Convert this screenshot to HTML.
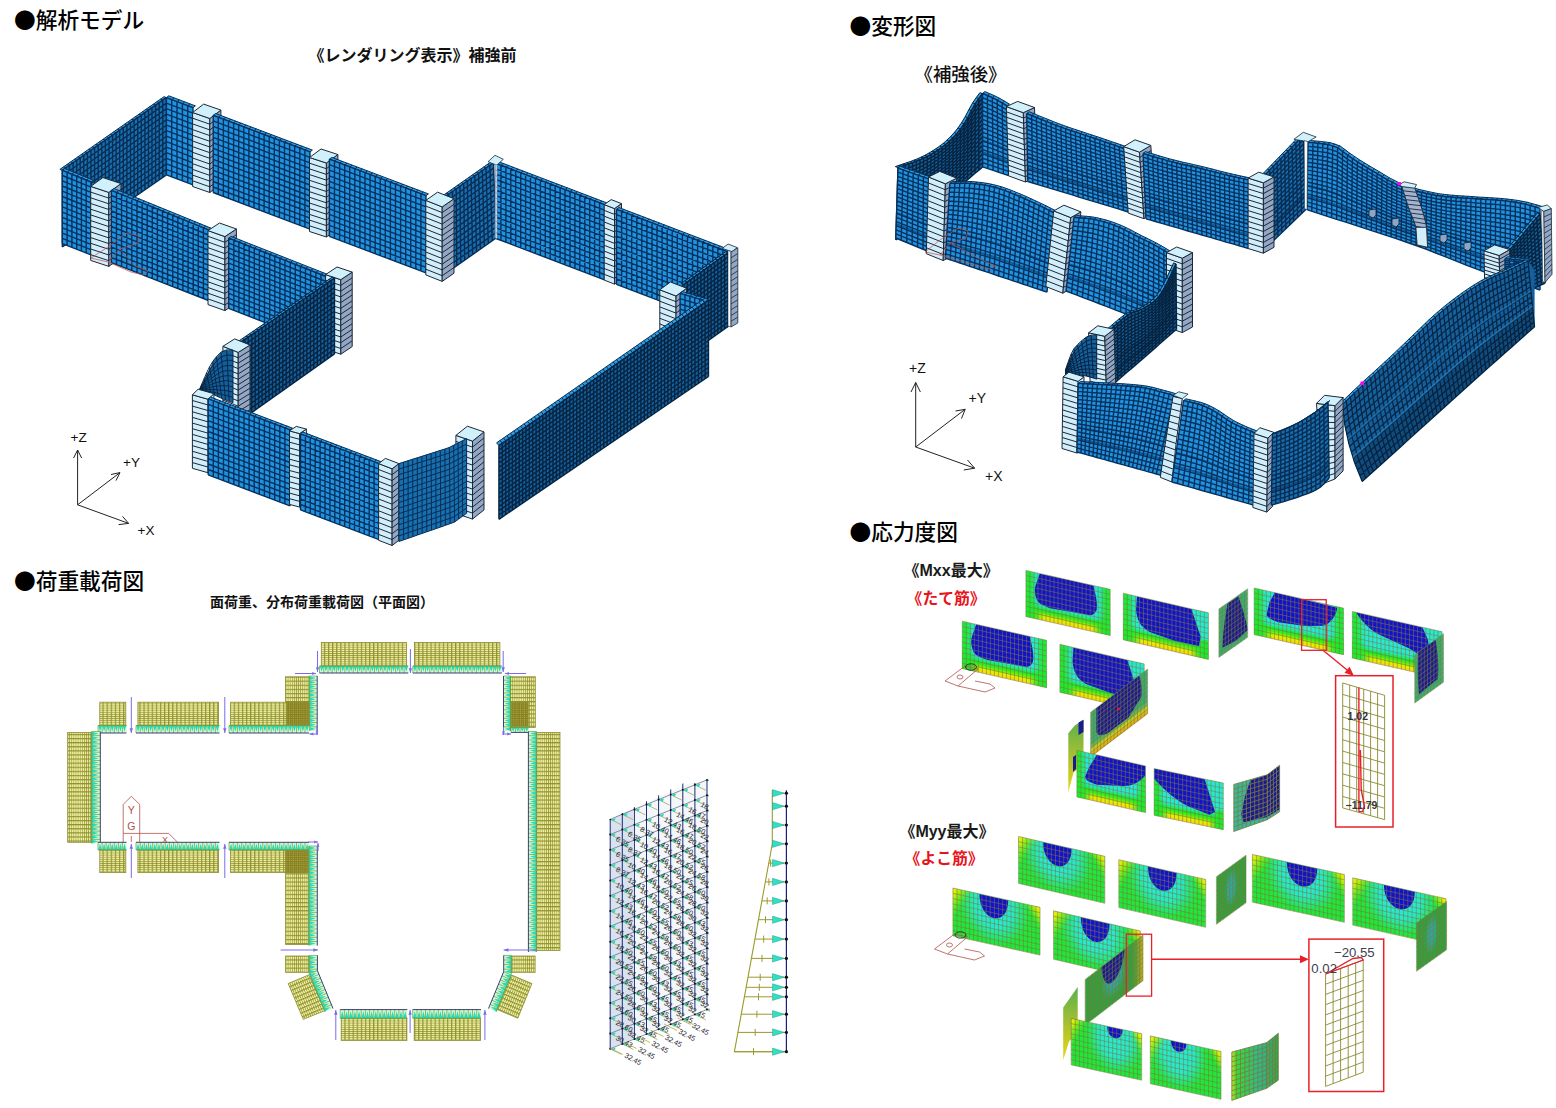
<!DOCTYPE html>
<html lang="ja"><head><meta charset="utf-8"><title>解析モデル</title>
<style>
html,body{margin:0;padding:0;background:#fff}
body{width:1556px;height:1108px;overflow:hidden;position:relative}
svg{position:absolute;left:0;top:0}
svg text{font-family:"Liberation Sans","Noto Sans CJK JP",sans-serif}
svg text.j{font-family:"Noto Sans CJK JP",sans-serif}
</style></head><body>
<svg width="1556" height="1108" viewBox="0 0 1556 1108">
<polygon points="59.9,169.4 164,96.7 166.4,97.6 62.3,170.3" fill="#2A9CE6"/>
<path d="M59.9 169.4L62.3 170.3M63.5 166.9L65.9 167.8M67.1 164.4L69.5 165.3M70.7 161.9L73.1 162.8M74.3 159.4L76.7 160.3M77.8 156.9L80.2 157.8M81.4 154.4L83.8 155.3M85 151.9L87.4 152.8M88.6 149.3L91 150.2M92.2 146.8L94.6 147.7M95.8 144.3L98.2 145.2M99.4 141.8L101.8 142.7M103 139.3L105.4 140.2M106.6 136.8L109 137.7M110.2 134.3L112.6 135.2M113.7 131.8L116.1 132.7M117.3 129.3L119.7 130.2M120.9 126.8L123.3 127.7M124.5 124.3L126.9 125.2M128.1 121.8L130.5 122.7M131.7 119.3L134.1 120.2M135.3 116.8L137.7 117.7M138.9 114.2L141.3 115.1M142.5 111.7L144.9 112.6M146.1 109.2L148.5 110.1M149.6 106.7L152 107.6M153.2 104.2L155.6 105.1M156.8 101.7L159.2 102.6M160.4 99.2L162.8 100.1M164 96.7L166.4 97.6M59.9 169.4L164 96.7M62.3 170.3L166.4 97.6" fill="none" stroke="#082C52" stroke-width="1"/>
<polygon points="62.3,170.3 166.4,97.6 166.4,174.8 62.3,247" fill="#176FB0"/>
<path d="M62.3 170.3L62.3 247M65.9 167.8L65.9 244.5M69.5 165.3L69.5 242M73.1 162.8L73.1 239.5M76.7 160.3L76.7 237M80.2 157.8L80.2 234.6M83.8 155.3L83.8 232.1M87.4 152.8L87.4 229.6M91 150.2L91 227.1M94.6 147.7L94.6 224.6M98.2 145.2L98.2 222.1M101.8 142.7L101.8 219.6M105.4 140.2L105.4 217.1M109 137.7L109 214.6M112.6 135.2L112.6 212.1M116.1 132.7L116.1 209.7M119.7 130.2L119.7 207.2M123.3 127.7L123.3 204.7M126.9 125.2L126.9 202.2M130.5 122.7L130.5 199.7M134.1 120.2L134.1 197.2M137.7 117.7L137.7 194.7M141.3 115.1L141.3 192.2M144.9 112.6L144.9 189.7M148.5 110.1L148.5 187.2M152 107.6L152 184.8M155.6 105.1L155.6 182.3M159.2 102.6L159.2 179.8M162.8 100.1L162.8 177.3M166.4 97.6L166.4 174.8M62.3 170.3L166.4 97.6M62.3 175.8L166.4 103.1M62.3 181.3L166.4 108.6M62.3 186.7L166.4 114.1M62.3 192.2L166.4 119.7M62.3 197.7L166.4 125.2M62.3 203.2L166.4 130.7M62.3 208.7L166.4 136.2M62.3 214.1L166.4 141.7M62.3 219.6L166.4 147.2M62.3 225.1L166.4 152.7M62.3 230.6L166.4 158.3M62.3 236L166.4 163.8M62.3 241.5L166.4 169.3M62.3 247L166.4 174.8" fill="none" stroke="#082C52" stroke-width="1.4"/>
<polygon points="168.8,95.8 195.4,105.9 193,107.7 166.4,97.6" fill="#2A9CE6"/>
<path d="M168.8 95.8L166.4 97.6M174.1 97.8L171.7 99.6M179.4 99.8L177 101.6M184.8 101.8L182.4 103.6M190.1 103.8L187.7 105.6M195.4 105.9L193 107.7M168.8 95.8L195.4 105.9M166.4 97.6L193 107.7" fill="none" stroke="#08305C" stroke-width="1"/>
<polygon points="166.4,97.6 193,107.7 193,184.9 166.4,174.8" fill="#1F93E0"/>
<path d="M166.4 97.6L166.4 174.8M171.7 99.6L171.7 176.8M177 101.6L177 178.8M182.4 103.6L182.4 180.8M187.7 105.6L187.7 182.8M193 107.7L193 184.9M166.4 97.6L193 107.7M166.4 103.1L193 113.2M166.4 108.6L193 118.7M166.4 114.1L193 124.2M166.4 119.7L193 129.7M166.4 125.2L193 135.2M166.4 130.7L193 140.7M166.4 136.2L193 146.3M166.4 141.7L193 151.8M166.4 147.2L193 157.3M166.4 152.7L193 162.8M166.4 158.3L193 168.3M166.4 163.8L193 173.8M166.4 169.3L193 179.3M166.4 174.8L193 184.9" fill="none" stroke="#08305C" stroke-width="1.4"/>
<polygon points="192.6,112.5 209.8,118.5 209.8,192.5 192.6,186.5" fill="#D3EEFB" stroke="#1B2836" stroke-width="1"/>
<polygon points="209.8,118.5 220.9,110.1 220.9,184.1 209.8,192.5" fill="#93A6C4" stroke="#1B2836" stroke-width="1"/>
<polygon points="192.6,112.5 209.8,118.5 220.9,110.1 203.7,104.1" fill="#D0F0FC" stroke="#1B2836" stroke-width="1"/>
<path d="M192.6 118.2L209.8 124.2L220.9 115.8M192.6 123.9L209.8 129.9L220.9 121.5M192.6 129.6L209.8 135.6L220.9 127.2M192.6 135.3L209.8 141.3L220.9 132.9M192.6 141L209.8 147L220.9 138.6M192.6 146.7L209.8 152.7L220.9 144.3M192.6 152.3L209.8 158.3L220.9 149.9M192.6 158L209.8 164L220.9 155.6M192.6 163.7L209.8 169.7L220.9 161.3M192.6 169.4L209.8 175.4L220.9 167M192.6 175.1L209.8 181.1L220.9 172.7M192.6 180.8L209.8 186.8L220.9 178.4" fill="none" stroke="#1B2836" stroke-width="1"/>
<polygon points="215.6,113.5 312.4,150.1 310,151.9 213.2,115.3" fill="#2A9CE6"/>
<path d="M215.6 113.5L213.2 115.3M220.7 115.4L218.3 117.2M225.8 117.3L223.4 119.1M230.9 119.3L228.5 121.1M236 121.2L233.6 123M241.1 123.1L238.7 124.9M246.2 125L243.8 126.8M251.3 127L248.9 128.8M256.4 128.9L254 130.7M261.5 130.8L259.1 132.6M266.5 132.7L264.1 134.5M271.6 134.7L269.2 136.5M276.7 136.6L274.3 138.4M281.8 138.5L279.4 140.3M286.9 140.5L284.5 142.3M292 142.4L289.6 144.2M297.1 144.3L294.7 146.1M302.2 146.2L299.8 148M307.3 148.2L304.9 150M312.4 150.1L310 151.9M215.6 113.5L312.4 150.1M213.2 115.3L310 151.9" fill="none" stroke="#08305C" stroke-width="1"/>
<polygon points="213.2,115.3 310,151.9 310,229.1 213.2,192.5" fill="#1F93E0"/>
<path d="M213.2 115.3L213.2 192.5M218.3 117.2L218.3 194.4M223.4 119.1L223.4 196.3M228.5 121.1L228.5 198.3M233.6 123L233.6 200.2M238.7 124.9L238.7 202.1M243.8 126.8L243.8 204M248.9 128.8L248.9 206M254 130.7L254 207.9M259.1 132.6L259.1 209.8M264.1 134.5L264.1 211.7M269.2 136.5L269.2 213.7M274.3 138.4L274.3 215.6M279.4 140.3L279.4 217.5M284.5 142.3L284.5 219.5M289.6 144.2L289.6 221.4M294.7 146.1L294.7 223.3M299.8 148L299.8 225.2M304.9 150L304.9 227.2M310 151.9L310 229.1M213.2 115.3L310 151.9M213.2 120.8L310 157.4M213.2 126.3L310 162.9M213.2 131.8L310 168.4M213.2 137.3L310 173.9M213.2 142.9L310 179.5M213.2 148.4L310 185M213.2 153.9L310 190.5M213.2 159.4L310 196M213.2 164.9L310 201.5M213.2 170.4L310 207M213.2 175.9L310 212.5M213.2 181.5L310 218.1M213.2 187L310 223.6M213.2 192.5L310 229.1" fill="none" stroke="#08305C" stroke-width="1.4"/>
<polygon points="309.5,157.5 326.4,163 326.4,237 309.5,231.5" fill="#D3EEFB" stroke="#1B2836" stroke-width="1"/>
<polygon points="326.4,163 337.9,154.5 337.9,228.5 326.4,237" fill="#93A6C4" stroke="#1B2836" stroke-width="1"/>
<polygon points="309.5,157.5 326.4,163 337.9,154.5 321,149" fill="#D0F0FC" stroke="#1B2836" stroke-width="1"/>
<path d="M309.5 163.2L326.4 168.7L337.9 160.2M309.5 168.9L326.4 174.4L337.9 165.9M309.5 174.6L326.4 180.1L337.9 171.6M309.5 180.3L326.4 185.8L337.9 177.3M309.5 186L326.4 191.5L337.9 183M309.5 191.7L326.4 197.2L337.9 188.7M309.5 197.3L326.4 202.8L337.9 194.3M309.5 203L326.4 208.5L337.9 200M309.5 208.7L326.4 214.2L337.9 205.7M309.5 214.4L326.4 219.9L337.9 211.4M309.5 220.1L326.4 225.6L337.9 217.1M309.5 225.8L326.4 231.3L337.9 222.8" fill="none" stroke="#1B2836" stroke-width="1"/>
<polygon points="331.8,157.4 428.4,193.9 426,195.7 329.4,159.2" fill="#2A9CE6"/>
<path d="M331.8 157.4L329.4 159.2M336.9 159.3L334.5 161.1M342 161.3L339.6 163.1M347.1 163.2L344.7 165M352.1 165.1L349.7 166.9M357.2 167L354.8 168.8M362.3 168.9L359.9 170.7M367.4 170.9L365 172.7M372.5 172.8L370.1 174.6M377.6 174.7L375.2 176.5M382.6 176.6L380.2 178.4M387.7 178.6L385.3 180.4M392.8 180.5L390.4 182.3M397.9 182.4L395.5 184.2M403 184.3L400.6 186.1M408.1 186.2L405.7 188M413.1 188.2L410.7 190M418.2 190.1L415.8 191.9M423.3 192L420.9 193.8M428.4 193.9L426 195.7M331.8 157.4L428.4 193.9M329.4 159.2L426 195.7" fill="none" stroke="#08305C" stroke-width="1"/>
<polygon points="329.4,159.2 426,195.7 426,272.9 329.4,236.4" fill="#1F93E0"/>
<path d="M329.4 159.2L329.4 236.4M334.5 161.1L334.5 238.3M339.6 163.1L339.6 240.3M344.7 165L344.7 242.2M349.7 166.9L349.7 244.1M354.8 168.8L354.8 246M359.9 170.7L359.9 247.9M365 172.7L365 249.9M370.1 174.6L370.1 251.8M375.2 176.5L375.2 253.7M380.2 178.4L380.2 255.6M385.3 180.4L385.3 257.6M390.4 182.3L390.4 259.5M395.5 184.2L395.5 261.4M400.6 186.1L400.6 263.3M405.7 188L405.7 265.2M410.7 190L410.7 267.2M415.8 191.9L415.8 269.1M420.9 193.8L420.9 271M426 195.7L426 272.9M329.4 159.2L426 195.7M329.4 164.7L426 201.2M329.4 170.2L426 206.8M329.4 175.8L426 212.3M329.4 181.3L426 217.8M329.4 186.8L426 223.3M329.4 192.3L426 228.8M329.4 197.8L426 234.3M329.4 203.3L426 239.8M329.4 208.8L426 245.4M329.4 214.4L426 250.9M329.4 219.9L426 256.4M329.4 225.4L426 261.9M329.4 230.9L426 267.4M329.4 236.4L426 272.9" fill="none" stroke="#08305C" stroke-width="1.4"/>
<polygon points="442.6,195.8 491.1,161.8 493.5,162.7 445,196.7" fill="#2A9CE6"/>
<path d="M442.6 195.8L445 196.7M446.3 193.2L448.7 194.1M450.1 190.6L452.5 191.5M453.8 188L456.2 188.9M457.5 185.3L459.9 186.2M461.3 182.7L463.7 183.6M465 180.1L467.4 181M468.7 177.5L471.1 178.4M472.4 174.9L474.8 175.8M476.2 172.3L478.6 173.2M479.9 169.6L482.3 170.5M483.6 167L486 167.9M487.4 164.4L489.8 165.3M491.1 161.8L493.5 162.7M442.6 195.8L491.1 161.8M445 196.7L493.5 162.7" fill="none" stroke="#082C52" stroke-width="1"/>
<polygon points="445,196.7 493.5,162.7 496.2,238 445,274" fill="#176FB0"/>
<path d="M445 196.7L445 274M448.7 194.1L448.9 271.2M452.5 191.5L452.9 268.5M456.2 188.9L456.8 265.7M459.9 186.2L460.8 262.9M463.7 183.6L464.7 260.2M467.4 181L468.6 257.4M471.1 178.4L472.6 254.6M474.8 175.8L476.5 251.8M478.6 173.2L480.4 249.1M482.3 170.5L484.4 246.3M486 167.9L488.3 243.5M489.8 165.3L492.3 240.8M493.5 162.7L496.2 238M445 196.7L493.5 162.7M445 202.2L493.7 168.1M445 207.7L493.9 173.5M445 213.3L494.1 178.8M445 218.8L494.3 184.2M445 224.3L494.5 189.6M445 229.8L494.7 195M445 235.4L494.9 200.4M445 240.9L495 205.7M445 246.4L495.2 211.1M445 251.9L495.4 216.5M445 257.4L495.6 221.9M445 263L495.8 227.2M445 268.5L496 232.6M445 274L496.2 238" fill="none" stroke="#082C52" stroke-width="1.4"/>
<polygon points="498.4,161.6 606.9,202.9 604.5,204.7 496,163.4" fill="#2A9CE6"/>
<path d="M498.4 161.6L496 163.4M503.3 163.5L500.9 165.3M508.3 165.4L505.9 167.2M513.2 167.2L510.8 169M518.1 169.1L515.7 170.9M523.1 171L520.7 172.8M528 172.9L525.6 174.7M532.9 174.8L530.5 176.6M537.9 176.6L535.5 178.4M542.8 178.5L540.4 180.3M547.7 180.4L545.3 182.2M552.6 182.3L550.2 184.1M557.6 184.1L555.2 185.9M562.5 186L560.1 187.8M567.4 187.9L565 189.7M572.4 189.8L570 191.6M577.3 191.7L574.9 193.5M582.2 193.5L579.8 195.3M587.2 195.4L584.8 197.2M592.1 197.3L589.7 199.1M597 199.2L594.6 201M602 201.1L599.6 202.9M606.9 202.9L604.5 204.7M498.4 161.6L606.9 202.9M496 163.4L604.5 204.7" fill="none" stroke="#08305C" stroke-width="1"/>
<polygon points="496,163.4 604.5,204.7 604.5,279.8 496,238.5" fill="#1F93E0"/>
<path d="M496 163.4L496 238.5M500.9 165.3L500.9 240.4M505.9 167.2L505.9 242.3M510.8 169L510.8 244.1M515.7 170.9L515.7 246M520.7 172.8L520.7 247.9M525.6 174.7L525.6 249.8M530.5 176.6L530.5 251.7M535.5 178.4L535.5 253.5M540.4 180.3L540.4 255.4M545.3 182.2L545.3 257.3M550.2 184.1L550.2 259.2M555.2 185.9L555.2 261M560.1 187.8L560.1 262.9M565 189.7L565 264.8M570 191.6L570 266.7M574.9 193.5L574.9 268.6M579.8 195.3L579.8 270.4M584.8 197.2L584.8 272.3M589.7 199.1L589.7 274.2M594.6 201L594.6 276.1M599.6 202.9L599.6 278M604.5 204.7L604.5 279.8M496 163.4L604.5 204.7M496 168.8L604.5 210.1M496 174.1L604.5 215.5M496 179.5L604.5 220.8M496 184.9L604.5 226.2M496 190.2L604.5 231.6M496 195.6L604.5 236.9M496 200.9L604.5 242.3M496 206.3L604.5 247.7M496 211.7L604.5 253M496 217L604.5 258.4M496 222.4L604.5 263.7M496 227.8L604.5 269.1M496 233.1L604.5 274.5M496 238.5L604.5 279.8" fill="none" stroke="#08305C" stroke-width="1.4"/>
<polygon points="604.2,204.6 614.5,208.6 614.5,284.1 604.2,280.1" fill="#D3EEFB" stroke="#1B2836" stroke-width="1"/>
<polygon points="614.5,208.6 621.5,203.6 621.5,279.1 614.5,284.1" fill="#93A6C4" stroke="#1B2836" stroke-width="1"/>
<polygon points="604.2,204.6 614.5,208.6 621.5,203.6 611.2,199.6" fill="#D0F0FC" stroke="#1B2836" stroke-width="1"/>
<path d="M604.2 210.4L614.5 214.4L621.5 209.4M604.2 216.2L614.5 220.2L621.5 215.2M604.2 222L614.5 226L621.5 221M604.2 227.8L614.5 231.8L621.5 226.8M604.2 233.6L614.5 237.6L621.5 232.6M604.2 239.4L614.5 243.4L621.5 238.4M604.2 245.3L614.5 249.3L621.5 244.3M604.2 251.1L614.5 255.1L621.5 250.1M604.2 256.9L614.5 260.9L621.5 255.9M604.2 262.7L614.5 266.7L621.5 261.7M604.2 268.5L614.5 272.5L621.5 267.5M604.2 274.3L614.5 278.3L621.5 273.3" fill="none" stroke="#1B2836" stroke-width="1"/>
<polygon points="618.9,207.5 730.4,250 728,251.8 616.5,209.3" fill="#2A9CE6"/>
<path d="M618.9 207.5L616.5 209.3M624 209.4L621.6 211.2M629 211.4L626.6 213.2M634.1 213.3L631.7 215.1M639.2 215.2L636.8 217M644.2 217.2L641.8 219M649.3 219.1L646.9 220.9M654.4 221L652 222.8M659.4 223L657 224.8M664.5 224.9L662.1 226.7M669.6 226.8L667.2 228.6M674.6 228.8L672.2 230.6M679.7 230.7L677.3 232.5M684.8 232.6L682.4 234.4M689.9 234.5L687.5 236.3M694.9 236.5L692.5 238.3M700 238.4L697.6 240.2M705.1 240.3L702.7 242.1M710.1 242.3L707.7 244.1M715.2 244.2L712.8 246M720.3 246.1L717.9 247.9M725.3 248.1L722.9 249.9M730.4 250L728 251.8M618.9 207.5L730.4 250M616.5 209.3L728 251.8" fill="none" stroke="#08305C" stroke-width="1"/>
<polygon points="616.5,209.3 728,251.8 728,326.9 616.5,284.4" fill="#1F93E0"/>
<path d="M616.5 209.3L616.5 284.4M621.6 211.2L621.6 286.3M626.6 213.2L626.6 288.3M631.7 215.1L631.7 290.2M636.8 217L636.8 292.1M641.8 219L641.8 294.1M646.9 220.9L646.9 296M652 222.8L652 297.9M657 224.8L657 299.9M662.1 226.7L662.1 301.8M667.2 228.6L667.2 303.7M672.2 230.6L672.2 305.7M677.3 232.5L677.3 307.6M682.4 234.4L682.4 309.5M687.5 236.3L687.5 311.4M692.5 238.3L692.5 313.4M697.6 240.2L697.6 315.3M702.7 242.1L702.7 317.2M707.7 244.1L707.7 319.2M712.8 246L712.8 321.1M717.9 247.9L717.9 323M722.9 249.9L722.9 325M728 251.8L728 326.9M616.5 209.3L728 251.8M616.5 214.7L728 257.2M616.5 220L728 262.5M616.5 225.4L728 267.9M616.5 230.8L728 273.2M616.5 236.1L728 278.6M616.5 241.5L728 284M616.5 246.9L728 289.3M616.5 252.2L728 294.7M616.5 257.6L728 300.1M616.5 263L728 305.4M616.5 268.3L728 310.8M616.5 273.7L728 316.2M616.5 279L728 321.5M616.5 284.4L728 326.9" fill="none" stroke="#08305C" stroke-width="1.4"/>
<polygon points="488,161.7 495,155.3 503.3,159.3 496.7,165.2" fill="#D0F0FC" stroke="#1B2836" stroke-width="0.8"/>
<polygon points="495.2,164.3 497,165 497,238.5 495.2,237.8" fill="#F4FBFF"/>
<path d="M495.2 164.3L495.2 237.8M497 165L497 238.5M495.2 164.3L497 165M495.2 170L497 170.7M495.2 175.6L497 176.3M495.2 181.3L497 182M495.2 186.9L497 187.6M495.2 192.6L497 193.3M495.2 198.2L497 198.9M495.2 203.9L497 204.6M495.2 209.5L497 210.2M495.2 215.2L497 215.9M495.2 220.8L497 221.5M495.2 226.5L497 227.2M495.2 232.1L497 232.8M495.2 237.8L497 238.5" fill="none" stroke="#7A8CA6" stroke-width="0.8"/>
<polygon points="425.8,200.4 442.2,206.9 442.2,281.4 425.8,274.9" fill="#D3EEFB" stroke="#1B2836" stroke-width="1"/>
<polygon points="442.2,206.9 454,198.7 454,273.2 442.2,281.4" fill="#93A6C4" stroke="#1B2836" stroke-width="1"/>
<polygon points="425.8,200.4 442.2,206.9 454,198.7 437.6,192.2" fill="#D0F0FC" stroke="#1B2836" stroke-width="1"/>
<path d="M425.8 206.1L442.2 212.6L454 204.4M425.8 211.9L442.2 218.4L454 210.2M425.8 217.6L442.2 224.1L454 215.9M425.8 223.3L442.2 229.8L454 221.6M425.8 229.1L442.2 235.6L454 227.4M425.8 234.8L442.2 241.3L454 233.1M425.8 240.5L442.2 247L454 238.8M425.8 246.2L442.2 252.7L454 244.5M425.8 252L442.2 258.5L454 250.3M425.8 257.7L442.2 264.2L454 256M425.8 263.4L442.2 269.9L454 261.7M425.8 269.2L442.2 275.7L454 267.5" fill="none" stroke="#1B2836" stroke-width="1"/>
<polygon points="681.4,283.4 725.4,251.8 728,252.8 684,284.4" fill="#2A9CE6"/>
<path d="M681.4 283.4L684 284.4M684.8 281L687.4 282M688.2 278.5L690.8 279.5M691.6 276.1L694.2 277.1M694.9 273.7L697.5 274.7M698.3 271.2L700.9 272.2M701.7 268.8L704.3 269.8M705.1 266.4L707.7 267.4M708.5 264L711.1 265M711.9 261.5L714.5 262.5M715.2 259.1L717.8 260.1M718.6 256.7L721.2 257.7M722 254.2L724.6 255.2M725.4 251.8L728 252.8M681.4 283.4L725.4 251.8M684 284.4L728 252.8" fill="none" stroke="#06233F" stroke-width="1"/>
<polygon points="684,284.4 728,252.8 728,326.4 684,358" fill="#145F9C"/>
<path d="M684 284.4L684 358M687.4 282L687.4 355.6M690.8 279.5L690.8 353.1M694.2 277.1L694.2 350.7M697.5 274.7L697.5 348.3M700.9 272.2L700.9 345.8M704.3 269.8L704.3 343.4M707.7 267.4L707.7 341M711.1 265L711.1 338.6M714.5 262.5L714.5 336.1M717.8 260.1L717.8 333.7M721.2 257.7L721.2 331.3M724.6 255.2L724.6 328.8M728 252.8L728 326.4M684 284.4L728 252.8M684 288.7L728 257.1M684 293.1L728 261.5M684 297.4L728 265.8M684 301.7L728 270.1M684 306L728 274.4M684 310.4L728 278.8M684 314.7L728 283.1M684 319L728 287.4M684 323.4L728 291.8M684 327.7L728 296.1M684 332L728 300.4M684 336.4L728 304.8M684 340.7L728 309.1M684 345L728 313.4M684 349.3L728 317.7M684 353.7L728 322.1M684 358L728 326.4" fill="none" stroke="#06233F" stroke-width="1.4"/>
<polygon points="722.3,248.4 728,244 737.3,247.6 732,251.7" fill="#D0F0FC" stroke="#1B2836" stroke-width="0.8"/>
<polygon points="728,250.3 731,252 731,327 728,326" fill="#F4FBFF" stroke="#1B2836" stroke-width="0.5"/>
<polygon points="731,252 737.8,247.8 737.8,323 731,327" fill="#93A6C4"/>
<path d="M731 252L731 327M737.8 247.8L737.8 323M731 252L737.8 247.8M731 257.8L737.8 253.6M731 263.5L737.8 259.4M731 269.3L737.8 265.2M731 275.1L737.8 270.9M731 280.8L737.8 276.7M731 286.6L737.8 282.5M731 292.4L737.8 288.3M731 298.2L737.8 294.1M731 303.9L737.8 299.9M731 309.7L737.8 305.6M731 315.5L737.8 311.4M731 321.2L737.8 317.2M731 327L737.8 323" fill="none" stroke="#1B2836" stroke-width="0.8"/>
<polygon points="659.8,289.8 676,296 676,370 659.8,363.8" fill="#D3EEFB" stroke="#1B2836" stroke-width="1"/>
<polygon points="676,296 686.6,288.2 686.6,362.2 676,370" fill="#93A6C4" stroke="#1B2836" stroke-width="1"/>
<polygon points="659.8,289.8 676,296 686.6,288.2 670.4,282" fill="#D0F0FC" stroke="#1B2836" stroke-width="1"/>
<path d="M659.8 295.5L676 301.7L686.6 293.9M659.8 301.2L676 307.4L686.6 299.6M659.8 306.9L676 313.1L686.6 305.3M659.8 312.6L676 318.8L686.6 311M659.8 318.3L676 324.5L686.6 316.7M659.8 324L676 330.2L686.6 322.4M659.8 329.6L676 335.8L686.6 328M659.8 335.3L676 341.5L686.6 333.7M659.8 341L676 347.2L686.6 339.4M659.8 346.7L676 352.9L686.6 345.1M659.8 352.4L676 358.6L686.6 350.8M659.8 358.1L676 364.3L686.6 356.5" fill="none" stroke="#1B2836" stroke-width="1"/>
<polygon points="682.5,291.6 706.9,298.9 704.5,300.7 680.1,293.4" fill="#2A9CE6"/>
<path d="M682.5 291.6L680.1 293.4M687.4 293.1L685 294.9M692.3 294.5L689.9 296.3M697.1 296L694.7 297.8M702 297.4L699.6 299.2M706.9 298.9L704.5 300.7M682.5 291.6L706.9 298.9M680.1 293.4L704.5 300.7" fill="none" stroke="#08305C" stroke-width="1"/>
<polygon points="680.1,293.4 704.5,300.7 704.5,332.4 680.1,325.1" fill="#1F93E0"/>
<path d="M680.1 293.4L680.1 325.1M685 294.9L685 326.6M689.9 296.3L689.9 328M694.7 297.8L694.7 329.5M699.6 299.2L699.6 330.9M704.5 300.7L704.5 332.4M680.1 293.4L704.5 300.7M680.1 298.7L704.5 306M680.1 304L704.5 311.3M680.1 309.2L704.5 316.5M680.1 314.5L704.5 321.8M680.1 319.8L704.5 327.1M680.1 325.1L704.5 332.4" fill="none" stroke="#08305C" stroke-width="1.4"/>
<polygon points="496.6,442.8 702.4,300 704.6,302.8 498.9,445.6" fill="#2A9CE6"/>
<path d="M496.6 442.8L498.9 445.6M500 440.4L502.3 443.2M503.5 438L505.8 440.8M506.9 435.7L509.2 438.5M510.3 433.3L512.6 436.1M513.8 430.9L516 433.7M517.2 428.5L519.5 431.3M520.6 426.1L522.9 428.9M524 423.8L526.3 426.6M527.5 421.4L529.8 424.2M530.9 419L533.2 421.8M534.3 416.6L536.6 419.4M537.8 414.2L540 417M541.2 411.9L543.5 414.7M544.6 409.5L546.9 412.3M548 407.1L550.3 409.9M551.5 404.7L553.8 407.5M554.9 402.3L557.2 405.1M558.3 400L560.6 402.8M561.8 397.6L564 400.4M565.2 395.2L567.5 398M568.6 392.8L570.9 395.6M572.1 390.4L574.3 393.2M575.5 388.1L577.8 390.9M578.9 385.7L581.2 388.5M582.4 383.3L584.6 386.1M585.8 380.9L588 383.7M589.2 378.5L591.5 381.3M592.6 376.2L594.9 379M596.1 373.8L598.3 376.6M599.5 371.4L601.8 374.2M602.9 369L605.2 371.8M606.4 366.6L608.6 369.4M609.8 364.3L612 367.1M613.2 361.9L615.5 364.7M616.6 359.5L618.9 362.3M620.1 357.1L622.3 359.9M623.5 354.7L625.7 357.5M626.9 352.4L629.2 355.2M630.4 350L632.6 352.8M633.8 347.6L636 350.4M637.2 345.2L639.5 348M640.7 342.8L642.9 345.6M644.1 340.5L646.3 343.3M647.5 338.1L649.7 340.9M651 335.7L653.2 338.5M654.4 333.3L656.6 336.1M657.8 330.9L660 333.7M661.2 328.6L663.5 331.4M664.7 326.2L666.9 329M668.1 323.8L670.3 326.6M671.5 321.4L673.7 324.2M675 319L677.2 321.8M678.4 316.7L680.6 319.5M681.8 314.3L684 317.1M685.2 311.9L687.5 314.7M688.7 309.5L690.9 312.3M692.1 307.1L694.3 309.9M695.5 304.8L697.7 307.6M699 302.4L701.2 305.2M702.4 300L704.6 302.8M496.6 442.8L702.4 300M498.9 445.6L704.6 302.8" fill="none" stroke="#06233F" stroke-width="0.9"/>
<polygon points="498.9,445.6 708.5,300.1 708.5,376.5 498.9,519.3" fill="#145F9C"/>
<path d="M498.9 445.6L498.9 519.3M502.3 443.3L502.3 517M505.7 440.9L505.7 514.7M509 438.6L509 512.4M512.4 436.2L512.4 510.1M515.8 433.9L515.8 507.8M519.2 431.5L519.2 505.5M522.6 429.2L522.6 503.2M525.9 426.8L525.9 500.9M529.3 424.5L529.3 498.6M532.7 422.1L532.7 496.3M536.1 419.8L536.1 494M539.5 417.4L539.5 491.7M542.8 415.1L542.8 489.4M546.2 412.7L546.2 487.1M549.6 410.4L549.6 484.8M553 408.1L553 482.4M556.4 405.7L556.4 480.1M559.8 403.4L559.8 477.8M563.1 401L563.1 475.5M566.5 398.7L566.5 473.2M569.9 396.3L569.9 470.9M573.3 394L573.3 468.6M576.7 391.6L576.7 466.3M580 389.3L580 464M583.4 386.9L583.4 461.7M586.8 384.6L586.8 459.4M590.2 382.2L590.2 457.1M593.6 379.9L593.6 454.8M596.9 377.5L596.9 452.5M600.3 375.2L600.3 450.2M603.7 372.9L603.7 447.9M607.1 370.5L607.1 445.6M610.5 368.2L610.5 443.3M613.8 365.8L613.8 441M617.2 363.5L617.2 438.7M620.6 361.1L620.6 436.4M624 358.8L624 434.1M627.4 356.4L627.4 431.8M630.7 354.1L630.7 429.5M634.1 351.7L634.1 427.2M637.5 349.4L637.5 424.9M640.9 347L640.9 422.6M644.3 344.7L644.3 420.3M647.6 342.3L647.6 418M651 340L651 415.7M654.4 337.6L654.4 413.4M657.8 335.3L657.8 411M661.2 333L661.2 408.7M664.6 330.6L664.6 406.4M667.9 328.3L667.9 404.1M671.3 325.9L671.3 401.8M674.7 323.6L674.7 399.5M678.1 321.2L678.1 397.2M681.5 318.9L681.5 394.9M684.8 316.5L684.8 392.6M688.2 314.2L688.2 390.3M691.6 311.8L691.6 388M695 309.5L695 385.7M698.4 307.1L698.4 383.4M701.7 304.8L701.7 381.1M705.1 302.4L705.1 378.8M708.5 300.1L708.5 376.5M498.9 445.6L708.5 300.1M498.9 449.9L708.5 304.6M498.9 454.3L708.5 309.1M498.9 458.6L708.5 313.6M498.9 462.9L708.5 318.1M498.9 467.3L708.5 322.6M498.9 471.6L708.5 327.1M498.9 475.9L708.5 331.6M498.9 480.3L708.5 336.1M498.9 484.6L708.5 340.5M498.9 489L708.5 345M498.9 493.3L708.5 349.5M498.9 497.6L708.5 354M498.9 502L708.5 358.5M498.9 506.3L708.5 363M498.9 510.6L708.5 367.5M498.9 515L708.5 372M498.9 519.3L708.5 376.5" fill="none" stroke="#06233F" stroke-width="1.4"/>
<polygon points="704.6,302 702.4,299.6 705.5,298.5 708.5,299.3" fill="#2A9CE6" stroke="#06233F" stroke-width="0.7"/>
<polygon points="64.7,168.5 93.4,180.2 91,182 62.3,170.3" fill="#2A9CE6"/>
<path d="M64.7 168.5L62.3 170.3M69.5 170.5L67.1 172.3M74.3 172.4L71.9 174.2M79.1 174.4L76.7 176.2M83.8 176.3L81.4 178.1M88.6 178.3L86.2 180.1M93.4 180.2L91 182M64.7 168.5L93.4 180.2M62.3 170.3L91 182" fill="none" stroke="#08305C" stroke-width="1"/>
<polygon points="62.3,170.3 91,182 91,254.8 62.3,243.6" fill="#1F93E0"/>
<path d="M62.3 170.3L62.3 243.6M67.1 172.3L67.1 245.5M71.9 174.2L71.9 247.3M76.7 176.2L76.7 249.2M81.4 178.1L81.4 251M86.2 180.1L86.2 252.9M91 182L91 254.8M62.3 170.3L91 182M62.3 175.5L91 187.2M62.3 180.8L91 192.4M62.3 186L91 197.6M62.3 191.2L91 202.8M62.3 196.5L91 208M62.3 201.7L91 213.2M62.3 206.9L91 218.4M62.3 212.2L91 223.6M62.3 217.4L91 228.8M62.3 222.7L91 234M62.3 227.9L91 239.2M62.3 233.1L91 244.4M62.3 238.4L91 249.6M62.3 243.6L91 254.8" fill="none" stroke="#08305C" stroke-width="1.4"/>
<polygon points="90.7,186.4 108.8,192.4 108.8,266.4 90.7,260.4" fill="#D3EEFB" stroke="#1B2836" stroke-width="1"/>
<polygon points="108.8,192.4 121,183.6 121,257.6 108.8,266.4" fill="#93A6C4" stroke="#1B2836" stroke-width="1"/>
<polygon points="90.7,186.4 108.8,192.4 121,183.6 102.9,177.6" fill="#D0F0FC" stroke="#1B2836" stroke-width="1"/>
<path d="M90.7 192.1L108.8 198.1L121 189.3M90.7 197.8L108.8 203.8L121 195M90.7 203.5L108.8 209.5L121 200.7M90.7 209.2L108.8 215.2L121 206.4M90.7 214.9L108.8 220.9L121 212.1M90.7 220.6L108.8 226.6L121 217.8M90.7 226.2L108.8 232.2L121 223.4M90.7 231.9L108.8 237.9L121 229.1M90.7 237.6L108.8 243.6L121 234.8M90.7 243.3L108.8 249.3L121 240.5M90.7 249L108.8 255L121 246.2M90.7 254.7L108.8 260.7L121 251.9" fill="none" stroke="#1B2836" stroke-width="1"/>
<polygon points="113.8,188.5 210.9,228.1 208.5,229.9 111.4,190.3" fill="#2A9CE6"/>
<path d="M113.8 188.5L111.4 190.3M118.9 190.6L116.5 192.4M124 192.7L121.6 194.5M129.1 194.8L126.7 196.6M134.2 196.9L131.8 198.7M139.4 199L137 200.8M144.5 201L142.1 202.8M149.6 203.1L147.2 204.9M154.7 205.2L152.3 207M159.8 207.3L157.4 209.1M164.9 209.4L162.5 211.2M170 211.5L167.6 213.3M175.1 213.6L172.7 215.4M180.2 215.6L177.8 217.4M185.3 217.7L182.9 219.5M190.5 219.8L188.1 221.6M195.6 221.9L193.2 223.7M200.7 224L198.3 225.8M205.8 226.1L203.4 227.9M210.9 228.1L208.5 229.9M113.8 188.5L210.9 228.1M111.4 190.3L208.5 229.9" fill="none" stroke="#08305C" stroke-width="1"/>
<polygon points="111.4,190.3 208.5,229.9 208.5,300.5 111.4,262.7" fill="#1F93E0"/>
<path d="M111.4 190.3L111.4 262.7M116.5 192.4L116.5 264.7M121.6 194.5L121.6 266.7M126.7 196.6L126.7 268.7M131.8 198.7L131.8 270.7M137 200.8L137 272.6M142.1 202.8L142.1 274.6M147.2 204.9L147.2 276.6M152.3 207L152.3 278.6M157.4 209.1L157.4 280.6M162.5 211.2L162.5 282.6M167.6 213.3L167.6 284.6M172.7 215.4L172.7 286.6M177.8 217.4L177.8 288.5M182.9 219.5L182.9 290.5M188.1 221.6L188.1 292.5M193.2 223.7L193.2 294.5M198.3 225.8L198.3 296.5M203.4 227.9L203.4 298.5M208.5 229.9L208.5 300.5M111.4 190.3L208.5 229.9M111.4 195.5L208.5 235M111.4 200.7L208.5 240M111.4 205.8L208.5 245.1M111.4 211L208.5 250.1M111.4 216.2L208.5 255.1M111.4 221.3L208.5 260.2M111.4 226.5L208.5 265.2M111.4 231.7L208.5 270.2M111.4 236.9L208.5 275.3M111.4 242L208.5 280.3M111.4 247.2L208.5 285.4M111.4 252.4L208.5 290.4M111.4 257.5L208.5 295.4M111.4 262.7L208.5 300.5" fill="none" stroke="#08305C" stroke-width="1.4"/>
<polygon points="208,230.6 224.9,236.6 224.9,310.6 208,304.6" fill="#D3EEFB" stroke="#1B2836" stroke-width="1"/>
<polygon points="224.9,236.6 236.4,229 236.4,303 224.9,310.6" fill="#93A6C4" stroke="#1B2836" stroke-width="1"/>
<polygon points="208,230.6 224.9,236.6 236.4,229 219.5,223" fill="#D0F0FC" stroke="#1B2836" stroke-width="1"/>
<path d="M208 236.3L224.9 242.3L236.4 234.7M208 242L224.9 248L236.4 240.4M208 247.7L224.9 253.7L236.4 246.1M208 253.4L224.9 259.4L236.4 251.8M208 259.1L224.9 265.1L236.4 257.5M208 264.8L224.9 270.8L236.4 263.2M208 270.4L224.9 276.4L236.4 268.8M208 276.1L224.9 282.1L236.4 274.5M208 281.8L224.9 287.8L236.4 280.2M208 287.5L224.9 293.5L236.4 285.9M208 293.2L224.9 299.2L236.4 291.6M208 298.9L224.9 304.9L236.4 297.3" fill="none" stroke="#1B2836" stroke-width="1"/>
<polygon points="231.1,236.4 328.4,274.7 326,276.5 228.7,238.2" fill="#2A9CE6"/>
<path d="M231.1 236.4L228.7 238.2M236.2 238.4L233.8 240.2M241.3 240.4L238.9 242.2M246.5 242.4L244.1 244.2M251.6 244.5L249.2 246.3M256.7 246.5L254.3 248.3M261.8 248.5L259.4 250.3M266.9 250.5L264.5 252.3M272.1 252.5L269.7 254.3M277.2 254.5L274.8 256.3M282.3 256.6L279.9 258.4M287.4 258.6L285 260.4M292.6 260.6L290.2 262.4M297.7 262.6L295.3 264.4M302.8 264.6L300.4 266.4M307.9 266.6L305.5 268.4M313 268.7L310.6 270.5M318.2 270.7L315.8 272.5M323.3 272.7L320.9 274.5M328.4 274.7L326 276.5M231.1 236.4L328.4 274.7M228.7 238.2L326 276.5" fill="none" stroke="#08305C" stroke-width="1"/>
<polygon points="228.7,238.2 326,276.5 326,346.2 228.7,308.3" fill="#1F93E0"/>
<path d="M228.7 238.2L228.7 308.3M233.8 240.2L233.8 310.3M238.9 242.2L238.9 312.3M244.1 244.2L244.1 314.3M249.2 246.3L249.2 316.3M254.3 248.3L254.3 318.3M259.4 250.3L259.4 320.3M264.5 252.3L264.5 322.3M269.7 254.3L269.7 324.3M274.8 256.3L274.8 326.3M279.9 258.4L279.9 328.3M285 260.4L285 330.2M290.2 262.4L290.2 332.2M295.3 264.4L295.3 334.2M300.4 266.4L300.4 336.2M305.5 268.4L305.5 338.2M310.6 270.5L310.6 340.2M315.8 272.5L315.8 342.2M320.9 274.5L320.9 344.2M326 276.5L326 346.2M228.7 238.2L326 276.5M228.7 243.2L326 281.5M228.7 248.2L326 286.5M228.7 253.2L326 291.4M228.7 258.2L326 296.4M228.7 263.2L326 301.4M228.7 268.3L326 306.4M228.7 273.3L326 311.3M228.7 278.3L326 316.3M228.7 283.3L326 321.3M228.7 288.3L326 326.3M228.7 293.3L326 331.2M228.7 298.3L326 336.2M228.7 303.3L326 341.2M228.7 308.3L326 346.2" fill="none" stroke="#08305C" stroke-width="1.4"/>
<polygon points="325.6,274.6 340.8,279.7 340.8,354.2 325.6,349.1" fill="#D3EEFB" stroke="#1B2836" stroke-width="1"/>
<polygon points="340.8,279.7 352.2,272.1 352.2,346.6 340.8,354.2" fill="#93A6C4" stroke="#1B2836" stroke-width="1"/>
<polygon points="325.6,274.6 340.8,279.7 352.2,272.1 337,267" fill="#D0F0FC" stroke="#1B2836" stroke-width="1"/>
<path d="M325.6 280.3L340.8 285.4L352.2 277.8M325.6 286.1L340.8 291.2L352.2 283.6M325.6 291.8L340.8 296.9L352.2 289.3M325.6 297.5L340.8 302.6L352.2 295M325.6 303.3L340.8 308.4L352.2 300.8M325.6 309L340.8 314.1L352.2 306.5M325.6 314.7L340.8 319.8L352.2 312.2M325.6 320.4L340.8 325.5L352.2 317.9M325.6 326.2L340.8 331.3L352.2 323.7M325.6 331.9L340.8 337L352.2 329.4M325.6 337.6L340.8 342.7L352.2 335.1M325.6 343.4L340.8 348.5L352.2 340.9" fill="none" stroke="#1B2836" stroke-width="1"/>
<polygon points="235.6,343.2 332.1,277.2 334.5,278.2 238,344.2" fill="#2A9CE6"/>
<path d="M235.6 343.2L238 344.2M239 340.8L241.4 341.8M242.5 338.5L244.9 339.5M245.9 336.1L248.3 337.1M249.4 333.8L251.8 334.8M252.8 331.4L255.2 332.4M256.3 329.1L258.7 330.1M259.7 326.7L262.1 327.7M263.2 324.3L265.6 325.3M266.6 322L269 323M270.1 319.6L272.5 320.6M273.5 317.3L275.9 318.3M277 314.9L279.4 315.9M280.4 312.6L282.8 313.6M283.9 310.2L286.2 311.2M287.3 307.8L289.7 308.8M290.7 305.5L293.1 306.5M294.2 303.1L296.6 304.1M297.6 300.8L300 301.8M301.1 298.4L303.5 299.4M304.5 296.1L306.9 297.1M308 293.7L310.4 294.7M311.4 291.3L313.8 292.3M314.9 289L317.3 290M318.3 286.6L320.7 287.6M321.8 284.3L324.2 285.3M325.2 281.9L327.6 282.9M328.7 279.6L331.1 280.6M332.1 277.2L334.5 278.2M235.6 343.2L332.1 277.2M238 344.2L334.5 278.2" fill="none" stroke="#06233F" stroke-width="1"/>
<polygon points="238,344.2 334.5,278.2 334.5,353.9 238,422.3" fill="#145F9C"/>
<path d="M238 344.2L238 422.3M241.4 341.8L241.4 419.9M244.9 339.5L244.9 417.4M248.3 337.1L248.3 415M251.8 334.8L251.8 412.5M255.2 332.4L255.2 410.1M258.7 330.1L258.7 407.6M262.1 327.7L262.1 405.2M265.6 325.3L265.6 402.8M269 323L269 400.3M272.5 320.6L272.5 397.9M275.9 318.3L275.9 395.4M279.4 315.9L279.4 393M282.8 313.6L282.8 390.5M286.2 311.2L286.2 388.1M289.7 308.8L289.7 385.7M293.1 306.5L293.1 383.2M296.6 304.1L296.6 380.8M300 301.8L300 378.3M303.5 299.4L303.5 375.9M306.9 297.1L306.9 373.4M310.4 294.7L310.4 371M313.8 292.3L313.8 368.6M317.3 290L317.3 366.1M320.7 287.6L320.7 363.7M324.2 285.3L324.2 361.2M327.6 282.9L327.6 358.8M331.1 280.6L331.1 356.3M334.5 278.2L334.5 353.9M238 344.2L334.5 278.2M238 349.1L334.5 282.9M238 354L334.5 287.7M238 358.8L334.5 292.4M238 363.7L334.5 297.1M238 368.6L334.5 301.9M238 373.5L334.5 306.6M238 378.4L334.5 311.3M238 383.2L334.5 316M238 388.1L334.5 320.8M238 393L334.5 325.5M238 397.9L334.5 330.2M238 402.8L334.5 335M238 407.7L334.5 339.7M238 412.5L334.5 344.4M238 417.4L334.5 349.2M238 422.3L334.5 353.9" fill="none" stroke="#06233F" stroke-width="1.4"/>
<polygon points="222.9,346.3 238.2,352.4 238.2,422.4 222.9,416.3" fill="#D3EEFB" stroke="#1B2836" stroke-width="1"/>
<polygon points="238.2,352.4 250,345 250,415 238.2,422.4" fill="#93A6C4" stroke="#1B2836" stroke-width="1"/>
<polygon points="222.9,346.3 238.2,352.4 250,345 234.7,338.9" fill="#D0F0FC" stroke="#1B2836" stroke-width="1"/>
<path d="M222.9 351.7L238.2 357.8L250 350.4M222.9 357.1L238.2 363.2L250 355.8M222.9 362.5L238.2 368.6L250 361.2M222.9 367.8L238.2 373.9L250 366.5M222.9 373.2L238.2 379.3L250 371.9M222.9 378.6L238.2 384.7L250 377.3M222.9 384L238.2 390.1L250 382.7M222.9 389.4L238.2 395.5L250 388.1M222.9 394.8L238.2 400.9L250 393.5M222.9 400.1L238.2 406.2L250 398.8M222.9 405.5L238.2 411.6L250 404.2M222.9 410.9L238.2 417L250 409.6" fill="none" stroke="#1B2836" stroke-width="1"/>
<polygon points="199.2,390.3 213.9,359.8 222.9,350.8 233,350.1 233,402.7 213.9,394.8" fill="#145F9C"/>
<path d="M199.2 390.3L199.2 391M201.6 384.4L203.1 391.6M204.1 378.6L207 392.5M206.6 372.8L210.8 393.7M209.4 367.1L214.6 395.1M212.6 361.7L218.2 396.8M216.4 356.6L221.8 398.5M220.9 352.1L225.5 400M226.7 349.9L229.2 401.4M233 350.1L233 402.7M199.2 390.3L201.6 384.4L204.1 378.6L206.6 372.8L209.4 367.1L212.6 361.7L216.4 356.6L220.9 352.1L226.7 349.9L233 350.1M199.2 390.4L201.8 385.2L204.4 380L207 374.9L209.9 369.9L213.1 365.2L216.9 360.8L221.3 356.9L226.9 355.1L233 355.4M199.2 390.4L201.9 385.9L204.7 381.4L207.5 377L210.4 372.7L213.7 368.7L217.5 365L221.8 361.7L227.2 360.2L233 360.6M199.2 390.5L202.1 386.6L204.9 382.8L207.9 379.1L211 375.5L214.3 372.2L218 369.2L222.3 366.5L227.4 365.4L233 365.9M199.2 390.6L202.2 387.3L205.2 384.2L208.3 381.2L211.5 378.3L214.8 375.7L218.6 373.4L222.7 371.3L227.7 370.5L233 371.1M199.2 390.6L202.4 388L205.5 385.6L208.7 383.3L212 381.1L215.4 379.2L219.1 377.5L223.2 376.1L228 375.6L233 376.4M199.2 390.7L202.5 388.7L205.8 387L209.2 385.4L212.5 383.9L216 382.7L219.6 381.7L223.6 380.8L228.2 380.8L233 381.7M199.2 390.8L202.7 389.5L206.1 388.4L209.6 387.4L213 386.7L216.5 386.2L220.2 385.9L224.1 385.6L228.5 385.9L233 386.9M199.2 390.9L202.8 390.2L206.4 389.8L210 389.5L213.5 389.5L217.1 389.7L220.7 390.1L224.6 390.4L228.7 391.1L233 392.2M199.2 390.9L203 390.9L206.7 391.2L210.4 391.6L214.1 392.3L217.6 393.2L221.3 394.3L225 395.2L229 396.2L233 397.4M199.2 391L203.1 391.6L207 392.5L210.8 393.7L214.6 395.1L218.2 396.8L221.8 398.5L225.5 400L229.2 401.4L233 402.7" fill="none" stroke="#06233F" stroke-width="0.9"/>
<polygon points="192.4,394.8 208.2,399.3 208.2,472.8 192.4,468.3" fill="#D3EEFB" stroke="#1B2836" stroke-width="1"/>
<polygon points="208.2,399.3 213.9,393.7 213.9,467.2 208.2,472.8" fill="#D3EEFB" stroke="#1B2836" stroke-width="1"/>
<polygon points="192.4,394.8 208.2,399.3 213.9,393.7 198.1,389.2" fill="#D0F0FC" stroke="#1B2836" stroke-width="1"/>
<path d="M192.4 400.5L208.2 405L213.9 399.4M192.4 406.1L208.2 410.6L213.9 405M192.4 411.8L208.2 416.3L213.9 410.7M192.4 417.4L208.2 421.9L213.9 416.3M192.4 423.1L208.2 427.6L213.9 422M192.4 428.7L208.2 433.2L213.9 427.6M192.4 434.4L208.2 438.9L213.9 433.3M192.4 440L208.2 444.5L213.9 438.9M192.4 445.7L208.2 450.2L213.9 444.6M192.4 451.3L208.2 455.8L213.9 450.2M192.4 457L208.2 461.5L213.9 455.9M192.4 462.6L208.2 467.1L213.9 461.5" fill="none" stroke="#1B2836" stroke-width="1"/>
<polygon points="210.6,397.1 292.4,428.1 290,429.9 208.2,398.9" fill="#2A9CE6"/>
<path d="M210.6 397.1L208.2 398.9M215.7 399L213.3 400.8M220.8 401L218.4 402.8M225.9 402.9L223.5 404.7M231 404.9L228.6 406.7M236.2 406.8L233.8 408.6M241.3 408.7L238.9 410.5M246.4 410.7L244 412.5M251.5 412.6L249.1 414.4M256.6 414.5L254.2 416.3M261.7 416.5L259.3 418.3M266.8 418.4L264.4 420.2M271.9 420.4L269.6 422.2M277.1 422.3L274.7 424.1M282.2 424.2L279.8 426M287.3 426.2L284.9 428M292.4 428.1L290 429.9M210.6 397.1L292.4 428.1M208.2 398.9L290 429.9" fill="none" stroke="#08305C" stroke-width="1"/>
<polygon points="208.2,398.9 290,429.9 290,505.9 208.2,474.9" fill="#1F93E0"/>
<path d="M208.2 398.9L208.2 474.9M213.3 400.8L213.3 476.8M218.4 402.8L218.4 478.8M223.5 404.7L223.5 480.7M228.6 406.7L228.6 482.7M233.8 408.6L233.8 484.6M238.9 410.5L238.9 486.5M244 412.5L244 488.5M249.1 414.4L249.1 490.4M254.2 416.3L254.2 492.3M259.3 418.3L259.3 494.3M264.4 420.2L264.4 496.2M269.6 422.2L269.6 498.2M274.7 424.1L274.7 500.1M279.8 426L279.8 502M284.9 428L284.9 504M290 429.9L290 505.9M208.2 398.9L290 429.9M208.2 404.3L290 435.3M208.2 409.8L290 440.8M208.2 415.2L290 446.2M208.2 420.6L290 451.6M208.2 426L290 457M208.2 431.5L290 462.5M208.2 436.9L290 467.9M208.2 442.3L290 473.3M208.2 447.8L290 478.8M208.2 453.2L290 484.2M208.2 458.6L290 489.6M208.2 464L290 495M208.2 469.5L290 500.5M208.2 474.9L290 505.9" fill="none" stroke="#08305C" stroke-width="1.4"/>
<polygon points="289.5,430.9 299.6,433.6 299.6,507.1 289.5,504.4" fill="#D3EEFB" stroke="#1B2836" stroke-width="1"/>
<polygon points="299.6,433.6 306.4,429.1 306.4,502.6 299.6,507.1" fill="#D3EEFB" stroke="#1B2836" stroke-width="1"/>
<polygon points="289.5,430.9 299.6,433.6 306.4,429.1 296.3,426.4" fill="#D0F0FC" stroke="#1B2836" stroke-width="1"/>
<path d="M289.5 436.6L299.6 439.3L306.4 434.8M289.5 442.2L299.6 444.9L306.4 440.4M289.5 447.9L299.6 450.6L306.4 446.1M289.5 453.5L299.6 456.2L306.4 451.7M289.5 459.2L299.6 461.9L306.4 457.4M289.5 464.8L299.6 467.5L306.4 463M289.5 470.5L299.6 473.2L306.4 468.7M289.5 476.1L299.6 478.8L306.4 474.3M289.5 481.8L299.6 484.5L306.4 480M289.5 487.4L299.6 490.1L306.4 485.6M289.5 493.1L299.6 495.8L306.4 491.3M289.5 498.7L299.6 501.4L306.4 496.9" fill="none" stroke="#1B2836" stroke-width="1"/>
<polygon points="302.9,432.1 381.4,461.8 379,463.6 300.5,433.9" fill="#2A9CE6"/>
<path d="M302.9 432.1L300.5 433.9M307.8 433.9L305.4 435.7M312.7 435.8L310.3 437.6M317.6 437.7L315.2 439.5M322.5 439.5L320.1 441.3M327.4 441.4L325 443.2M332.3 443.2L329.9 445M337.2 445.1L334.8 446.9M342.1 447L339.8 448.8M347.1 448.8L344.7 450.6M352 450.7L349.6 452.5M356.9 452.5L354.5 454.3M361.8 454.4L359.4 456.2M366.7 456.3L364.3 458.1M371.6 458.1L369.2 459.9M376.5 460L374.1 461.8M381.4 461.8L379 463.6M302.9 432.1L381.4 461.8M300.5 433.9L379 463.6" fill="none" stroke="#08305C" stroke-width="1"/>
<polygon points="300.5,433.9 379,463.6 379,539.6 300.5,509.9" fill="#1F93E0"/>
<path d="M300.5 433.9L300.5 509.9M305.4 435.7L305.4 511.7M310.3 437.6L310.3 513.6M315.2 439.5L315.2 515.5M320.1 441.3L320.1 517.3M325 443.2L325 519.2M329.9 445L329.9 521M334.8 446.9L334.8 522.9M339.8 448.8L339.8 524.8M344.7 450.6L344.7 526.6M349.6 452.5L349.6 528.5M354.5 454.3L354.5 530.3M359.4 456.2L359.4 532.2M364.3 458.1L364.3 534.1M369.2 459.9L369.2 535.9M374.1 461.8L374.1 537.8M379 463.6L379 539.6M300.5 433.9L379 463.6M300.5 439.3L379 469.1M300.5 444.7L379 474.5M300.5 450.2L379 479.9M300.5 455.6L379 485.3M300.5 461L379 490.8M300.5 466.5L379 496.2M300.5 471.9L379 501.6M300.5 477.3L379 507.1M300.5 482.7L379 512.5M300.5 488.2L379 517.9M300.5 493.6L379 523.3M300.5 499L379 528.8M300.5 504.5L379 534.2M300.5 509.9L379 539.6" fill="none" stroke="#08305C" stroke-width="1.4"/>
<polygon points="378.6,463.6 392.1,468.8 392.1,545.5 378.6,540.3" fill="#D3EEFB" stroke="#1B2836" stroke-width="1"/>
<polygon points="392.1,468.8 398.9,463.6 398.9,540.3 392.1,545.5" fill="#93A6C4" stroke="#1B2836" stroke-width="1"/>
<polygon points="378.6,463.6 392.1,468.8 398.9,463.6 385.4,458.4" fill="#D0F0FC" stroke="#1B2836" stroke-width="1"/>
<path d="M378.6 469.5L392.1 474.7L398.9 469.5M378.6 475.4L392.1 480.6L398.9 475.4M378.6 481.3L392.1 486.5L398.9 481.3M378.6 487.2L392.1 492.4L398.9 487.2M378.6 493.1L392.1 498.3L398.9 493.1M378.6 499L392.1 504.2L398.9 499M378.6 504.9L392.1 510.1L398.9 504.9M378.6 510.8L392.1 516L398.9 510.8M378.6 516.7L392.1 521.9L398.9 516.7M378.6 522.6L392.1 527.8L398.9 522.6M378.6 528.5L392.1 533.7L398.9 528.5M378.6 534.4L392.1 539.6L398.9 534.4" fill="none" stroke="#1B2836" stroke-width="1"/>
<polygon points="455.9,435.4 472.5,441.1 472.5,519.1 455.9,513.4" fill="#D3EEFB" stroke="#1B2836" stroke-width="1"/>
<polygon points="472.5,441.1 484,431.9 484,509.9 472.5,519.1" fill="#93A6C4" stroke="#1B2836" stroke-width="1"/>
<polygon points="455.9,435.4 472.5,441.1 484,431.9 467.4,426.2" fill="#D0F0FC" stroke="#1B2836" stroke-width="1"/>
<path d="M455.9 441.4L472.5 447.1L484 437.9M455.9 447.4L472.5 453.1L484 443.9M455.9 453.4L472.5 459.1L484 449.9M455.9 459.4L472.5 465.1L484 455.9M455.9 465.4L472.5 471.1L484 461.9M455.9 471.4L472.5 477.1L484 467.9M455.9 477.4L472.5 483.1L484 473.9M455.9 483.4L472.5 489.1L484 479.9M455.9 489.4L472.5 495.1L484 485.9M455.9 495.4L472.5 501.1L484 491.9M455.9 501.4L472.5 507.1L484 497.9M455.9 507.4L472.5 513.1L484 503.9" fill="none" stroke="#1B2836" stroke-width="1"/>
<polygon points="398.9,463.6 448.6,447.8 466.6,438.6 466.6,513.3 454.2,522.3 398.9,541.5" fill="#176FB0"/>
<path d="M398.9 463.6L398.9 541.5M403.5 462.1L403.6 539.9M408.1 460.7L408.2 538.3M412.7 459.2L412.9 536.7M417.3 457.8L417.5 535M421.9 456.3L422.2 533.4M426.5 454.8L426.8 531.8M431.1 453.4L431.5 530.2M435.7 451.9L436.1 528.6M440.3 450.4L440.8 527M444.9 449L445.4 525.3M449.4 447.4L450.1 523.7M453.7 445.2L454.6 522M458 443L458.6 519.1M462.3 440.8L462.6 516.2M466.6 438.6L466.6 513.3M398.9 463.6L403.5 462.1L408.1 460.7L412.7 459.2L417.3 457.8L421.9 456.3L426.5 454.8L431.1 453.4L435.7 451.9L440.3 450.4L444.9 449L449.4 447.4L453.7 445.2L458 443L462.3 440.8L466.6 438.6M398.9 469.2L403.5 467.7L408.1 466.2L412.7 464.7L417.3 463.3L421.9 461.8L426.5 460.3L431.1 458.9L435.7 457.4L440.3 455.9L444.9 454.4L449.5 452.8L453.8 450.7L458.1 448.4L462.3 446.2L466.6 443.9M398.9 474.7L403.5 473.2L408.1 471.8L412.7 470.3L417.3 468.8L421.9 467.3L426.5 465.8L431.1 464.3L435.7 462.9L440.3 461.4L445 459.9L449.5 458.3L453.8 456.2L458.1 453.9L462.3 451.6L466.6 449.3M398.9 480.3L403.5 478.8L408.1 477.3L412.7 475.8L417.3 474.3L421.9 472.8L426.6 471.3L431.2 469.8L435.8 468.3L440.4 466.8L445 465.3L449.6 463.7L453.9 461.6L458.1 459.3L462.4 457L466.6 454.6M398.9 485.9L403.5 484.4L408.1 482.8L412.7 481.3L417.4 479.8L422 478.3L426.6 476.8L431.2 475.3L435.8 473.8L440.4 472.3L445 470.8L449.6 469.2L454 467.1L458.2 464.7L462.4 462.3L466.6 459.9M398.9 491.4L403.5 489.9L408.1 488.4L412.8 486.9L417.4 485.4L422 483.8L426.6 482.3L431.2 480.8L435.8 479.3L440.5 477.8L445.1 476.3L449.6 474.7L454 472.6L458.2 470.2L462.4 467.7L466.6 465.3M398.9 497L403.5 495.5L408.1 493.9L412.8 492.4L417.4 490.9L422 489.3L426.6 487.8L431.2 486.3L435.9 484.8L440.5 483.2L445.1 481.7L449.7 480.1L454.1 478.1L458.3 475.6L462.4 473.1L466.6 470.6M398.9 502.6L403.5 501L408.1 499.5L412.8 497.9L417.4 496.4L422 494.9L426.6 493.3L431.3 491.8L435.9 490.2L440.5 488.7L445.1 487.2L449.7 485.6L454.2 483.6L458.3 481L462.5 478.5L466.6 475.9M398.9 508.1L403.5 506.6L408.2 505L412.8 503.5L417.4 501.9L422 500.4L426.7 498.8L431.3 497.3L435.9 495.7L440.6 494.2L445.2 492.6L449.8 491L454.2 489.1L458.4 486.5L462.5 483.9L466.6 481.3M398.9 513.7L403.5 512.1L408.2 510.6L412.8 509L417.4 507.4L422.1 505.9L426.7 504.3L431.3 502.8L436 501.2L440.6 499.6L445.2 498.1L449.8 496.5L454.3 494.6L458.4 491.9L462.5 489.3L466.6 486.6M398.9 519.2L403.5 517.7L408.2 516.1L412.8 514.5L417.4 513L422.1 511.4L426.7 509.8L431.4 508.2L436 506.7L440.6 505.1L445.3 503.5L449.9 501.9L454.4 500L458.5 497.3L462.5 494.7L466.6 492M398.9 524.8L403.5 523.2L408.2 521.6L412.8 520.1L417.5 518.5L422.1 516.9L426.7 515.3L431.4 513.7L436 512.1L440.7 510.6L445.3 509L449.9 507.4L454.4 505.5L458.5 502.8L462.5 500L466.6 497.3M398.9 530.4L403.5 528.8L408.2 527.2L412.8 525.6L417.5 524L422.1 522.4L426.8 520.8L431.4 519.2L436.1 517.6L440.7 516L445.3 514.4L450 512.8L454.5 511L458.5 508.2L462.6 505.4L466.6 502.6M398.9 535.9L403.5 534.3L408.2 532.7L412.8 531.1L417.5 529.5L422.1 527.9L426.8 526.3L431.4 524.7L436.1 523.1L440.7 521.5L445.4 519.9L450 518.3L454.6 516.5L458.6 513.6L462.6 510.8L466.6 508M398.9 541.5L403.6 539.9L408.2 538.3L412.9 536.7L417.5 535L422.2 533.4L426.8 531.8L431.5 530.2L436.1 528.6L440.8 527L445.4 525.3L450.1 523.7L454.6 522L458.6 519.1L462.6 516.2L466.6 513.3" fill="none" stroke="#082C52" stroke-width="1"/>
<path d="M77.6 504.8L77.6 450M73.6 458L77.6 450L81.6 458M77.6 504.8L120 472.6M111 474.5L120 472.6L116 480.6M77.6 504.8L128.6 523.4M118.6 524.6L128.6 523.4L122.6 516.4" fill="none" stroke="#222" stroke-width="1"/>
<text x="70.5" y="442" font-size="13.5" font-weight="normal" fill="#111" text-anchor="start">+Z</text>
<text x="123" y="466.5" font-size="13.5" font-weight="normal" fill="#111" text-anchor="start">+Y</text>
<text x="137.5" y="534.5" font-size="13.5" font-weight="normal" fill="#111" text-anchor="start">+X</text>
<path d="M91 258L108 247L127 233L139 236L138 243L120 249L108 262ZM108 262L131 272L144 275L148 271L135 266L120 249" fill="none" stroke="#C0504D" stroke-width="0.7"/>
<polygon points="895.4,166.6 899.1,165.3 902.7,164.1 906.4,162.8 910.1,161.6 913.8,160.2 917.4,158.8 921.1,157.1 924.8,155.3 928.5,153.3 932.1,151.1 935.8,148.8 939.5,146.2 943.2,143.4 946.8,140.2 950.5,136.7 954.2,132.6 957.9,128 961.5,122.8 965.2,116.7 968.9,109.6 972.6,102.9 976.2,97.6 979.9,92.7 982.5,93.7 978.8,98.6 975.2,103.9 971.5,110.6 967.8,117.7 964.1,123.8 960.5,129 956.8,133.6 953.1,137.7 949.4,141.2 945.8,144.4 942.1,147.2 938.4,149.8 934.7,152.1 931.1,154.3 927.4,156.3 923.7,158.1 920,159.8 916.4,161.2 912.7,162.6 909,163.8 905.3,165.1 901.7,166.3 898,167.6" fill="#2A9CE6"/>
<path d="M895.4 166.6L898 167.6M899.1 165.3L901.7 166.3M902.7 164.1L905.3 165.1M906.4 162.8L909 163.8M910.1 161.6L912.7 162.6M913.8 160.2L916.4 161.2M917.4 158.8L920 159.8M921.1 157.1L923.7 158.1M924.8 155.3L927.4 156.3M928.5 153.3L931.1 154.3M932.1 151.1L934.7 152.1M935.8 148.8L938.4 149.8M939.5 146.2L942.1 147.2M943.2 143.4L945.8 144.4M946.8 140.2L949.4 141.2M950.5 136.7L953.1 137.7M954.2 132.6L956.8 133.6M957.9 128L960.5 129M961.5 122.8L964.1 123.8M965.2 116.7L967.8 117.7M968.9 109.6L971.5 110.6M972.6 102.9L975.2 103.9M976.2 97.6L978.8 98.6M979.9 92.7L982.5 93.7M895.4 166.6L899.1 165.3L902.7 164.1L906.4 162.8L910.1 161.6L913.8 160.2L917.4 158.8L921.1 157.1L924.8 155.3L928.5 153.3L932.1 151.1L935.8 148.8L939.5 146.2L943.2 143.4L946.8 140.2L950.5 136.7L954.2 132.6L957.9 128L961.5 122.8L965.2 116.7L968.9 109.6L972.6 102.9L976.2 97.6L979.9 92.7M898 167.6L901.7 166.3L905.3 165.1L909 163.8L912.7 162.6L916.4 161.2L920 159.8L923.7 158.1L927.4 156.3L931.1 154.3L934.7 152.1L938.4 149.8L942.1 147.2L945.8 144.4L949.4 141.2L953.1 137.7L956.8 133.6L960.5 129L964.1 123.8L967.8 117.7L971.5 110.6L975.2 103.9L978.8 98.6L982.5 93.7" fill="none" stroke="#06233F" stroke-width="1"/>
<polygon points="898,167.6 901.7,166.3 905.3,165.1 909,163.8 912.7,162.6 916.4,161.2 920,159.8 923.7,158.1 927.4,156.3 931.1,154.3 934.7,152.1 938.4,149.8 942.1,147.2 945.8,144.4 949.4,141.2 953.1,137.7 956.8,133.6 960.5,129 964.1,123.8 967.8,117.7 971.5,110.6 975.2,103.9 978.8,98.6 982.5,93.7 982.7,166.9 978.9,170.1 975.1,173.3 971.4,176.4 967.6,179.6 963.8,182.8 960,186 956.3,189.1 952.5,192.3 948.7,195.5 944.9,198.7 941.1,201.9 937.4,205 933.6,208.2 929.8,211.4 926,214.6 922.2,217.8 918.5,220.9 914.7,224.1 910.9,227.3 907.1,230.5 903.4,233.6 899.6,236.8 895.8,240" fill="#145F9C"/>
<path d="M898 167.6L895.8 240M901.7 166.3L899.6 236.8M905.3 165.1L903.4 233.6M909 163.8L907.1 230.5M912.7 162.6L910.9 227.3M916.4 161.2L914.7 224.1M920 159.8L918.5 220.9M923.7 158.1L922.2 217.8M927.4 156.3L926 214.6M931.1 154.3L929.8 211.4M934.7 152.1L933.6 208.2M938.4 149.8L937.4 205M942.1 147.2L941.1 201.9M945.8 144.4L944.9 198.7M949.4 141.2L948.7 195.5M953.1 137.7L952.5 192.3M956.8 133.6L956.3 189.1M960.5 129L960 186M964.1 123.8L963.8 182.8M967.8 117.7L967.6 179.6M971.5 110.6L971.4 176.4M975.2 103.9L975.1 173.3M978.8 98.6L978.9 170.1M982.5 93.7L982.7 166.9M898 167.6L901.7 166.3L905.3 165.1L909 163.8L912.7 162.6L916.4 161.2L920 159.8L923.7 158.1L927.4 156.3L931.1 154.3L934.7 152.1L938.4 149.8L942.1 147.2L945.8 144.4L949.4 141.2L953.1 137.7L956.8 133.6L960.5 129L964.1 123.8L967.8 117.7L971.5 110.6L975.2 103.9L978.8 98.6L982.5 93.7M897.9 171.9L901.6 170.5L905.2 169.1L908.9 167.8L912.6 166.4L916.3 164.9L920 163.4L923.6 161.6L927.3 159.7L931 157.7L934.7 155.4L938.4 153L942 150.4L945.7 147.6L949.4 144.4L953.1 140.9L956.8 136.8L960.4 132.3L964.1 127.3L967.8 121.4L971.5 114.5L975.2 108L978.8 102.8L982.5 98M897.7 176.1L901.4 174.6L905.1 173.2L908.8 171.7L912.5 170.2L916.2 168.6L919.9 167L923.5 165.1L927.2 163.2L930.9 161L934.6 158.7L938.3 156.3L942 153.6L945.7 150.8L949.3 147.6L953 144.1L956.7 140.1L960.4 135.7L964.1 130.8L967.8 125L971.5 118.4L975.2 112.1L978.8 107L982.5 102.3M897.6 180.4L901.3 178.8L905 177.2L908.7 175.6L912.4 174L916.1 172.3L919.8 170.6L923.5 168.6L927.2 166.6L930.8 164.4L934.5 162L938.2 159.5L941.9 156.8L945.6 154L949.3 150.8L953 147.3L956.7 143.4L960.4 139L964.1 134.2L967.8 128.6L971.5 122.2L975.2 116.2L978.8 111.2L982.5 106.6M897.5 184.6L901.2 182.9L904.9 181.2L908.6 179.5L912.3 177.8L916 176L919.7 174.2L923.4 172.2L927.1 170L930.8 167.7L934.5 165.3L938.2 162.8L941.9 160.1L945.6 157.2L949.3 154L953 150.5L956.7 146.6L960.4 142.4L964.1 137.7L967.8 132.3L971.5 126.1L975.2 120.3L978.8 115.4L982.5 110.9M897.4 188.9L901.1 187.1L904.8 185.3L908.5 183.4L912.2 181.6L915.9 179.7L919.6 177.7L923.3 175.7L927 173.4L930.7 171.1L934.4 168.6L938.1 166L941.8 163.3L945.5 160.3L949.2 157.2L952.9 153.7L956.6 149.9L960.3 145.7L964 141.2L967.7 135.9L971.4 130L975.1 124.3L978.9 119.6L982.6 115.2M897.2 193.2L900.9 191.2L904.6 189.3L908.4 187.4L912.1 185.4L915.8 183.4L919.5 181.3L923.2 179.2L926.9 176.9L930.6 174.4L934.3 171.9L938 169.3L941.8 166.5L945.5 163.5L949.2 160.4L952.9 157L956.6 153.2L960.3 149.1L964 144.6L967.7 139.6L971.4 133.9L975.1 128.4L978.9 123.8L982.6 119.5M897.1 197.4L900.8 195.4L904.5 193.3L908.2 191.3L912 189.2L915.7 187.1L919.4 184.9L923.1 182.7L926.8 180.3L930.5 177.8L934.3 175.2L938 172.5L941.7 169.7L945.4 166.7L949.1 163.6L952.8 160.2L956.6 156.5L960.3 152.4L964 148.1L967.7 143.2L971.4 137.7L975.1 132.5L978.9 128L982.6 123.8M897 201.7L900.7 199.5L904.4 197.4L908.1 195.2L911.9 193L915.6 190.8L919.3 188.5L923 186.2L926.7 183.7L930.5 181.2L934.2 178.5L937.9 175.8L941.6 172.9L945.4 169.9L949.1 166.8L952.8 163.4L956.5 159.7L960.3 155.8L964 151.6L967.7 146.8L971.4 141.6L975.1 136.6L978.9 132.2L982.6 128.1M896.8 205.9L900.6 203.6L904.3 201.4L908 199.1L911.8 196.8L915.5 194.5L919.2 192.1L922.9 189.7L926.7 187.2L930.4 184.5L934.1 181.8L937.9 179L941.6 176.1L945.3 173.1L949 170L952.8 166.6L956.5 163L960.2 159.1L964 155L967.7 150.5L971.4 145.5L975.1 140.6L978.9 136.4L982.6 132.5M896.7 210.2L900.4 207.8L904.2 205.4L907.9 203L911.6 200.6L915.4 198.2L919.1 195.7L922.9 193.2L926.6 190.6L930.3 187.9L934.1 185.1L937.8 182.3L941.5 179.3L945.3 176.3L949 173.2L952.7 169.8L956.5 166.3L960.2 162.5L963.9 158.5L967.7 154.1L971.4 149.3L975.1 144.7L978.9 140.6L982.6 136.8M896.6 214.4L900.3 211.9L904.1 209.5L907.8 207L911.5 204.4L915.3 201.9L919 199.3L922.8 196.7L926.5 194L930.2 191.2L934 188.4L937.7 185.5L941.5 182.6L945.2 179.5L949 176.3L952.7 173L956.4 169.5L960.2 165.8L963.9 162L967.7 157.8L971.4 153.2L975.1 148.8L978.9 144.8L982.6 141.1M896.4 218.7L900.2 216.1L903.9 213.5L907.7 210.9L911.4 208.2L915.2 205.6L918.9 202.9L922.7 200.2L926.4 197.4L930.2 194.6L933.9 191.7L937.7 188.8L941.4 185.8L945.2 182.7L948.9 179.5L952.7 176.2L956.4 172.8L960.2 169.2L963.9 165.4L967.7 161.4L971.4 157.1L975.1 152.9L978.9 149L982.6 145.4M896.3 223L900.1 220.2L903.8 217.5L907.6 214.8L911.3 212.1L915.1 209.3L918.8 206.5L922.6 203.7L926.3 200.9L930.1 198L933.9 195L937.6 192L941.4 189L945.1 185.9L948.9 182.7L952.6 179.5L956.4 176.1L960.1 172.6L963.9 168.9L967.6 165L971.4 161L975.1 156.9L978.9 153.2L982.7 149.7M896.2 227.2L899.9 224.4L903.7 221.5L907.5 218.7L911.2 215.9L915 213L918.7 210.1L922.5 207.2L926.3 204.3L930 201.3L933.8 198.3L937.5 195.3L941.3 192.2L945.1 189.1L948.8 185.9L952.6 182.7L956.3 179.3L960.1 175.9L963.9 172.4L967.6 168.7L971.4 164.8L975.1 161L978.9 157.5L982.7 154M896.1 231.5L899.8 228.5L903.6 225.6L907.4 222.6L911.1 219.7L914.9 216.7L918.7 213.7L922.4 210.7L926.2 207.7L930 204.7L933.7 201.6L937.5 198.5L941.3 195.4L945 192.3L948.8 189.1L952.5 185.9L956.3 182.6L960.1 179.3L963.8 175.9L967.6 172.3L971.4 168.7L975.1 165.1L978.9 161.7L982.7 158.3M895.9 235.7L899.7 232.7L903.5 229.6L907.2 226.5L911 223.5L914.8 220.4L918.6 217.3L922.3 214.2L926.1 211.1L929.9 208L933.7 204.9L937.4 201.8L941.2 198.6L945 195.5L948.7 192.3L952.5 189.1L956.3 185.9L960.1 182.6L963.8 179.3L967.6 176L971.4 172.6L975.1 169.2L978.9 165.9L982.7 162.6M895.8 240L899.6 236.8L903.4 233.6L907.1 230.5L910.9 227.3L914.7 224.1L918.5 220.9L922.2 217.8L926 214.6L929.8 211.4L933.6 208.2L937.4 205L941.1 201.9L944.9 198.7L948.7 195.5L952.5 192.3L956.3 189.1L960 186L963.8 182.8L967.6 179.6L971.4 176.4L975.1 173.3L978.9 170.1L982.7 166.9" fill="none" stroke="#06233F" stroke-width="1.4"/>
<polygon points="984.9,91.6 989.8,93.7 994.7,95.8 999.6,98.3 1004.5,101.1 1009.4,104.1 1007,105.9 1002.1,102.9 997.2,100.1 992.3,97.6 987.4,95.5 982.5,93.4" fill="#2A9CE6"/>
<path d="M984.9 91.6L982.5 93.4M989.8 93.7L987.4 95.5M994.7 95.8L992.3 97.6M999.6 98.3L997.2 100.1M1004.5 101.1L1002.1 102.9M1009.4 104.1L1007 105.9M984.9 91.6L989.8 93.7L994.7 95.8L999.6 98.3L1004.5 101.1L1009.4 104.1M982.5 93.4L987.4 95.5L992.3 97.6L997.2 100.1L1002.1 102.9L1007 105.9" fill="none" stroke="#08305C" stroke-width="1"/>
<polygon points="982.5,93.4 987.4,95.5 992.3,97.6 997.2,100.1 1002.1,102.9 1007,105.9 1008.6,175.5 1003.4,173.8 998.2,172.1 993.1,170.3 987.9,168.6 982.7,166.9" fill="#1F93E0"/>
<path d="M982.5 93.4L982.7 166.9M987.4 95.5L987.9 168.6M992.3 97.6L993.1 170.3M997.2 100.1L998.2 172.1M1002.1 102.9L1003.4 173.8M1007 105.9L1008.6 175.5M982.5 93.4L987.4 95.5L992.3 97.6L997.2 100.1L1002.1 102.9L1007 105.9M982.5 97.7L987.4 99.8L992.3 101.9L997.3 104.3L1002.2 107.1L1007.1 110M982.5 102L987.5 104.1L992.4 106.2L997.3 108.5L1002.3 111.3L1007.2 114.1M982.5 106.4L987.5 108.4L992.4 110.4L997.4 112.8L1002.3 115.4L1007.3 118.2M982.5 110.7L987.5 112.7L992.5 114.7L997.4 117L1002.4 119.6L1007.4 122.3M982.6 115L987.5 117L992.5 119L997.5 121.3L1002.5 123.8L1007.5 126.4M982.6 119.3L987.6 121.3L992.6 123.3L997.6 125.5L1002.6 127.9L1007.6 130.5M982.6 123.7L987.6 125.6L992.6 127.6L997.6 129.7L1002.6 132.1L1007.7 134.6M982.6 128L987.6 129.9L992.7 131.8L997.7 134L1002.7 136.3L1007.8 138.7M982.6 132.3L987.7 134.2L992.7 136.1L997.8 138.2L1002.8 140.4L1007.8 142.7M982.6 136.6L987.7 138.5L992.7 140.4L997.8 142.4L1002.9 144.6L1007.9 146.8M982.6 141L987.7 142.8L992.8 144.7L997.9 146.7L1003 148.8L1008 150.9M982.6 145.3L987.7 147.1L992.8 148.9L997.9 150.9L1003 152.9L1008.1 155M982.7 149.6L987.8 151.4L992.9 153.2L998 155.1L1003.1 157.1L1008.2 159.1M982.7 153.9L987.8 155.7L992.9 157.5L998.1 159.4L1003.2 161.3L1008.3 163.2M982.7 158.3L987.8 160L993 161.8L998.1 163.6L1003.3 165.4L1008.4 167.3M982.7 162.6L987.9 164.3L993 166.1L998.2 167.8L1003.3 169.6L1008.5 171.4M982.7 166.9L987.9 168.6L993.1 170.3L998.2 172.1L1003.4 173.8L1008.6 175.5" fill="none" stroke="#08305C" stroke-width="1.4"/>
<polyline points="982.6,140.4 984.7,141.2 986.9,142 989,142.7 991.1,143.5 993.2,144.3 995.3,145.1 997.4,146 999.6,146.8 1001.7,147.7 1003.8,148.6 1005.9,149.5 1008,150.4" fill="none" stroke="#08305C" stroke-width="2" opacity="0.55"/>
<polyline points="982.7,152.2 984.8,152.9 986.9,153.7 989.1,154.4 991.2,155.2 993.3,155.9 995.5,156.7 997.6,157.5 999.7,158.3 1001.9,159.1 1004,159.9 1006.1,160.8 1008.3,161.6" fill="none" stroke="#08305C" stroke-width="2" opacity="0.55"/>
<polygon points="1006.4,106.6 1023.3,112.7 1025.5,182 1008.6,175.9" fill="#D3EEFB" stroke="#1B2836" stroke-width="1"/>
<polygon points="1023.3,112.7 1034.5,107.5 1036.7,176.8 1025.5,182" fill="#93A6C4" stroke="#1B2836" stroke-width="1"/>
<polygon points="1006.4,106.6 1023.3,112.7 1034.5,107.5 1017.6,101.4" fill="#D0F0FC" stroke="#1B2836" stroke-width="1"/>
<path d="M1006.6 111.9L1023.5 118L1034.7 112.8M1006.7 117.3L1023.6 123.4L1034.8 118.2M1006.9 122.6L1023.8 128.7L1035 123.5M1007.1 127.9L1024 134L1035.2 128.8M1007.2 133.3L1024.1 139.4L1035.3 134.2M1007.4 138.6L1024.3 144.7L1035.5 139.5M1007.6 143.9L1024.5 150L1035.7 144.8M1007.8 149.2L1024.7 155.3L1035.9 150.1M1007.9 154.6L1024.8 160.7L1036 155.5M1008.1 159.9L1025 166L1036.2 160.8M1008.3 165.2L1025.2 171.3L1036.4 166.1M1008.4 170.6L1025.3 176.7L1036.5 171.5" fill="none" stroke="#1B2836" stroke-width="1"/>
<polygon points="1029.1,111.7 1034,113.7 1038.8,115.7 1043.7,117.7 1048.6,119.6 1053.4,121.6 1058.3,123.5 1063.2,125.3 1068,127 1072.9,128.7 1077.8,130.3 1082.6,131.9 1087.5,133.5 1092.3,135.1 1097.2,136.7 1102.1,138.3 1106.9,140 1111.8,141.7 1116.7,143.3 1121.5,145 1126.4,146.7 1124,148.5 1119.1,146.8 1114.3,145.1 1109.4,143.5 1104.5,141.8 1099.7,140.1 1094.8,138.5 1089.9,136.9 1085.1,135.3 1080.2,133.7 1075.3,132.1 1070.5,130.5 1065.6,128.8 1060.8,127.1 1055.9,125.3 1051,123.4 1046.2,121.4 1041.3,119.5 1036.4,117.5 1031.6,115.5 1026.7,113.5" fill="#2A9CE6"/>
<path d="M1029.1 111.7L1026.7 113.5M1034 113.7L1031.6 115.5M1038.8 115.7L1036.4 117.5M1043.7 117.7L1041.3 119.5M1048.6 119.6L1046.2 121.4M1053.4 121.6L1051 123.4M1058.3 123.5L1055.9 125.3M1063.2 125.3L1060.8 127.1M1068 127L1065.6 128.8M1072.9 128.7L1070.5 130.5M1077.8 130.3L1075.3 132.1M1082.6 131.9L1080.2 133.7M1087.5 133.5L1085.1 135.3M1092.3 135.1L1089.9 136.9M1097.2 136.7L1094.8 138.5M1102.1 138.3L1099.7 140.1M1106.9 140L1104.5 141.8M1111.8 141.7L1109.4 143.5M1116.7 143.3L1114.3 145.1M1121.5 145L1119.1 146.8M1126.4 146.7L1124 148.5M1029.1 111.7L1034 113.7L1038.8 115.7L1043.7 117.7L1048.6 119.6L1053.4 121.6L1058.3 123.5L1063.2 125.3L1068 127L1072.9 128.7L1077.8 130.3L1082.6 131.9L1087.5 133.5L1092.3 135.1L1097.2 136.7L1102.1 138.3L1106.9 140L1111.8 141.7L1116.7 143.3L1121.5 145L1126.4 146.7M1026.7 113.5L1031.6 115.5L1036.4 117.5L1041.3 119.5L1046.2 121.4L1051 123.4L1055.9 125.3L1060.8 127.1L1065.6 128.8L1070.5 130.5L1075.3 132.1L1080.2 133.7L1085.1 135.3L1089.9 136.9L1094.8 138.5L1099.7 140.1L1104.5 141.8L1109.4 143.5L1114.3 145.1L1119.1 146.8L1124 148.5" fill="none" stroke="#08305C" stroke-width="1"/>
<polygon points="1026.7,113.5 1031.6,115.5 1036.4,117.5 1041.3,119.5 1046.2,121.4 1051,123.4 1055.9,125.3 1060.8,127.1 1065.6,128.8 1070.5,130.5 1075.3,132.1 1080.2,133.7 1085.1,135.3 1089.9,136.9 1094.8,138.5 1099.7,140.1 1104.5,141.8 1109.4,143.5 1114.3,145.1 1119.1,146.8 1124,148.5 1128.5,212 1123.5,210.5 1118.4,208.9 1113.4,207.4 1108.4,205.9 1103.3,204.4 1098.3,202.8 1093.3,201.3 1088.2,199.8 1083.2,198.3 1078.2,196.8 1073.1,195.2 1068.1,193.7 1063,192.2 1058,190.7 1053,189.1 1047.9,187.6 1042.9,186.1 1037.9,184.6 1032.8,183 1027.8,181.5" fill="#1F93E0"/>
<path d="M1026.7 113.5L1027.8 181.5M1031.6 115.5L1032.8 183M1036.4 117.5L1037.9 184.6M1041.3 119.5L1042.9 186.1M1046.2 121.4L1047.9 187.6M1051 123.4L1053 189.1M1055.9 125.3L1058 190.7M1060.8 127.1L1063 192.2M1065.6 128.8L1068.1 193.7M1070.5 130.5L1073.1 195.2M1075.3 132.1L1078.2 196.8M1080.2 133.7L1083.2 198.3M1085.1 135.3L1088.2 199.8M1089.9 136.9L1093.3 201.3M1094.8 138.5L1098.3 202.8M1099.7 140.1L1103.3 204.4M1104.5 141.8L1108.4 205.9M1109.4 143.5L1113.4 207.4M1114.3 145.1L1118.4 208.9M1119.1 146.8L1123.5 210.5M1124 148.5L1128.5 212M1026.7 113.5L1031.6 115.5L1036.4 117.5L1041.3 119.5L1046.2 121.4L1051 123.4L1055.9 125.3L1060.8 127.1L1065.6 128.8L1070.5 130.5L1075.3 132.1L1080.2 133.7L1085.1 135.3L1089.9 136.9L1094.8 138.5L1099.7 140.1L1104.5 141.8L1109.4 143.5L1114.3 145.1L1119.1 146.8L1124 148.5M1026.8 117.5L1031.6 119.5L1036.5 121.4L1041.4 123.4L1046.3 125.3L1051.1 127.2L1056 129.1L1060.9 130.9L1065.8 132.6L1070.6 134.3L1075.5 135.9L1080.4 137.5L1085.3 139.1L1090.1 140.6L1095 142.3L1099.9 143.9L1104.8 145.6L1109.6 147.2L1114.5 148.9L1119.4 150.6L1124.3 152.2M1026.8 121.5L1031.7 123.4L1036.6 125.4L1041.5 127.3L1046.4 129.2L1051.3 131.1L1056.1 132.9L1061 134.7L1065.9 136.5L1070.8 138.1L1075.7 139.7L1080.6 141.3L1085.4 142.9L1090.3 144.4L1095.2 146L1100.1 147.7L1105 149.3L1109.9 151L1114.8 152.7L1119.6 154.3L1124.5 156M1026.9 125.5L1031.8 127.4L1036.7 129.3L1041.6 131.2L1046.5 133.1L1051.4 135L1056.3 136.8L1061.2 138.6L1066.1 140.3L1070.9 141.9L1075.8 143.5L1080.7 145.1L1085.6 146.7L1090.5 148.2L1095.4 149.8L1100.3 151.5L1105.2 153.1L1110.1 154.8L1115 156.4L1119.9 158.1L1124.8 159.7M1027 129.5L1031.9 131.4L1036.8 133.3L1041.7 135.1L1046.6 137L1051.5 138.8L1056.4 140.6L1061.3 142.4L1066.2 144.1L1071.1 145.7L1076 147.3L1080.9 148.9L1085.8 150.4L1090.7 152L1095.6 153.6L1100.5 155.2L1105.4 156.9L1110.3 158.5L1115.2 160.2L1120.2 161.8L1125.1 163.4M1027 133.5L1031.9 135.3L1036.9 137.2L1041.8 139.1L1046.7 140.9L1051.6 142.7L1056.5 144.5L1061.4 146.2L1066.3 147.9L1071.3 149.5L1076.2 151.1L1081.1 152.7L1086 154.2L1090.9 155.8L1095.8 157.4L1100.7 159L1105.7 160.6L1110.6 162.3L1115.5 163.9L1120.4 165.5L1125.3 167.2M1027.1 137.5L1032 139.3L1036.9 141.1L1041.9 143L1046.8 144.8L1051.7 146.6L1056.6 148.3L1061.6 150.1L1066.5 151.7L1071.4 153.3L1076.3 154.9L1081.3 156.5L1086.2 158L1091.1 159.6L1096 161.2L1101 162.8L1105.9 164.4L1110.8 166L1115.7 167.7L1120.7 169.3L1125.6 170.9M1027.2 141.5L1032.1 143.3L1037 145.1L1042 146.9L1046.9 148.7L1051.8 150.4L1056.8 152.2L1061.7 153.9L1066.6 155.5L1071.6 157.1L1076.5 158.7L1081.4 160.3L1086.4 161.8L1091.3 163.4L1096.2 165L1101.2 166.6L1106.1 168.2L1111 169.8L1116 171.4L1120.9 173L1125.9 174.6M1027.2 145.5L1032.2 147.3L1037.1 149L1042.1 150.8L1047 152.6L1051.9 154.3L1056.9 156L1061.8 157.7L1066.8 159.4L1071.7 161L1076.7 162.5L1081.6 164.1L1086.6 165.6L1091.5 167.2L1096.4 168.8L1101.4 170.4L1106.3 172L1111.3 173.6L1116.2 175.2L1121.2 176.8L1126.1 178.4M1027.3 149.5L1032.2 151.2L1037.2 153L1042.1 154.7L1047.1 156.5L1052.1 158.2L1057 159.9L1062 161.5L1066.9 163.2L1071.9 164.8L1076.8 166.3L1081.8 167.9L1086.7 169.4L1091.7 171L1096.7 172.6L1101.6 174.1L1106.6 175.7L1111.5 177.3L1116.5 178.9L1121.4 180.5L1126.4 182.1M1027.3 153.5L1032.3 155.2L1037.3 156.9L1042.2 158.6L1047.2 160.4L1052.2 162L1057.1 163.7L1062.1 165.4L1067.1 167L1072 168.6L1077 170.1L1082 171.7L1086.9 173.2L1091.9 174.8L1096.9 176.3L1101.8 177.9L1106.8 179.5L1111.8 181.1L1116.7 182.7L1121.7 184.3L1126.6 185.9M1027.4 157.5L1032.4 159.2L1037.4 160.9L1042.3 162.6L1047.3 164.2L1052.3 165.9L1057.3 167.6L1062.2 169.2L1067.2 170.8L1072.2 172.4L1077.2 173.9L1082.1 175.5L1087.1 177L1092.1 178.6L1097.1 180.1L1102 181.7L1107 183.3L1112 184.9L1117 186.4L1121.9 188L1126.9 189.6M1027.5 161.5L1032.5 163.2L1037.4 164.8L1042.4 166.5L1047.4 168.1L1052.4 169.8L1057.4 171.4L1062.4 173L1067.4 174.6L1072.3 176.2L1077.3 177.7L1082.3 179.3L1087.3 180.8L1092.3 182.4L1097.3 183.9L1102.3 185.5L1107.2 187L1112.2 188.6L1117.2 190.2L1122.2 191.8L1127.2 193.3M1027.5 165.5L1032.5 167.1L1037.5 168.8L1042.5 170.4L1047.5 172L1052.5 173.7L1057.5 175.3L1062.5 176.9L1067.5 178.4L1072.5 180L1077.5 181.5L1082.5 183.1L1087.5 184.6L1092.5 186.2L1097.5 187.7L1102.5 189.3L1107.5 190.8L1112.5 192.4L1117.5 193.9L1122.4 195.5L1127.4 197.1M1027.6 169.5L1032.6 171.1L1037.6 172.7L1042.6 174.3L1047.6 175.9L1052.6 177.5L1057.6 179.1L1062.6 180.7L1067.6 182.3L1072.7 183.8L1077.7 185.3L1082.7 186.9L1087.7 188.4L1092.7 189.9L1097.7 191.5L1102.7 193L1107.7 194.6L1112.7 196.1L1117.7 197.7L1122.7 199.2L1127.7 200.8M1027.7 173.5L1032.7 175.1L1037.7 176.7L1042.7 178.2L1047.7 179.8L1052.7 181.4L1057.8 183L1062.8 184.5L1067.8 186.1L1072.8 187.6L1077.8 189.1L1082.8 190.7L1087.9 192.2L1092.9 193.7L1097.9 195.3L1102.9 196.8L1107.9 198.4L1112.9 199.9L1117.9 201.4L1123 203L1128 204.5M1027.7 177.5L1032.8 179.1L1037.8 180.6L1042.8 182.2L1047.8 183.7L1052.9 185.3L1057.9 186.8L1062.9 188.3L1067.9 189.9L1073 191.4L1078 192.9L1083 194.5L1088 196L1093.1 197.5L1098.1 199.1L1103.1 200.6L1108.1 202.1L1113.2 203.7L1118.2 205.2L1123.2 206.7L1128.2 208.3M1027.8 181.5L1032.8 183L1037.9 184.6L1042.9 186.1L1047.9 187.6L1053 189.1L1058 190.7L1063 192.2L1068.1 193.7L1073.1 195.2L1078.2 196.8L1083.2 198.3L1088.2 199.8L1093.3 201.3L1098.3 202.8L1103.3 204.4L1108.4 205.9L1113.4 207.4L1118.4 208.9L1123.5 210.5L1128.5 212" fill="none" stroke="#08305C" stroke-width="1.4"/>
<polyline points="1027.4,157 1035.7,159.8 1044,162.7 1052.3,165.5 1060.6,168.2 1068.9,170.9 1077.1,173.5 1085.4,176.1 1093.7,178.6 1102,181.2 1110.3,183.9 1118.6,186.5 1126.9,189.1" fill="none" stroke="#08305C" stroke-width="2" opacity="0.55"/>
<polyline points="1027.6,167.9 1035.9,170.6 1044.2,173.3 1052.6,176 1060.9,178.6 1069.3,181.2 1077.6,183.8 1085.9,186.4 1094.3,188.9 1102.6,191.5 1110.9,194.1 1119.3,196.7 1127.6,199.3" fill="none" stroke="#08305C" stroke-width="2" opacity="0.55"/>
<polygon points="1123.7,146.6 1139.5,152.2 1144,218.7 1128.2,213.1" fill="#D3EEFB" stroke="#1B2836" stroke-width="1"/>
<polygon points="1139.5,152.2 1150.8,145.4 1155.3,211.9 1144,218.7" fill="#93A6C4" stroke="#1B2836" stroke-width="1"/>
<polygon points="1123.7,146.6 1139.5,152.2 1150.8,145.4 1135,139.8" fill="#D0F0FC" stroke="#1B2836" stroke-width="1"/>
<path d="M1124 151.7L1139.8 157.3L1151.1 150.5M1124.4 156.8L1140.2 162.4L1151.5 155.6M1124.7 161.9L1140.5 167.5L1151.8 160.7M1125.1 167.1L1140.9 172.7L1152.2 165.9M1125.4 172.2L1141.2 177.8L1152.5 171M1125.8 177.3L1141.6 182.9L1152.9 176.1M1126.1 182.4L1141.9 188L1153.2 181.2M1126.5 187.5L1142.3 193.1L1153.6 186.3M1126.8 192.6L1142.6 198.2L1153.9 191.4M1127.2 197.8L1143 203.4L1154.3 196.6M1127.5 202.9L1143.3 208.5L1154.6 201.7M1127.9 208L1143.7 213.6L1155 206.8" fill="none" stroke="#1B2836" stroke-width="1"/>
<polygon points="1145.4,151.6 1150.2,153.1 1155,154.5 1159.8,156 1164.6,157.4 1169.4,158.8 1174.2,160 1179,161.2 1183.8,162.4 1188.6,163.4 1193.4,164.5 1198.2,165.6 1202.9,166.7 1207.7,167.9 1212.5,169.1 1217.3,170.4 1222.1,171.6 1226.9,172.8 1231.7,173.9 1236.5,175 1241.3,176.1 1246.1,177.1 1250.9,178.2 1248.5,180 1243.7,178.9 1238.9,177.9 1234.1,176.8 1229.3,175.7 1224.5,174.6 1219.7,173.4 1214.9,172.2 1210.1,170.9 1205.3,169.7 1200.5,168.5 1195.8,167.4 1191,166.3 1186.2,165.2 1181.4,164.2 1176.6,163 1171.8,161.8 1167,160.6 1162.2,159.2 1157.4,157.8 1152.6,156.3 1147.8,154.9 1143,153.4" fill="#2A9CE6"/>
<path d="M1145.4 151.6L1143 153.4M1150.2 153.1L1147.8 154.9M1155 154.5L1152.6 156.3M1159.8 156L1157.4 157.8M1164.6 157.4L1162.2 159.2M1169.4 158.8L1167 160.6M1174.2 160L1171.8 161.8M1179 161.2L1176.6 163M1183.8 162.4L1181.4 164.2M1188.6 163.4L1186.2 165.2M1193.4 164.5L1191 166.3M1198.2 165.6L1195.8 167.4M1202.9 166.7L1200.5 168.5M1207.7 167.9L1205.3 169.7M1212.5 169.1L1210.1 170.9M1217.3 170.4L1214.9 172.2M1222.1 171.6L1219.7 173.4M1226.9 172.8L1224.5 174.6M1231.7 173.9L1229.3 175.7M1236.5 175L1234.1 176.8M1241.3 176.1L1238.9 177.9M1246.1 177.1L1243.7 178.9M1250.9 178.2L1248.5 180M1145.4 151.6L1150.2 153.1L1155 154.5L1159.8 156L1164.6 157.4L1169.4 158.8L1174.2 160L1179 161.2L1183.8 162.4L1188.6 163.4L1193.4 164.5L1198.2 165.6L1202.9 166.7L1207.7 167.9L1212.5 169.1L1217.3 170.4L1222.1 171.6L1226.9 172.8L1231.7 173.9L1236.5 175L1241.3 176.1L1246.1 177.1L1250.9 178.2M1143 153.4L1147.8 154.9L1152.6 156.3L1157.4 157.8L1162.2 159.2L1167 160.6L1171.8 161.8L1176.6 163L1181.4 164.2L1186.2 165.2L1191 166.3L1195.8 167.4L1200.5 168.5L1205.3 169.7L1210.1 170.9L1214.9 172.2L1219.7 173.4L1224.5 174.6L1229.3 175.7L1234.1 176.8L1238.9 177.9L1243.7 178.9L1248.5 180" fill="none" stroke="#08305C" stroke-width="1"/>
<polygon points="1143,153.4 1147.8,154.9 1152.6,156.3 1157.4,157.8 1162.2,159.2 1167,160.6 1171.8,161.8 1176.6,163 1181.4,164.2 1186.2,165.2 1191,166.3 1195.8,167.4 1200.5,168.5 1205.3,169.7 1210.1,170.9 1214.9,172.2 1219.7,173.4 1224.5,174.6 1229.3,175.7 1234.1,176.8 1238.9,177.9 1243.7,178.9 1248.5,180 1248.5,248.5 1243.8,247.2 1239.2,245.8 1234.5,244.4 1229.9,243.1 1225.2,241.8 1220.5,240.4 1215.9,239.1 1211.2,237.7 1206.6,236.3 1201.9,235 1197.2,233.7 1192.6,232.3 1187.9,231 1183.3,229.6 1178.6,228.2 1174,226.9 1169.3,225.6 1164.6,224.2 1160,222.9 1155.3,221.5 1150.7,220.2 1146,218.8" fill="#1F93E0"/>
<path d="M1143 153.4L1146 218.8M1147.8 154.9L1150.7 220.2M1152.6 156.3L1155.3 221.5M1157.4 157.8L1160 222.9M1162.2 159.2L1164.6 224.2M1167 160.6L1169.3 225.6M1171.8 161.8L1174 226.9M1176.6 163L1178.6 228.2M1181.4 164.2L1183.3 229.6M1186.2 165.2L1187.9 231M1191 166.3L1192.6 232.3M1195.8 167.4L1197.2 233.7M1200.5 168.5L1201.9 235M1205.3 169.7L1206.6 236.3M1210.1 170.9L1211.2 237.7M1214.9 172.2L1215.9 239.1M1219.7 173.4L1220.5 240.4M1224.5 174.6L1225.2 241.8M1229.3 175.7L1229.9 243.1M1234.1 176.8L1234.5 244.4M1238.9 177.9L1239.2 245.8M1243.7 178.9L1243.8 247.2M1248.5 180L1248.5 248.5M1143 153.4L1147.8 154.9L1152.6 156.3L1157.4 157.8L1162.2 159.2L1167 160.6L1171.8 161.8L1176.6 163L1181.4 164.2L1186.2 165.2L1191 166.3L1195.8 167.4L1200.5 168.5L1205.3 169.7L1210.1 170.9L1214.9 172.2L1219.7 173.4L1224.5 174.6L1229.3 175.7L1234.1 176.8L1238.9 177.9L1243.7 178.9L1248.5 180M1143.2 157.2L1148 158.7L1152.8 160.2L1157.5 161.6L1162.3 163L1167.1 164.4L1171.9 165.7L1176.7 166.9L1181.5 168L1186.3 169.1L1191.1 170.2L1195.8 171.3L1200.6 172.4L1205.4 173.6L1210.2 174.9L1215 176.1L1219.8 177.3L1224.6 178.5L1229.4 179.7L1234.1 180.8L1238.9 181.9L1243.7 182.9L1248.5 184M1143.4 161.1L1148.1 162.5L1152.9 164L1157.7 165.4L1162.5 166.9L1167.2 168.2L1172 169.5L1176.8 170.7L1181.6 171.9L1186.4 173L1191.1 174.1L1195.9 175.2L1200.7 176.4L1205.5 177.6L1210.3 178.8L1215 180L1219.8 181.3L1224.6 182.5L1229.4 183.6L1234.2 184.8L1238.9 185.9L1243.7 187L1248.5 188.1M1143.5 164.9L1148.3 166.4L1153.1 167.8L1157.8 169.3L1162.6 170.7L1167.4 172L1172.2 173.3L1176.9 174.5L1181.7 175.7L1186.5 176.8L1191.2 178L1196 179.1L1200.8 180.3L1205.6 181.5L1210.3 182.7L1215.1 184L1219.9 185.2L1224.6 186.4L1229.4 187.6L1234.2 188.7L1239 189.9L1243.7 191L1248.5 192.1M1143.7 168.8L1148.5 170.2L1153.2 171.7L1158 173.1L1162.8 174.5L1167.5 175.9L1172.3 177.2L1177 178.4L1181.8 179.6L1186.6 180.7L1191.3 181.8L1196.1 183L1200.9 184.2L1205.6 185.4L1210.4 186.7L1215.2 187.9L1219.9 189.2L1224.7 190.4L1229.4 191.6L1234.2 192.7L1239 193.9L1243.7 195L1248.5 196.1M1143.9 172.6L1148.6 174.1L1153.4 175.5L1158.1 176.9L1162.9 178.3L1167.7 179.7L1172.4 181L1177.2 182.2L1181.9 183.4L1186.7 184.6L1191.4 185.7L1196.2 186.9L1200.9 188.1L1205.7 189.3L1210.5 190.6L1215.2 191.8L1220 193.1L1224.7 194.3L1229.5 195.5L1234.2 196.7L1239 197.9L1243.7 199L1248.5 200.1M1144.1 176.5L1148.8 177.9L1153.6 179.3L1158.3 180.8L1163 182.1L1167.8 183.5L1172.5 184.8L1177.3 186L1182 187.3L1186.8 188.4L1191.5 189.6L1196.3 190.8L1201 192L1205.8 193.2L1210.5 194.5L1215.3 195.8L1220 197L1224.8 198.3L1229.5 199.5L1234.3 200.7L1239 201.8L1243.8 203L1248.5 204.2M1144.2 180.3L1149 181.7L1153.7 183.2L1158.5 184.6L1163.2 186L1167.9 187.3L1172.7 188.6L1177.4 189.9L1182.1 191.1L1186.9 192.3L1191.6 193.5L1196.4 194.7L1201.1 195.9L1205.8 197.2L1210.6 198.4L1215.3 199.7L1220.1 201L1224.8 202.2L1229.5 203.5L1234.3 204.7L1239 205.8L1243.8 207L1248.5 208.2M1144.4 184.2L1149.1 185.6L1153.9 187L1158.6 188.4L1163.3 189.8L1168.1 191.1L1172.8 192.5L1177.5 193.7L1182.3 195L1187 196.2L1191.7 197.4L1196.5 198.6L1201.2 199.8L1205.9 201.1L1210.6 202.4L1215.4 203.6L1220.1 204.9L1224.8 206.2L1229.6 207.4L1234.3 208.6L1239 209.8L1243.8 211L1248.5 212.2M1144.6 188L1149.3 189.4L1154 190.8L1158.8 192.2L1163.5 193.6L1168.2 195L1172.9 196.3L1177.7 197.6L1182.4 198.8L1187.1 200L1191.8 201.2L1196.5 202.5L1201.3 203.7L1206 205L1210.7 206.3L1215.4 207.6L1220.2 208.9L1224.9 210.1L1229.6 211.4L1234.3 212.6L1239.1 213.8L1243.8 215L1248.5 216.3M1144.8 191.9L1149.5 193.3L1154.2 194.7L1158.9 196.1L1163.6 197.4L1168.3 198.8L1173.1 200.1L1177.8 201.4L1182.5 202.7L1187.2 203.9L1191.9 205.1L1196.6 206.4L1201.3 207.6L1206.1 208.9L1210.8 210.2L1215.5 211.5L1220.2 212.8L1224.9 214.1L1229.6 215.4L1234.4 216.6L1239.1 217.8L1243.8 219.1L1248.5 220.3M1144.9 195.7L1149.6 197.1L1154.4 198.5L1159.1 199.9L1163.8 201.3L1168.5 202.6L1173.2 203.9L1177.9 205.2L1182.6 206.5L1187.3 207.8L1192 209L1196.7 210.3L1201.4 211.5L1206.1 212.8L1210.8 214.1L1215.5 215.4L1220.3 216.8L1225 218L1229.7 219.3L1234.4 220.6L1239.1 221.8L1243.8 223.1L1248.5 224.3M1145.1 199.6L1149.8 200.9L1154.5 202.3L1159.2 203.7L1163.9 205.1L1168.6 206.4L1173.3 207.8L1178 209.1L1182.7 210.4L1187.4 211.6L1192.1 212.9L1196.8 214.2L1201.5 215.5L1206.2 216.8L1210.9 218.1L1215.6 219.4L1220.3 220.7L1225 222L1229.7 223.3L1234.4 224.6L1239.1 225.8L1243.8 227.1L1248.5 228.4M1145.3 203.4L1150 204.8L1154.7 206.2L1159.4 207.5L1164.1 208.9L1168.8 210.3L1173.4 211.6L1178.1 212.9L1182.8 214.2L1187.5 215.5L1192.2 216.8L1196.9 218.1L1201.6 219.4L1206.3 220.7L1211 222L1215.7 223.3L1220.4 224.6L1225 225.9L1229.7 227.2L1234.4 228.5L1239.1 229.8L1243.8 231.1L1248.5 232.4M1145.5 207.3L1150.2 208.6L1154.8 210L1159.5 211.4L1164.2 212.7L1168.9 214.1L1173.6 215.4L1178.3 216.7L1182.9 218.1L1187.6 219.4L1192.3 220.7L1197 222L1201.7 223.3L1206.4 224.6L1211 225.9L1215.7 227.2L1220.4 228.6L1225.1 229.9L1229.8 231.2L1234.5 232.5L1239.1 233.8L1243.8 235.1L1248.5 236.4M1145.6 211.1L1150.3 212.5L1155 213.8L1159.7 215.2L1164.3 216.6L1169 217.9L1173.7 219.2L1178.4 220.6L1183 221.9L1187.7 223.2L1192.4 224.5L1197.1 225.9L1201.7 227.2L1206.4 228.5L1211.1 229.8L1215.8 231.2L1220.4 232.5L1225.1 233.8L1229.8 235.2L1234.5 236.5L1239.1 237.8L1243.8 239.1L1248.5 240.4M1145.8 215L1150.5 216.3L1155.2 217.7L1159.8 219L1164.5 220.4L1169.2 221.7L1173.8 223.1L1178.5 224.4L1183.2 225.8L1187.8 227.1L1192.5 228.4L1197.2 229.8L1201.8 231.1L1206.5 232.4L1211.2 233.8L1215.8 235.1L1220.5 236.5L1225.2 237.8L1229.8 239.1L1234.5 240.5L1239.2 241.8L1243.8 243.1L1248.5 244.5M1146 218.8L1150.7 220.2L1155.3 221.5L1160 222.9L1164.6 224.2L1169.3 225.6L1174 226.9L1178.6 228.2L1183.3 229.6L1187.9 231L1192.6 232.3L1197.2 233.7L1201.9 235L1206.6 236.3L1211.2 237.7L1215.9 239.1L1220.5 240.4L1225.2 241.8L1229.9 243.1L1234.5 244.4L1239.2 245.8L1243.8 247.2L1248.5 248.5" fill="none" stroke="#08305C" stroke-width="1.4"/>
<polyline points="1144.9,195.3 1153.6,197.8 1162.2,200.3 1170.8,202.8 1179.4,205.2 1188.1,207.5 1196.7,209.8 1205.3,212.1 1214,214.5 1222.6,216.9 1231.2,219.3 1239.9,221.6 1248.5,223.8" fill="none" stroke="#08305C" stroke-width="2" opacity="0.55"/>
<polyline points="1145.4,205.7 1154,208.2 1162.6,210.7 1171.2,213.2 1179.8,215.6 1188.4,218 1197,220.4 1205.5,222.8 1214.1,225.2 1222.7,227.7 1231.3,230.1 1239.9,232.4 1248.5,234.8" fill="none" stroke="#08305C" stroke-width="2" opacity="0.55"/>
<polygon points="1263.6,173 1300.9,134.5 1303.3,135.4 1266,173.9" fill="#2A9CE6"/>
<path d="M1263.6 173L1266 173.9M1267.3 169.2L1269.7 170.1M1271.1 165.3L1273.5 166.2M1274.8 161.4L1277.2 162.3M1278.5 157.6L1280.9 158.5M1282.2 153.8L1284.7 154.7M1286 149.9L1288.4 150.8M1289.7 146.1L1292.1 147M1293.4 142.2L1295.8 143.1M1297.2 138.3L1299.6 139.2M1300.9 134.5L1303.3 135.4M1263.6 173L1300.9 134.5M1266 173.9L1303.3 135.4" fill="none" stroke="#082C52" stroke-width="1"/>
<polygon points="1266,173.9 1303.3,135.4 1305.6,209.7 1266,248" fill="#176FB0"/>
<path d="M1266 173.9L1266 248M1269.7 170.1L1270 244.2M1273.5 166.2L1273.9 240.3M1277.2 162.3L1277.9 236.5M1280.9 158.5L1281.8 232.7M1284.7 154.7L1285.8 228.8M1288.4 150.8L1289.8 225M1292.1 147L1293.7 221.2M1295.8 143.1L1297.7 217.4M1299.6 139.2L1301.6 213.5M1303.3 135.4L1305.6 209.7M1266 173.9L1303.3 135.4M1266 178.3L1303.4 139.8M1266 182.6L1303.6 144.1M1266 187L1303.7 148.5M1266 191.3L1303.8 152.9M1266 195.7L1304 157.3M1266 200.1L1304.1 161.6M1266 204.4L1304.2 166M1266 208.8L1304.4 170.4M1266 213.1L1304.5 174.7M1266 217.5L1304.7 179.1M1266 221.8L1304.8 183.5M1266 226.2L1304.9 187.8M1266 230.6L1305.1 192.2M1266 234.9L1305.2 196.6M1266 239.3L1305.3 201M1266 243.6L1305.5 205.3M1266 248L1305.6 209.7" fill="none" stroke="#082C52" stroke-width="1.4"/>
<polyline points="1266,221.3 1269.2,218.1 1272.5,214.9 1275.7,211.7 1278.9,208.5 1282.2,205.3 1285.4,202.1 1288.6,198.9 1291.8,195.7 1295.1,192.5 1298.3,189.3 1301.5,186.1 1304.8,183" fill="none" stroke="#082C52" stroke-width="2" opacity="0.55"/>
<polyline points="1266,233.2 1269.3,230 1272.5,226.8 1275.8,223.6 1279,220.4 1282.3,217.2 1285.6,214 1288.8,210.8 1292.1,207.6 1295.4,204.4 1298.6,201.2 1301.9,198 1305.1,194.8" fill="none" stroke="#082C52" stroke-width="2" opacity="0.55"/>
<polygon points="1310.4,140.6 1315.3,141 1320.3,141.4 1325.2,141.9 1330.1,142.6 1335.1,143.8 1340,145.9 1345,149.3 1349.9,153.3 1354.8,156.9 1359.8,160 1364.7,163.1 1369.6,166 1374.6,168.9 1379.5,171.8 1384.4,174.8 1389.4,177.8 1394.3,180.6 1399.3,182.9 1404.2,184.8 1409.1,186.5 1414.1,188 1419,189.4 1423.9,190.6 1428.9,191.7 1433.8,192.8 1438.7,193.7 1443.7,194.4 1448.6,194.9 1453.5,195.3 1458.5,195.7 1463.4,196 1468.4,196.3 1473.3,196.7 1478.2,197 1483.2,197.3 1488.1,197.6 1493,197.9 1498,198.2 1502.9,198.6 1507.8,199.1 1512.8,199.7 1517.7,200.4 1522.7,201.3 1527.6,202.3 1532.5,203.7 1537.5,205.1 1542.4,206.6 1540,208.4 1535.1,206.9 1530.1,205.5 1525.2,204.1 1520.3,203.1 1515.3,202.2 1510.4,201.5 1505.4,200.9 1500.5,200.4 1495.6,200 1490.6,199.7 1485.7,199.4 1480.8,199.1 1475.8,198.8 1470.9,198.5 1466,198.1 1461,197.8 1456.1,197.5 1451.1,197.1 1446.2,196.7 1441.3,196.2 1436.3,195.5 1431.4,194.6 1426.5,193.5 1421.5,192.4 1416.6,191.2 1411.7,189.8 1406.7,188.3 1401.8,186.6 1396.9,184.7 1391.9,182.4 1387,179.6 1382,176.6 1377.1,173.6 1372.2,170.7 1367.2,167.8 1362.3,164.9 1357.4,161.8 1352.4,158.7 1347.5,155.1 1342.6,151.1 1337.6,147.7 1332.7,145.6 1327.7,144.4 1322.8,143.7 1317.9,143.2 1312.9,142.8 1308,142.4" fill="#2A9CE6"/>
<path d="M1310.4 140.6L1308 142.4M1315.3 141L1312.9 142.8M1320.3 141.4L1317.9 143.2M1325.2 141.9L1322.8 143.7M1330.1 142.6L1327.7 144.4M1335.1 143.8L1332.7 145.6M1340 145.9L1337.6 147.7M1345 149.3L1342.6 151.1M1349.9 153.3L1347.5 155.1M1354.8 156.9L1352.4 158.7M1359.8 160L1357.4 161.8M1364.7 163.1L1362.3 164.9M1369.6 166L1367.2 167.8M1374.6 168.9L1372.2 170.7M1379.5 171.8L1377.1 173.6M1384.4 174.8L1382 176.6M1389.4 177.8L1387 179.6M1394.3 180.6L1391.9 182.4M1399.3 182.9L1396.9 184.7M1404.2 184.8L1401.8 186.6M1409.1 186.5L1406.7 188.3M1414.1 188L1411.7 189.8M1419 189.4L1416.6 191.2M1423.9 190.6L1421.5 192.4M1428.9 191.7L1426.5 193.5M1433.8 192.8L1431.4 194.6M1438.7 193.7L1436.3 195.5M1443.7 194.4L1441.3 196.2M1448.6 194.9L1446.2 196.7M1453.5 195.3L1451.1 197.1M1458.5 195.7L1456.1 197.5M1463.4 196L1461 197.8M1468.4 196.3L1466 198.1M1473.3 196.7L1470.9 198.5M1478.2 197L1475.8 198.8M1483.2 197.3L1480.8 199.1M1488.1 197.6L1485.7 199.4M1493 197.9L1490.6 199.7M1498 198.2L1495.6 200M1502.9 198.6L1500.5 200.4M1507.8 199.1L1505.4 200.9M1512.8 199.7L1510.4 201.5M1517.7 200.4L1515.3 202.2M1522.7 201.3L1520.3 203.1M1527.6 202.3L1525.2 204.1M1532.5 203.7L1530.1 205.5M1537.5 205.1L1535.1 206.9M1542.4 206.6L1540 208.4M1310.4 140.6L1320.3 141.4L1330.1 142.6L1340 145.9L1349.9 153.3L1359.8 160L1369.6 166L1379.5 171.8L1389.4 177.8L1399.3 182.9L1409.1 186.5L1419 189.4L1428.9 191.7L1438.7 193.7L1448.6 194.9L1458.5 195.7L1468.4 196.3L1478.2 197L1488.1 197.6L1498 198.2L1507.8 199.1L1517.7 200.4L1527.6 202.3L1537.5 205.1L1542.4 206.6M1308 142.4L1317.9 143.2L1327.7 144.4L1337.6 147.7L1347.5 155.1L1357.4 161.8L1367.2 167.8L1377.1 173.6L1387 179.6L1396.9 184.7L1406.7 188.3L1416.6 191.2L1426.5 193.5L1436.3 195.5L1446.2 196.7L1456.1 197.5L1466 198.1L1475.8 198.8L1485.7 199.4L1495.6 200L1505.4 200.9L1515.3 202.2L1525.2 204.1L1535.1 206.9L1540 208.4" fill="none" stroke="#08305C" stroke-width="1"/>
<polygon points="1308,142.4 1312.9,142.8 1317.9,143.2 1322.8,143.7 1327.7,144.4 1332.7,145.6 1337.6,147.7 1342.6,151.1 1347.5,155.1 1352.4,158.7 1357.4,161.8 1362.3,164.9 1367.2,167.8 1372.2,170.7 1377.1,173.6 1382,176.6 1387,179.6 1391.9,182.4 1396.9,184.7 1401.8,186.6 1406.7,188.3 1411.7,189.8 1416.6,191.2 1421.5,192.4 1426.5,193.5 1431.4,194.6 1436.3,195.5 1441.3,196.2 1446.2,196.7 1451.1,197.1 1456.1,197.5 1461,197.8 1466,198.1 1470.9,198.5 1475.8,198.8 1480.8,199.1 1485.7,199.4 1490.6,199.7 1495.6,200 1500.5,200.4 1505.4,200.9 1510.4,201.5 1515.3,202.2 1520.3,203.1 1525.2,204.1 1530.1,205.5 1535.1,206.9 1540,208.4 1540,290 1535,288.4 1530.1,286.9 1525.1,285.4 1520.2,283.8 1515.2,282.3 1510.2,280.7 1505.3,279.1 1500.3,277.5 1495.3,275.8 1490.4,274.1 1485.4,272.4 1480.5,270.6 1475.5,268.7 1470.5,266.8 1465.6,264.9 1460.6,262.9 1455.7,260.9 1450.7,258.9 1445.7,256.9 1440.8,254.9 1435.8,253 1430.8,251.1 1425.9,249.1 1420.9,247.3 1416,245.5 1411,243.7 1406,242 1401.1,240.3 1396.1,238.6 1391.1,237 1386.2,235.4 1381.2,233.7 1376.3,232.1 1371.3,230.5 1366.3,228.8 1361.4,227.2 1356.4,225.6 1351.5,224 1346.5,222.4 1341.5,220.8 1336.6,219.3 1331.6,217.7 1326.6,216.1 1321.7,214.5 1316.7,212.9 1311.8,211.3 1306.8,209.7" fill="#1F93E0"/>
<path d="M1308 142.4L1306.8 209.7M1312.9 142.8L1311.8 211.3M1317.9 143.2L1316.7 212.9M1322.8 143.7L1321.7 214.5M1327.7 144.4L1326.6 216.1M1332.7 145.6L1331.6 217.7M1337.6 147.7L1336.6 219.3M1342.6 151.1L1341.5 220.8M1347.5 155.1L1346.5 222.4M1352.4 158.7L1351.5 224M1357.4 161.8L1356.4 225.6M1362.3 164.9L1361.4 227.2M1367.2 167.8L1366.3 228.8M1372.2 170.7L1371.3 230.5M1377.1 173.6L1376.3 232.1M1382 176.6L1381.2 233.7M1387 179.6L1386.2 235.4M1391.9 182.4L1391.1 237M1396.9 184.7L1396.1 238.6M1401.8 186.6L1401.1 240.3M1406.7 188.3L1406 242M1411.7 189.8L1411 243.7M1416.6 191.2L1416 245.5M1421.5 192.4L1420.9 247.3M1426.5 193.5L1425.9 249.1M1431.4 194.6L1430.8 251.1M1436.3 195.5L1435.8 253M1441.3 196.2L1440.8 254.9M1446.2 196.7L1445.7 256.9M1451.1 197.1L1450.7 258.9M1456.1 197.5L1455.7 260.9M1461 197.8L1460.6 262.9M1466 198.1L1465.6 264.9M1470.9 198.5L1470.5 266.8M1475.8 198.8L1475.5 268.7M1480.8 199.1L1480.5 270.6M1485.7 199.4L1485.4 272.4M1490.6 199.7L1490.4 274.1M1495.6 200L1495.3 275.8M1500.5 200.4L1500.3 277.5M1505.4 200.9L1505.3 279.1M1510.4 201.5L1510.2 280.7M1515.3 202.2L1515.2 282.3M1520.3 203.1L1520.2 283.8M1525.2 204.1L1525.1 285.4M1530.1 205.5L1530.1 286.9M1535.1 206.9L1535 288.4M1540 208.4L1540 290M1308 142.4L1317.9 143.2L1327.7 144.4L1337.6 147.7L1347.5 155.1L1357.4 161.8L1367.2 167.8L1377.1 173.6L1387 179.6L1396.9 184.7L1406.7 188.3L1416.6 191.2L1426.5 193.5L1436.3 195.5L1446.2 196.7L1456.1 197.5L1466 198.1L1475.8 198.8L1485.7 199.4L1495.6 200L1505.4 200.9L1515.3 202.2L1525.2 204.1L1535.1 206.9L1540 208.4M1307.9 146.4L1317.8 147.3L1327.7 148.6L1337.6 151.9L1347.4 159.1L1357.3 165.6L1367.2 171.4L1377.1 177L1386.9 182.9L1396.8 187.9L1406.7 191.4L1416.6 194.4L1426.4 196.8L1436.3 198.8L1446.2 200.3L1456.1 201.2L1465.9 202L1475.8 202.9L1485.7 203.7L1495.6 204.4L1505.4 205.5L1515.3 206.9L1525.2 208.9L1535.1 211.7L1540 213.2M1307.9 150.3L1317.7 151.4L1327.6 152.8L1337.5 156.1L1347.4 163L1357.3 169.4L1367.1 175L1377 180.4L1386.9 186.2L1396.8 191L1406.6 194.6L1416.5 197.6L1426.4 200.1L1436.3 202.2L1446.2 203.8L1456 204.9L1465.9 206L1475.8 207L1485.7 208L1495.5 208.9L1505.4 210.1L1515.3 211.6L1525.2 213.7L1535.1 216.5L1540 218M1307.8 154.3L1317.7 155.5L1327.6 157.1L1337.4 160.3L1347.3 167L1357.2 173.1L1367.1 178.6L1377 183.9L1386.8 189.5L1396.7 194.2L1406.6 197.8L1416.5 200.8L1426.4 203.3L1436.2 205.6L1446.1 207.3L1456 208.7L1465.9 209.9L1475.8 211.1L1485.7 212.3L1495.5 213.4L1505.4 214.7L1515.3 216.3L1525.2 218.5L1535.1 221.3L1540 222.8M1307.7 158.2L1317.6 159.6L1327.5 161.3L1337.4 164.5L1347.3 171L1357.1 176.9L1367 182.2L1376.9 187.3L1386.8 192.7L1396.7 197.4L1406.6 200.9L1416.4 204L1426.3 206.6L1436.2 209L1446.1 210.9L1456 212.4L1465.9 213.8L1475.8 215.3L1485.6 216.6L1495.5 217.8L1505.4 219.3L1515.3 221L1525.2 223.2L1535.1 226.1L1540 227.6M1307.6 162.2L1317.5 163.7L1327.4 165.5L1337.3 168.8L1347.2 174.9L1357.1 180.6L1367 185.8L1376.9 190.8L1386.7 196L1396.6 200.6L1406.5 204.1L1416.4 207.2L1426.3 209.9L1436.2 212.4L1446.1 214.4L1456 216.1L1465.8 217.7L1475.7 219.4L1485.6 220.9L1495.5 222.3L1505.4 223.9L1515.3 225.7L1525.2 228L1535.1 230.9L1540 232.4M1307.6 166.2L1317.5 167.8L1327.4 169.7L1337.2 173L1347.1 178.9L1357 184.4L1366.9 189.3L1376.8 194.2L1386.7 199.3L1396.6 203.7L1406.5 207.3L1416.4 210.4L1426.3 213.2L1436.2 215.8L1446 218L1455.9 219.9L1465.8 221.7L1475.7 223.5L1485.6 225.1L1495.5 226.7L1505.4 228.5L1515.3 230.4L1525.2 232.8L1535.1 235.7L1540 237.2M1307.5 170.1L1317.4 171.9L1327.3 173.9L1337.2 177.2L1347.1 182.8L1357 188.1L1366.9 192.9L1376.8 197.7L1386.7 202.6L1396.5 206.9L1406.4 210.4L1416.3 213.6L1426.2 216.4L1436.1 219.1L1446 221.5L1455.9 223.6L1465.8 225.6L1475.7 227.6L1485.6 229.4L1495.5 231.2L1505.4 233.1L1515.3 235.2L1525.2 237.6L1535.1 240.5L1540 242M1307.4 174.1L1317.3 176L1327.2 178.1L1337.1 181.4L1347 186.8L1356.9 191.9L1366.8 196.5L1376.7 201.1L1386.6 205.8L1396.5 210.1L1406.4 213.6L1416.3 216.7L1426.2 219.7L1436.1 222.5L1446 225L1455.9 227.3L1465.8 229.5L1475.7 231.7L1485.6 233.7L1495.5 235.7L1505.4 237.7L1515.3 239.9L1525.2 242.4L1535.1 245.3L1540 246.8M1307.4 178L1317.3 180.1L1327.2 182.4L1337.1 185.6L1347 190.8L1356.9 195.6L1366.8 200.1L1376.7 204.5L1386.6 209.1L1396.5 213.3L1406.4 216.7L1416.3 219.9L1426.2 223L1436.1 225.9L1446 228.6L1455.9 231L1465.8 233.4L1475.7 235.8L1485.6 238L1495.5 240.1L1505.4 242.3L1515.3 244.6L1525.2 247.1L1535.1 250.1L1540 251.6M1307.3 182L1317.2 184.2L1327.1 186.6L1337 189.8L1346.9 194.7L1356.8 199.4L1366.7 203.7L1376.6 208L1386.5 212.4L1396.4 216.4L1406.3 219.9L1416.2 223.1L1426.1 226.2L1436 229.3L1445.9 232.1L1455.8 234.8L1465.7 237.4L1475.6 239.9L1485.5 242.3L1495.4 244.6L1505.3 246.9L1515.2 249.3L1525.1 251.9L1535 254.9L1540 256.4M1307.2 185.9L1317.1 188.3L1327 190.8L1336.9 194L1346.8 198.7L1356.8 203.1L1366.7 207.3L1376.6 211.4L1386.5 215.7L1396.4 219.6L1406.3 223.1L1416.2 226.3L1426.1 229.5L1436 232.7L1445.9 235.7L1455.8 238.5L1465.7 241.3L1475.6 244L1485.5 246.6L1495.4 249.1L1505.3 251.5L1515.2 254L1525.1 256.7L1535 259.7L1540 261.2M1307.2 189.9L1317.1 192.4L1327 195L1336.9 198.2L1346.8 202.6L1356.7 206.9L1366.6 210.9L1376.5 214.9L1386.4 219L1396.3 222.8L1406.2 226.2L1416.1 229.5L1426.1 232.8L1436 236.1L1445.9 239.2L1455.8 242.2L1465.7 245.2L1475.6 248.2L1485.5 250.9L1495.4 253.5L1505.3 256.1L1515.2 258.7L1525.1 261.5L1535 264.5L1540 266M1307.1 193.9L1317 196.5L1326.9 199.2L1336.8 202.4L1346.7 206.6L1356.6 210.6L1366.6 214.5L1376.5 218.3L1386.4 222.2L1396.3 225.9L1406.2 229.4L1416.1 232.7L1426 236.1L1435.9 239.4L1445.8 242.7L1455.8 246L1465.7 249.1L1475.6 252.3L1485.5 255.2L1495.4 258L1505.3 260.7L1515.2 263.4L1525.1 266.3L1535 269.3L1540 270.8M1307 197.8L1316.9 200.6L1326.8 203.4L1336.8 206.6L1346.7 210.6L1356.6 214.4L1366.5 218.1L1376.4 221.7L1386.3 225.5L1396.2 229.1L1406.2 232.5L1416.1 235.9L1426 239.3L1435.9 242.8L1445.8 246.3L1455.7 249.7L1465.6 253.1L1475.6 256.4L1485.5 259.5L1495.4 262.4L1505.3 265.3L1515.2 268.1L1525.1 271L1535 274.1L1540 275.6M1306.9 201.8L1316.9 204.7L1326.8 207.6L1336.7 210.8L1346.6 214.5L1356.5 218.1L1366.4 221.7L1376.4 225.2L1386.3 228.8L1396.2 232.3L1406.1 235.7L1416 239.1L1425.9 242.6L1435.9 246.2L1445.8 249.8L1455.7 253.4L1465.6 257L1475.5 260.5L1485.5 263.8L1495.4 266.9L1505.3 269.9L1515.2 272.9L1525.1 275.8L1535 278.8L1540 280.4M1306.9 205.7L1316.8 208.8L1326.7 211.9L1336.6 215L1346.6 218.5L1356.5 221.9L1366.4 225.3L1376.3 228.6L1386.2 232.1L1396.2 235.5L1406.1 238.9L1416 242.3L1425.9 245.9L1435.8 249.6L1445.8 253.4L1455.7 257.1L1465.6 260.9L1475.5 264.6L1485.4 268.1L1495.4 271.4L1505.3 274.5L1515.2 277.6L1525.1 280.6L1535 283.6L1540 285.2M1306.8 209.7L1316.7 212.9L1326.6 216.1L1336.6 219.3L1346.5 222.4L1356.4 225.6L1366.3 228.8L1376.3 232.1L1386.2 235.4L1396.1 238.6L1406 242L1416 245.5L1425.9 249.1L1435.8 253L1445.7 256.9L1455.7 260.9L1465.6 264.9L1475.5 268.7L1485.4 272.4L1495.3 275.8L1505.3 279.1L1515.2 282.3L1525.1 285.4L1535 288.4L1540 290" fill="none" stroke="#08305C" stroke-width="1.4"/>
<polyline points="1307.2,185.5 1326.6,190.2 1346,197.8 1365.4,206.3 1384.8,214.6 1404.2,222 1423.6,228.3 1443,234.4 1462.4,239.9 1481.8,245.2 1501.2,249.9 1520.6,254.9 1540,260.6" fill="none" stroke="#08305C" stroke-width="2" opacity="0.55"/>
<polyline points="1307,196.2 1326.5,201.6 1345.9,208.6 1365.3,216.2 1384.7,223.6 1404.1,230.6 1423.5,237.2 1442.9,243.9 1462.3,250.4 1481.8,256.7 1501.2,262.3 1520.6,267.8 1540,273.7" fill="none" stroke="#08305C" stroke-width="2" opacity="0.55"/>
<polygon points="1369,210 1376,209 1376,215 1373,218 1369,216" fill="#8FA5C4" stroke="#06233F" stroke-width="0.8"/>
<polygon points="1392,219 1399,218 1399,224 1396,227 1392,225" fill="#8FA5C4" stroke="#06233F" stroke-width="0.8"/>
<polygon points="1440,235 1447,234 1447,240 1444,243 1440,241" fill="#8FA5C4" stroke="#06233F" stroke-width="0.8"/>
<polygon points="1464,243 1471,242 1471,248 1468,251 1464,249" fill="#8FA5C4" stroke="#06233F" stroke-width="0.8"/>
<polygon points="1401.8,186.3 1403.2,190.8 1404.6,195.3 1406,199.7 1407.4,204.2 1408.9,208.7 1410.6,213.1 1412.4,217.4 1414.2,221.8 1415.6,226.2 1416.5,230.8 1416.9,235.5 1417,240.2 1417.1,244.9 1427.6,247.3 1427.5,242.6 1427.3,237.9 1427.1,233.2 1426.6,228.5 1425.9,223.8 1424.8,219.3 1423.6,214.7 1422.3,210.2 1420.9,205.7 1419.4,201.2 1417.8,196.8 1416.3,192.3 1414.7,187.9" fill="#A3B4D0"/>
<path d="M1401.8 186.3L1414.7 187.9M1403.2 190.8L1416.3 192.3M1404.6 195.3L1417.8 196.8M1406 199.7L1419.4 201.2M1407.4 204.2L1420.9 205.7M1408.9 208.7L1422.3 210.2M1410.6 213.1L1423.6 214.7M1412.4 217.4L1424.8 219.3M1414.2 221.8L1425.9 223.8M1415.6 226.2L1426.6 228.5M1416.5 230.8L1427.1 233.2M1416.9 235.5L1427.3 237.9M1417 240.2L1427.5 242.6M1417.1 244.9L1427.6 247.3M1401.8 186.3L1403.2 190.8L1404.6 195.3L1406 199.7L1407.4 204.2L1408.9 208.7L1410.6 213.1L1412.4 217.4L1414.2 221.8L1415.6 226.2L1416.5 230.8L1416.9 235.5L1417 240.2L1417.1 244.9M1414.7 187.9L1416.3 192.3L1417.8 196.8L1419.4 201.2L1420.9 205.7L1422.3 210.2L1423.6 214.7L1424.8 219.3L1425.9 223.8L1426.6 228.5L1427.1 233.2L1427.3 237.9L1427.5 242.6L1427.6 247.3" fill="none" stroke="#1B2836" stroke-width="0.9"/>
<polygon points="1415.9,227.3 1426.5,227.3 1427.6,247.3 1417.1,244.9" fill="#D3EEFB" stroke="#1B2836" stroke-width="0.9"/>
<polygon points="1399.5,184.5 1404,181.8 1416.5,184.5 1414.7,188.2 1401.8,186.5" fill="#D0F0FC" stroke="#1B2836" stroke-width="0.8"/>
<rect x="1397.5" y="182" width="3.4" height="3.4" fill="#F0F"/>
<polygon points="1293.9,139.3 1303.3,132.3 1316.2,137 1308,141.7" fill="#D0F0FC" stroke="#1B2836" stroke-width="0.8"/>
<polygon points="1304.3,140.5 1307.6,141.7 1307,209.7 1304.5,208.5" fill="#F4FBFF" stroke="#1B2836" stroke-width="0.5"/>
<polygon points="1248.1,178.1 1263.4,182.8 1263.4,253.2 1248.1,248.5" fill="#D3EEFB" stroke="#1B2836" stroke-width="1"/>
<polygon points="1263.4,182.8 1274,176.9 1274,247.3 1263.4,253.2" fill="#93A6C4" stroke="#1B2836" stroke-width="1"/>
<polygon points="1248.1,178.1 1263.4,182.8 1274,176.9 1258.7,172.2" fill="#D0F0FC" stroke="#1B2836" stroke-width="1"/>
<path d="M1248.1 183.5L1263.4 188.2L1274 182.3M1248.1 188.9L1263.4 193.6L1274 187.7M1248.1 194.3L1263.4 199L1274 193.1M1248.1 199.8L1263.4 204.5L1274 198.6M1248.1 205.2L1263.4 209.9L1274 204M1248.1 210.6L1263.4 215.3L1274 209.4M1248.1 216L1263.4 220.7L1274 214.8M1248.1 221.4L1263.4 226.1L1274 220.2M1248.1 226.8L1263.4 231.5L1274 225.6M1248.1 232.3L1263.4 237L1274 231.1M1248.1 237.7L1263.4 242.4L1274 236.5M1248.1 243.1L1263.4 247.8L1274 241.9" fill="none" stroke="#1B2836" stroke-width="1"/>
<polygon points="1504.8,251.7 1537.4,212.9 1540,213.9 1507.4,252.7" fill="#2A9CE6"/>
<path d="M1504.8 251.7L1507.4 252.7M1508.1 247.8L1510.7 248.8M1511.3 243.9L1513.9 244.9M1514.6 240.1L1517.2 241.1M1517.8 236.2L1520.4 237.2M1521.1 232.3L1523.7 233.3M1524.4 228.4L1527 229.4M1527.6 224.5L1530.2 225.5M1530.9 220.7L1533.5 221.7M1534.1 216.8L1536.7 217.8M1537.4 212.9L1540 213.9M1504.8 251.7L1537.4 212.9M1507.4 252.7L1540 213.9" fill="none" stroke="#06233F" stroke-width="1"/>
<polygon points="1507.4,252.7 1540,213.9 1545.2,283 1507.4,300" fill="#145F9C"/>
<path d="M1507.4 252.7L1507.4 300M1510.7 248.8L1511.2 298.3M1513.9 244.9L1515 296.6M1517.2 241.1L1518.7 294.9M1520.4 237.2L1522.5 293.2M1523.7 233.3L1526.3 291.5M1527 229.4L1530.1 289.8M1530.2 225.5L1533.9 288.1M1533.5 221.7L1537.6 286.4M1536.7 217.8L1541.4 284.7M1540 213.9L1545.2 283M1507.4 252.7L1540 213.9M1507.4 255.5L1540.3 218M1507.4 258.3L1540.6 222M1507.4 261L1540.9 226.1M1507.4 263.8L1541.2 230.2M1507.4 266.6L1541.5 234.2M1507.4 269.4L1541.8 238.3M1507.4 272.2L1542.1 242.4M1507.4 275L1542.4 246.4M1507.4 277.7L1542.8 250.5M1507.4 280.5L1543.1 254.5M1507.4 283.3L1543.4 258.6M1507.4 286.1L1543.7 262.7M1507.4 288.9L1544 266.7M1507.4 291.7L1544.3 270.8M1507.4 294.4L1544.6 274.9M1507.4 297.2L1544.9 278.9M1507.4 300L1545.2 283" fill="none" stroke="#06233F" stroke-width="1.4"/>
<polygon points="1538,207.4 1547.3,205 1551.3,208.6 1543.8,211.4" fill="#D0F0FC" stroke="#1B2836" stroke-width="0.8"/>
<polygon points="1541.5,210.6 1543.8,211.4 1545,282.5 1542.7,281.5" fill="#F4FBFF" stroke="#1B2836" stroke-width="0.5"/>
<polygon points="1543.8,211.4 1551.3,208.6 1552,274.3 1545,282.5" fill="#93A6C4"/>
<path d="M1543.8 211.4L1545 282.5M1551.3 208.6L1552 274.3M1543.8 211.4L1551.3 208.6M1543.9 216.9L1551.4 213.7M1544 222.3L1551.4 218.7M1544.1 227.8L1551.5 223.8M1544.2 233.3L1551.5 228.8M1544.3 238.7L1551.6 233.9M1544.4 244.2L1551.6 238.9M1544.4 249.7L1551.7 244M1544.5 255.2L1551.7 249M1544.6 260.6L1551.8 254.1M1544.7 266.1L1551.8 259.1M1544.8 271.6L1551.9 264.2M1544.9 277L1551.9 269.2M1545 282.5L1552 274.3" fill="none" stroke="#1B2836" stroke-width="0.8"/>
<polygon points="1484,250.8 1499.2,255.5 1500.2,305.5 1485,300.8" fill="#D3EEFB" stroke="#1B2836" stroke-width="1"/>
<polygon points="1499.2,255.5 1509.7,249.6 1510.7,299.6 1500.2,305.5" fill="#93A6C4" stroke="#1B2836" stroke-width="1"/>
<polygon points="1484,250.8 1499.2,255.5 1509.7,249.6 1494.5,244.9" fill="#D0F0FC" stroke="#1B2836" stroke-width="1"/>
<path d="M1484.1 254.6L1499.3 259.3L1509.8 253.4M1484.2 258.5L1499.4 263.2L1509.9 257.3M1484.2 262.3L1499.4 267L1509.9 261.1M1484.3 266.2L1499.5 270.9L1510 265M1484.4 270L1499.6 274.7L1510.1 268.8M1484.5 273.9L1499.7 278.6L1510.2 272.7M1484.5 277.7L1499.7 282.4L1510.2 276.5M1484.6 281.6L1499.8 286.3L1510.3 280.4M1484.7 285.4L1499.9 290.1L1510.4 284.2M1484.8 289.3L1500 294L1510.5 288.1M1484.8 293.1L1500 297.8L1510.5 291.9M1484.9 297L1500.1 301.7L1510.6 295.8" fill="none" stroke="#1B2836" stroke-width="1"/>
<polygon points="1507.4,256.8 1529.8,259.1 1527.4,260.9 1505,258.6" fill="#2A9CE6"/>
<path d="M1507.4 256.8L1505 258.6M1511.9 257.3L1509.5 259.1M1516.4 257.7L1514 259.5M1520.8 258.2L1518.4 260M1525.3 258.6L1522.9 260.4M1529.8 259.1L1527.4 260.9M1507.4 256.8L1529.8 259.1M1505 258.6L1527.4 260.9" fill="none" stroke="#08305C" stroke-width="1"/>
<polygon points="1505,258.6 1527.4,260.9 1527.4,292 1505,290" fill="#1F93E0"/>
<path d="M1505 258.6L1505 290M1509.5 259.1L1509.5 290.4M1514 259.5L1514 290.8M1518.4 260L1518.4 291.2M1522.9 260.4L1522.9 291.6M1527.4 260.9L1527.4 292M1505 258.6L1527.4 260.9M1505 260.4L1527.4 262.7M1505 262.3L1527.4 264.6M1505 264.1L1527.4 266.4M1505 266L1527.4 268.2M1505 267.8L1527.4 270M1505 269.7L1527.4 271.9M1505 271.5L1527.4 273.7M1505 273.4L1527.4 275.5M1505 275.2L1527.4 277.4M1505 277.1L1527.4 279.2M1505 278.9L1527.4 281M1505 280.8L1527.4 282.9M1505 282.6L1527.4 284.7M1505 284.5L1527.4 286.5M1505 286.3L1527.4 288.3M1505 288.2L1527.4 290.2M1505 290L1527.4 292" fill="none" stroke="#08305C" stroke-width="1.4"/>
<polygon points="1342.3,404.4 1344.4,402.4 1347.2,399.8 1350.5,396.6 1354.2,393.1 1358.2,389.4 1362.2,385.6 1366.5,381.7 1371.2,377.4 1376.1,372.9 1381,368.4 1385.9,364 1390.4,359.8 1394.6,355.9 1398.6,352.1 1402.4,348.4 1406.2,344.8 1409.9,341.2 1413.8,337.5 1417.7,333.7 1421.6,329.9 1425.5,326.1 1429.5,322.4 1433.4,318.7 1437.3,315.2 1441.2,311.8 1445.1,308.6 1449,305.4 1452.9,302.3 1456.8,299.4 1460.7,296.5 1464.6,293.7 1468.5,291 1472.4,288.3 1476.4,285.8 1480.3,283.4 1484.2,281.2 1488.2,279.1 1492.2,277.3 1496.1,275.5 1500.1,273.9 1504,272.3 1507.7,270.6 1511.5,268.8 1515.5,267 1519.3,265.1 1522.9,263.5 1525.8,262 1528,261 1534.6,270 1534.6,326.8 1534.6,326.8 1527.1,333.4 1519.6,340.1 1512.1,346.7 1504.6,353.3 1497.1,360 1489.6,366.6 1482.1,373.3 1474.6,380 1467.1,386.8 1459.6,393.5 1452.1,400.2 1444.7,407 1437.2,413.7 1429.7,420.5 1422.2,427.3 1414.7,434.1 1407.2,440.9 1399.7,447.7 1392.2,454.5 1384.7,461.2 1377.2,468 1369.7,474.8 1362.2,481.6 1362.2,481.6 1358.2,472.2 1354.6,462.7 1351.5,453.1 1348.8,443.5 1346.5,433.8 1344.6,424.1 1343.3,414.3 1342.3,404.4" fill="#145F9C"/>
<path d="M1342.3 404.4L1344.6 424.1L1348.8 443.5L1354.6 462.7L1362.2 481.6M1346.3 400.6L1348.7 420.3L1352.8 439.9L1358.5 459.2L1365.9 478.2M1350.4 396.7L1352.8 416.6L1356.8 436.3L1362.5 455.7L1369.7 474.8M1354.4 392.9L1356.9 412.9L1360.9 432.7L1366.4 452.2L1373.4 471.4M1358.4 389.1L1360.9 409.2L1364.9 429.1L1370.3 448.7L1377.2 468M1362.5 385.3L1365 405.5L1368.9 425.5L1374.2 445.2L1380.9 464.6M1366.5 381.6L1369.1 401.9L1373 421.9L1378.2 441.7L1384.7 461.2M1370.6 377.9L1373.1 398.3L1377 418.4L1382.1 438.2L1388.4 457.8M1374.6 374.3L1377.2 394.7L1381 414.9L1386 434.8L1392.2 454.5M1378.6 370.6L1381.3 391.1L1385 411.3L1389.9 431.3L1395.9 451.1M1382.7 366.9L1385.3 387.5L1389 407.8L1393.8 427.9L1399.7 447.7M1386.7 363.2L1389.4 383.9L1393 404.2L1397.7 424.4L1403.4 444.3M1390.7 359.5L1393.4 380.2L1397 400.7L1401.6 420.9L1407.2 440.9M1394.8 355.7L1397.5 376.5L1401 397.1L1405.5 417.4L1410.9 437.5M1398.8 351.9L1401.5 372.8L1405 393.5L1409.4 413.9L1414.7 434.1M1402.9 348L1405.6 369L1409 389.8L1413.3 410.4L1418.4 430.7M1406.9 344.1L1409.6 365.3L1413 386.2L1417.2 406.9L1422.2 427.3M1410.9 340.2L1413.6 361.5L1417 382.6L1421.1 403.4L1425.9 423.9M1415 336.4L1417.7 357.8L1421 378.9L1425 399.9L1429.7 420.5M1419 332.5L1421.7 354L1425 375.3L1428.9 396.3L1433.4 417.1M1423 328.6L1425.7 350.2L1429 371.6L1432.8 392.8L1437.2 413.7M1427.1 324.7L1429.8 346.5L1433 368L1436.7 389.3L1440.9 410.4M1431.1 320.8L1433.8 342.7L1436.9 364.4L1440.6 385.8L1444.7 407M1435.2 317.1L1437.8 339.1L1440.9 360.9L1444.4 382.4L1448.4 403.6M1439.2 313.6L1441.8 335.6L1444.9 357.4L1448.3 378.9L1452.1 400.2M1443.2 310.1L1445.8 332.2L1448.8 354L1452.2 375.6L1455.9 396.9M1447.3 306.8L1449.9 328.9L1452.8 350.7L1456.1 372.2L1459.6 393.5M1451.3 303.6L1453.9 325.6L1456.7 347.4L1459.9 368.9L1463.4 390.1M1455.3 300.5L1457.9 322.4L1460.7 344.1L1463.8 365.6L1467.1 386.8M1459.4 297.5L1461.9 319.3L1464.7 340.9L1467.6 362.3L1470.9 383.4M1463.4 294.6L1465.9 316.3L1468.6 337.8L1471.5 359L1474.6 380M1467.4 291.7L1469.9 313.3L1472.5 334.7L1475.4 355.8L1478.4 376.6M1471.5 289L1473.9 310.4L1476.5 331.6L1479.2 352.6L1482.1 373.3M1475.5 286.4L1477.9 307.6L1480.4 328.6L1483.1 349.4L1485.9 369.9M1479.6 283.9L1481.9 304.9L1484.4 325.7L1486.9 346.3L1489.6 366.6M1483.6 281.5L1485.9 302.4L1488.3 322.9L1490.8 343.2L1493.4 363.3M1487.6 279.4L1489.9 299.9L1492.2 320.2L1494.6 340.2L1497.1 360M1491.7 277.5L1493.9 297.7L1496.1 317.6L1498.5 337.2L1500.9 356.6M1495.7 275.7L1497.9 295.5L1500.1 315L1502.3 334.3L1504.6 353.3M1499.7 274L1501.8 293.4L1504 312.5L1506.1 331.4L1508.4 350M1503.8 272.3L1505.8 291.3L1507.9 310L1510 328.5L1512.1 346.7M1507.8 270.5L1509.8 289.1L1511.8 307.5L1513.8 325.5L1515.9 343.4M1511.9 268.7L1513.8 286.9L1515.7 304.9L1517.6 322.6L1519.6 340.1M1515.9 266.8L1517.7 284.6L1519.6 302.3L1521.5 319.6L1523.4 336.7M1519.9 264.8L1521.7 282.4L1523.5 299.6L1525.3 316.7L1527.1 333.4M1524 262.9L1525.7 280.1L1527.4 297L1529.1 313.7L1530.9 330.1M1528 261L1529.6 277.8L1531.3 294.4L1532.9 310.7L1534.6 326.8M1342.3 404.4L1350.4 396.7L1358.4 389.1L1366.5 381.6L1374.6 374.3L1382.7 366.9L1390.7 359.5L1398.8 351.9L1406.9 344.1L1415 336.4L1423 328.6L1431.1 320.8L1439.2 313.6L1447.3 306.8L1455.3 300.5L1463.4 294.6L1471.5 289L1479.6 283.9L1487.6 279.4L1495.7 275.7L1503.8 272.3L1511.9 268.7L1519.9 264.8L1528 261M1342.8 410.5L1351 402.9L1359.1 395.3L1367.2 387.9L1375.3 380.6L1383.4 373.3L1391.5 365.9L1399.6 358.3L1407.6 350.7L1415.7 343L1423.8 335.3L1431.9 327.6L1440 320.4L1448 313.6L1456.1 307.3L1464.2 301.3L1472.2 295.6L1480.3 290.4L1488.3 285.8L1496.4 281.8L1504.4 278.2L1512.4 274.3L1520.5 270.3L1528.5 266.2M1343.5 416.5L1351.7 409L1359.8 401.5L1367.9 394.1L1376.1 386.9L1384.2 379.6L1392.3 372.3L1400.4 364.8L1408.5 357.2L1416.6 349.6L1424.6 341.9L1432.7 334.3L1440.8 327.2L1448.8 320.4L1456.9 314L1464.9 308L1473 302.2L1481 296.9L1489 292.1L1497 287.9L1505 284L1513 279.9L1521 275.7L1529 271.4M1344.4 422.6L1352.6 415.1L1360.7 407.7L1368.8 400.4L1377 393.1L1385.1 385.9L1393.2 378.6L1401.3 371.2L1409.4 363.7L1417.4 356.2L1425.5 348.6L1433.6 341.1L1441.6 333.9L1449.6 327.2L1457.7 320.8L1465.7 314.6L1473.7 308.8L1481.7 303.3L1489.7 298.4L1497.7 294L1505.7 289.9L1513.6 285.5L1521.6 281L1529.5 276.5M1345.4 428.6L1353.6 421.2L1361.7 413.8L1369.9 406.5L1378 399.4L1386.1 392.2L1394.2 384.9L1402.3 377.6L1410.3 370.1L1418.4 362.7L1426.4 355.2L1434.5 347.8L1442.5 340.7L1450.5 333.9L1458.5 327.5L1466.5 321.3L1474.5 315.3L1482.5 309.8L1490.4 304.6L1498.4 300L1506.3 295.6L1514.2 291.1L1522.1 286.4L1530 281.7M1346.6 434.6L1354.8 427.2L1362.9 419.9L1371 412.7L1379.1 405.6L1387.2 398.4L1395.3 391.3L1403.3 384L1411.4 376.6L1419.4 369.2L1427.4 361.8L1435.4 354.4L1443.4 347.4L1451.4 340.6L1459.4 334.1L1467.3 327.9L1475.3 321.9L1483.2 316.2L1491.1 310.9L1499 306.1L1506.9 301.4L1514.8 296.6L1522.7 291.7L1530.5 286.8M1348 440.5L1356.1 433.3L1364.2 426L1372.3 418.9L1380.3 411.8L1388.4 404.7L1396.4 397.5L1404.5 390.3L1412.5 383L1420.5 375.7L1428.4 368.4L1436.4 361.1L1444.4 354.1L1452.3 347.3L1460.3 340.8L1468.2 334.5L1476.1 328.4L1484 322.6L1491.8 317.1L1499.7 312L1507.6 307.2L1515.4 302.1L1523.2 297L1531 291.9M1349.5 446.5L1357.6 439.3L1365.6 432.1L1373.7 425L1381.7 417.9L1389.7 410.9L1397.7 403.8L1405.7 396.6L1413.6 389.4L1421.6 382.2L1429.5 374.9L1437.5 367.7L1445.4 360.7L1453.3 354L1461.2 347.4L1469 341.1L1476.9 334.9L1484.7 328.9L1492.6 323.3L1500.4 318L1508.2 312.9L1516 307.6L1523.8 302.3L1531.6 296.9M1351.2 452.4L1359.2 445.3L1367.2 438.1L1375.2 431.1L1383.2 424.1L1391.1 417.1L1399 410L1407 402.9L1414.9 395.8L1422.8 388.6L1430.7 381.4L1438.5 374.3L1446.4 367.4L1454.3 360.6L1462.1 354L1469.9 347.6L1477.7 341.3L1485.5 335.3L1493.3 329.5L1501.1 324L1508.9 318.6L1516.6 313.1L1524.3 307.5L1532.1 302M1353.1 458.3L1361 451.2L1368.9 444.2L1376.8 437.2L1384.7 430.2L1392.6 423.2L1400.5 416.3L1408.3 409.2L1416.2 402.1L1424 395.1L1431.9 388L1439.7 380.9L1447.5 374L1455.3 367.3L1463.1 360.6L1470.8 354.1L1478.6 347.8L1486.3 341.6L1494.1 335.6L1501.8 329.9L1509.5 324.2L1517.2 318.5L1524.9 312.8L1532.6 307M1355.1 464.1L1363 457.1L1370.8 450.2L1378.6 443.2L1386.4 436.3L1394.2 429.4L1402 422.4L1409.8 415.5L1417.6 408.5L1425.3 401.5L1433.1 394.4L1440.9 387.5L1448.6 380.6L1456.3 373.8L1464 367.2L1471.7 360.6L1479.4 354.2L1487.1 347.9L1494.8 341.7L1502.5 335.8L1510.1 329.9L1517.8 323.9L1525.4 318L1533.1 312M1357.3 470L1365.1 463.1L1372.8 456.1L1380.5 449.3L1388.2 442.4L1395.9 435.5L1403.7 428.6L1411.3 421.7L1419 414.8L1426.7 407.8L1434.4 400.9L1442.1 394L1449.7 387.2L1457.4 380.4L1465 373.7L1472.7 367.1L1480.3 360.6L1488 354.1L1495.6 347.8L1503.2 341.7L1510.8 335.5L1518.4 329.3L1526 323.1L1533.6 316.9M1359.7 475.8L1367.3 468.9L1374.9 462.1L1382.5 455.3L1390.2 448.4L1397.8 441.6L1405.4 434.8L1413 427.9L1420.6 421L1428.2 414.2L1435.8 407.3L1443.3 400.5L1450.9 393.7L1458.5 387L1466.1 380.3L1473.7 373.6L1481.2 366.9L1488.8 360.4L1496.3 353.9L1503.9 347.5L1511.5 341.1L1519 334.7L1526.6 328.3L1534.1 321.9M1362.2 481.6L1369.7 474.8L1377.2 468L1384.7 461.2L1392.2 454.5L1399.7 447.7L1407.2 440.9L1414.7 434.1L1422.2 427.3L1429.7 420.5L1437.2 413.7L1444.7 407L1452.1 400.2L1459.6 393.5L1467.1 386.8L1474.6 380L1482.1 373.3L1489.6 366.6L1497.1 360L1504.6 353.3L1512.1 346.7L1519.6 340.1L1527.1 333.4L1534.6 326.8" fill="none" stroke="#06233F" stroke-width="1.2"/>
<polyline points="1347.8,439.6 1355.9,432.4 1364,425.1 1372.1,417.9 1380.1,410.8 1388.2,403.7 1396.2,396.6 1404.3,389.4 1412.3,382 1420.3,374.7 1428.3,367.4 1436.3,360.1 1444.2,353.1 1452.2,346.3 1460.1,339.8 1468,333.5 1476,327.4 1483.9,321.6 1491.7,316.2 1499.6,311.2 1507.5,306.3 1515.3,301.3 1523.1,296.2 1531,291.1" fill="none" stroke="#2E8FD0" stroke-width="1.6" opacity="0.5"/>
<polyline points="1352.8,457.3 1360.7,450.3 1368.7,443.2 1376.6,436.2 1384.5,429.2 1392.4,422.3 1400.3,415.3 1408.1,408.2 1416,401.1 1423.8,394 1431.7,386.9 1439.5,379.9 1447.3,372.9 1455.1,366.2 1462.9,359.6 1470.7,353.1 1478.4,346.7 1486.2,340.6 1493.9,334.6 1501.7,328.9 1509.4,323.3 1517.1,317.7 1524.8,311.9 1532.5,306.2" fill="none" stroke="#2E8FD0" stroke-width="1.6" opacity="0.6"/>
<polygon points="1353.3,458.9 1361.2,451.8 1369.1,444.8 1377,437.8 1384.9,430.8 1392.8,423.9 1400.6,416.9 1408.5,409.8 1416.3,402.8 1424.2,395.7 1432,388.6 1439.8,381.6 1447.6,374.7 1455.4,367.9 1463.1,361.3 1470.9,354.8 1478.7,348.4 1486.4,342.2 1494.1,336.2 1501.9,330.5 1509.6,324.8 1517.3,319.1 1524.9,313.3 1532.6,307.5 1534.6,326.8 1527.1,333.4 1519.6,340.1 1512.1,346.7 1504.6,353.3 1497.1,360 1489.6,366.6 1482.1,373.3 1474.6,380 1467.1,386.8 1459.6,393.5 1452.1,400.2 1444.7,407 1437.2,413.7 1429.7,420.5 1422.2,427.3 1414.7,434.1 1407.2,440.9 1399.7,447.7 1392.2,454.5 1384.7,461.2 1377.2,468 1369.7,474.8 1362.2,481.6" fill="#031830" opacity="0.28"/>
<polygon points="1340.3,403.2 1344.3,399.4 1348.4,395.5 1352.4,391.7 1356.4,387.9 1360.5,384.1 1364.5,380.4 1368.6,376.7 1372.6,373.1 1376.6,369.4 1380.7,365.7 1384.7,362 1388.7,358.3 1392.8,354.5 1396.8,350.7 1400.9,346.8 1404.9,342.9 1408.9,339 1413,335.2 1417,331.3 1421,327.4 1425.1,323.5 1429.1,319.6 1433.2,315.9 1437.2,312.4 1441.2,308.9 1445.3,305.6 1449.3,302.4 1453.3,299.3 1457.4,296.3 1461.4,293.4 1465.4,290.5 1469.5,287.8 1473.5,285.2 1477.6,282.7 1481.6,280.3 1485.6,278.2 1489.7,276.3 1493.7,274.5 1497.7,272.8 1501.8,271.1 1505.8,269.3 1509.9,267.5 1513.9,265.6 1517.9,263.6 1522,261.7 1526,259.8 1528,261 1524,262.9 1519.9,264.8 1515.9,266.8 1511.9,268.7 1507.8,270.5 1503.8,272.3 1499.7,274 1495.7,275.7 1491.7,277.5 1487.6,279.4 1483.6,281.5 1479.6,283.9 1475.5,286.4 1471.5,289 1467.4,291.7 1463.4,294.6 1459.4,297.5 1455.3,300.5 1451.3,303.6 1447.3,306.8 1443.2,310.1 1439.2,313.6 1435.2,317.1 1431.1,320.8 1427.1,324.7 1423,328.6 1419,332.5 1415,336.4 1410.9,340.2 1406.9,344.1 1402.9,348 1398.8,351.9 1394.8,355.7 1390.7,359.5 1386.7,363.2 1382.7,366.9 1378.6,370.6 1374.6,374.3 1370.6,377.9 1366.5,381.6 1362.5,385.3 1358.4,389.1 1354.4,392.9 1350.4,396.7 1346.3,400.6 1342.3,404.4" fill="#2A9CE6"/>
<path d="M1340.3 403.2L1342.3 404.4M1344.3 399.4L1346.3 400.6M1348.4 395.5L1350.4 396.7M1352.4 391.7L1354.4 392.9M1356.4 387.9L1358.4 389.1M1360.5 384.1L1362.5 385.3M1364.5 380.4L1366.5 381.6M1368.6 376.7L1370.6 377.9M1372.6 373.1L1374.6 374.3M1376.6 369.4L1378.6 370.6M1380.7 365.7L1382.7 366.9M1384.7 362L1386.7 363.2M1388.7 358.3L1390.7 359.5M1392.8 354.5L1394.8 355.7M1396.8 350.7L1398.8 351.9M1400.9 346.8L1402.9 348M1404.9 342.9L1406.9 344.1M1408.9 339L1410.9 340.2M1413 335.2L1415 336.4M1417 331.3L1419 332.5M1421 327.4L1423 328.6M1425.1 323.5L1427.1 324.7M1429.1 319.6L1431.1 320.8M1433.2 315.9L1435.2 317.1M1437.2 312.4L1439.2 313.6M1441.2 308.9L1443.2 310.1M1445.3 305.6L1447.3 306.8M1449.3 302.4L1451.3 303.6M1453.3 299.3L1455.3 300.5M1457.4 296.3L1459.4 297.5M1461.4 293.4L1463.4 294.6M1465.4 290.5L1467.4 291.7M1469.5 287.8L1471.5 289M1473.5 285.2L1475.5 286.4M1477.6 282.7L1479.6 283.9M1481.6 280.3L1483.6 281.5M1485.6 278.2L1487.6 279.4M1489.7 276.3L1491.7 277.5M1493.7 274.5L1495.7 275.7M1497.7 272.8L1499.7 274M1501.8 271.1L1503.8 272.3M1505.8 269.3L1507.8 270.5M1509.9 267.5L1511.9 268.7M1513.9 265.6L1515.9 266.8M1517.9 263.6L1519.9 264.8M1522 261.7L1524 262.9M1526 259.8L1528 261M1340.3 403.2L1348.4 395.5L1356.4 387.9L1364.5 380.4L1372.6 373.1L1380.7 365.7L1388.7 358.3L1396.8 350.7L1404.9 342.9L1413 335.2L1421 327.4L1429.1 319.6L1437.2 312.4L1445.3 305.6L1453.3 299.3L1461.4 293.4L1469.5 287.8L1477.6 282.7L1485.6 278.2L1493.7 274.5L1501.8 271.1L1509.9 267.5L1517.9 263.6L1526 259.8M1342.3 404.4L1350.4 396.7L1358.4 389.1L1366.5 381.6L1374.6 374.3L1382.7 366.9L1390.7 359.5L1398.8 351.9L1406.9 344.1L1415 336.4L1423 328.6L1431.1 320.8L1439.2 313.6L1447.3 306.8L1455.3 300.5L1463.4 294.6L1471.5 289L1479.6 283.9L1487.6 279.4L1495.7 275.7L1503.8 272.3L1511.9 268.7L1519.9 264.8L1528 261" fill="none" stroke="#06233F" stroke-width="0.9"/>
<rect x="1360.5" y="381.5" width="3.6" height="3.6" fill="#F0F"/>
<polygon points="900.4,166.3 930.9,177.1 928.5,178.9 898,168.1" fill="#2A9CE6"/>
<path d="M900.4 166.3L898 168.1M905.5 168.1L903.1 169.9M910.6 169.9L908.2 171.7M915.6 171.7L913.2 173.5M920.7 173.5L918.3 175.3M925.8 175.3L923.4 177.1M930.9 177.1L928.5 178.9M900.4 166.3L930.9 177.1M898 168.1L928.5 178.9" fill="none" stroke="#08305C" stroke-width="1"/>
<polygon points="898,168.1 928.5,178.9 928.5,251.5 895.8,238" fill="#1F93E0"/>
<path d="M898 168.1L895.8 238M903.1 169.9L901.2 240.2M908.2 171.7L906.7 242.5M913.2 173.5L912.1 244.8M918.3 175.3L917.6 247M923.4 177.1L923 249.2M928.5 178.9L928.5 251.5M898 168.1L928.5 178.9M897.9 172.2L928.5 183.2M897.7 176.3L928.5 187.4M897.6 180.4L928.5 191.7M897.5 184.5L928.5 196M897.4 188.7L928.5 200.3M897.2 192.8L928.5 204.5M897.1 196.9L928.5 208.8M897 201L928.5 213.1M896.8 205.1L928.5 217.3M896.7 209.2L928.5 221.6M896.6 213.3L928.5 225.9M896.4 217.4L928.5 230.1M896.3 221.6L928.5 234.4M896.2 225.7L928.5 238.7M896.1 229.8L928.5 243M895.9 233.9L928.5 247.2M895.8 238L928.5 251.5" fill="none" stroke="#08305C" stroke-width="1.4"/>
<polyline points="896.6,212.8 899.3,213.9 901.9,214.9 904.6,216 907.2,217 909.9,218.1 912.5,219.1 915.2,220.1 917.9,221.2 920.5,222.2 923.2,223.3 925.8,224.3 928.5,225.4" fill="none" stroke="#08305C" stroke-width="2" opacity="0.55"/>
<polyline points="896.2,224 898.9,225.1 901.6,226.2 904.3,227.3 907,228.3 909.7,229.4 912.4,230.5 915.1,231.6 917.7,232.7 920.4,233.7 923.1,234.8 925.8,235.9 928.5,237" fill="none" stroke="#08305C" stroke-width="2" opacity="0.55"/>
<polygon points="928.5,177 945.4,183.8 943.2,260.5 926.3,253.7" fill="#D3EEFB" stroke="#1B2836" stroke-width="1"/>
<polygon points="945.4,183.8 956.7,178.2 954.5,254.9 943.2,260.5" fill="#93A6C4" stroke="#1B2836" stroke-width="1"/>
<polygon points="928.5,177 945.4,183.8 956.7,178.2 939.8,171.4" fill="#D0F0FC" stroke="#1B2836" stroke-width="1"/>
<path d="M928.3 182.9L945.2 189.7L956.5 184.1M928.2 188.8L945.1 195.6L956.4 190M928 194.7L944.9 201.5L956.2 195.9M927.8 200.6L944.7 207.4L956 201.8M927.7 206.5L944.6 213.3L955.9 207.7M927.5 212.4L944.4 219.2L955.7 213.6M927.3 218.3L944.2 225.1L955.5 219.5M927.1 224.2L944 231L955.3 225.4M927 230.1L943.9 236.9L955.2 231.3M926.8 236L943.7 242.8L955 237.2M926.6 241.9L943.5 248.7L954.8 243.1M926.5 247.8L943.4 254.6L954.7 249" fill="none" stroke="#1B2836" stroke-width="1"/>
<polygon points="952.3,181.6 957.3,181.5 962.2,181.4 967.2,181.4 972.1,181.6 977.1,182 982,182.6 987,183.3 992,184.3 996.9,185.5 1001.9,186.9 1006.8,188.6 1011.8,190.5 1016.7,192.5 1021.7,194.5 1026.7,196.7 1031.6,199 1036.6,201.3 1041.5,203.6 1046.5,206 1051.4,208.5 1056.4,211 1054,212.8 1049,210.3 1044.1,207.8 1039.1,205.4 1034.2,203.1 1029.2,200.8 1024.3,198.5 1019.3,196.3 1014.3,194.3 1009.4,192.3 1004.4,190.4 999.5,188.7 994.5,187.3 989.6,186.1 984.6,185.1 979.6,184.4 974.7,183.8 969.7,183.4 964.8,183.2 959.8,183.2 954.9,183.3 949.9,183.4" fill="#2A9CE6"/>
<path d="M952.3 181.6L949.9 183.4M957.3 181.5L954.9 183.3M962.2 181.4L959.8 183.2M967.2 181.4L964.8 183.2M972.1 181.6L969.7 183.4M977.1 182L974.7 183.8M982 182.6L979.6 184.4M987 183.3L984.6 185.1M992 184.3L989.6 186.1M996.9 185.5L994.5 187.3M1001.9 186.9L999.5 188.7M1006.8 188.6L1004.4 190.4M1011.8 190.5L1009.4 192.3M1016.7 192.5L1014.3 194.3M1021.7 194.5L1019.3 196.3M1026.7 196.7L1024.3 198.5M1031.6 199L1029.2 200.8M1036.6 201.3L1034.2 203.1M1041.5 203.6L1039.1 205.4M1046.5 206L1044.1 207.8M1051.4 208.5L1049 210.3M1056.4 211L1054 212.8M952.3 181.6L957.3 181.5L962.2 181.4L967.2 181.4L972.1 181.6L977.1 182L982 182.6L987 183.3L992 184.3L996.9 185.5L1001.9 186.9L1006.8 188.6L1011.8 190.5L1016.7 192.5L1021.7 194.5L1026.7 196.7L1031.6 199L1036.6 201.3L1041.5 203.6L1046.5 206L1051.4 208.5L1056.4 211M949.9 183.4L954.9 183.3L959.8 183.2L964.8 183.2L969.7 183.4L974.7 183.8L979.6 184.4L984.6 185.1L989.6 186.1L994.5 187.3L999.5 188.7L1004.4 190.4L1009.4 192.3L1014.3 194.3L1019.3 196.3L1024.3 198.5L1029.2 200.8L1034.2 203.1L1039.1 205.4L1044.1 207.8L1049 210.3L1054 212.8" fill="none" stroke="#08305C" stroke-width="1"/>
<polygon points="949.9,183.4 954.9,183.3 959.8,183.2 964.8,183.2 969.7,183.4 974.7,183.8 979.6,184.4 984.6,185.1 989.6,186.1 994.5,187.3 999.5,188.7 1004.4,190.4 1009.4,192.3 1014.3,194.3 1019.3,196.3 1024.3,198.5 1029.2,200.8 1034.2,203.1 1039.1,205.4 1044.1,207.8 1049,210.3 1054,212.8 1047,292.1 1042.2,290.5 1037.3,288.9 1032.5,287.3 1027.6,285.6 1022.8,284 1018,282.4 1013.1,280.8 1008.3,279.2 1003.5,277.6 998.6,276 993.8,274.3 988.9,272.7 984.1,271.1 979.3,269.5 974.4,267.9 969.6,266.3 964.8,264.7 959.9,263 955.1,261.4 950.2,259.8 945.4,258.2" fill="#1F93E0"/>
<path d="M949.9 183.4L945.4 258.2M954.9 183.3L950.2 259.8M959.8 183.2L955.1 261.4M964.8 183.2L959.9 263M969.7 183.4L964.8 264.7M974.7 183.8L969.6 266.3M979.6 184.4L974.4 267.9M984.6 185.1L979.3 269.5M989.6 186.1L984.1 271.1M994.5 187.3L988.9 272.7M999.5 188.7L993.8 274.3M1004.4 190.4L998.6 276M1009.4 192.3L1003.5 277.6M1014.3 194.3L1008.3 279.2M1019.3 196.3L1013.1 280.8M1024.3 198.5L1018 282.4M1029.2 200.8L1022.8 284M1034.2 203.1L1027.6 285.6M1039.1 205.4L1032.5 287.3M1044.1 207.8L1037.3 288.9M1049 210.3L1042.2 290.5M1054 212.8L1047 292.1M949.9 183.4L954.9 183.3L959.8 183.2L964.8 183.2L969.7 183.4L974.7 183.8L979.6 184.4L984.6 185.1L989.6 186.1L994.5 187.3L999.5 188.7L1004.4 190.4L1009.4 192.3L1014.3 194.3L1019.3 196.3L1024.3 198.5L1029.2 200.8L1034.2 203.1L1039.1 205.4L1044.1 207.8L1049 210.3L1054 212.8M949.6 187.8L954.6 187.8L959.5 187.8L964.5 187.9L969.4 188.2L974.4 188.7L979.3 189.3L984.3 190.1L989.2 191.1L994.2 192.3L999.1 193.8L1004.1 195.5L1009 197.3L1014 199.3L1018.9 201.3L1023.9 203.4L1028.8 205.7L1033.8 208L1038.7 210.3L1043.7 212.6L1048.6 215L1053.6 217.5M949.4 192.2L954.3 192.3L959.3 192.4L964.2 192.6L969.1 192.9L974.1 193.5L979 194.2L984 195L988.9 196.1L993.9 197.3L998.8 198.8L1003.7 200.5L1008.7 202.4L1013.6 204.3L1018.6 206.3L1023.5 208.4L1028.5 210.6L1033.4 212.8L1038.3 215.1L1043.3 217.4L1048.2 219.7L1053.2 222.1M949.1 196.6L954 196.8L959 197L963.9 197.3L968.9 197.7L973.8 198.4L978.7 199.1L983.7 200L988.6 201.1L993.5 202.4L998.5 203.9L1003.4 205.5L1008.3 207.4L1013.3 209.3L1018.2 211.2L1023.1 213.3L1028.1 215.5L1033 217.7L1038 219.9L1042.9 222.1L1047.8 224.5L1052.8 226.8M948.8 201L953.8 201.3L958.7 201.6L963.6 202L968.6 202.5L973.5 203.2L978.4 204L983.3 205L988.3 206.1L993.2 207.4L998.1 208.9L1003.1 210.6L1008 212.4L1012.9 214.3L1017.8 216.2L1022.8 218.2L1027.7 220.4L1032.6 222.5L1037.6 224.7L1042.5 226.9L1047.4 229.2L1052.4 231.5M948.6 205.4L953.5 205.8L958.4 206.2L963.3 206.7L968.3 207.3L973.2 208.1L978.1 208.9L983 209.9L988 211.1L992.9 212.4L997.8 213.9L1002.7 215.6L1007.6 217.4L1012.6 219.3L1017.5 221.2L1022.4 223.2L1027.3 225.3L1032.3 227.4L1037.2 229.5L1042.1 231.7L1047 233.9L1051.9 236.1M948.3 209.8L953.2 210.3L958.1 210.8L963.1 211.4L968 212.1L972.9 212.9L977.8 213.8L982.7 214.9L987.6 216.1L992.5 217.4L997.5 219L1002.4 220.6L1007.3 222.4L1012.2 224.2L1017.1 226.1L1022 228.1L1027 230.2L1031.9 232.2L1036.8 234.3L1041.7 236.4L1046.6 238.6L1051.5 240.8M948 214.2L953 214.8L957.9 215.4L962.8 216.1L967.7 216.8L972.6 217.8L977.5 218.8L982.4 219.9L987.3 221.1L992.2 222.5L997.1 224L1002 225.7L1006.9 227.4L1011.9 229.2L1016.8 231.1L1021.7 233.1L1026.6 235.1L1031.5 237.1L1036.4 239.1L1041.3 241.2L1046.2 243.3L1051.1 245.5M947.8 218.6L952.7 219.3L957.6 220L962.5 220.8L967.4 221.6L972.3 222.6L977.2 223.7L982.1 224.8L987 226.1L991.9 227.5L996.8 229L1001.7 230.7L1006.6 232.4L1011.5 234.2L1016.4 236.1L1021.3 238L1026.2 240L1031.1 241.9L1036 243.9L1040.9 246L1045.8 248L1050.7 250.1M947.5 223L952.4 223.8L957.3 224.6L962.2 225.5L967.1 226.4L972 227.5L976.9 228.6L981.8 229.8L986.7 231.1L991.6 232.5L996.5 234.1L1001.4 235.7L1006.2 237.5L1011.1 239.2L1016 241L1020.9 242.9L1025.8 244.9L1030.7 246.8L1035.6 248.8L1040.5 250.7L1045.4 252.8L1050.3 254.8M947.3 227.4L952.1 228.3L957 229.2L961.9 230.2L966.8 231.2L971.7 232.3L976.6 233.5L981.5 234.8L986.3 236.1L991.2 237.5L996.1 239.1L1001 240.7L1005.9 242.5L1010.8 244.2L1015.7 246L1020.6 247.9L1025.4 249.7L1030.3 251.7L1035.2 253.6L1040.1 255.5L1045 257.5L1049.9 259.4M947 231.8L951.9 232.8L956.7 233.8L961.6 234.9L966.5 236L971.4 237.2L976.3 238.4L981.1 239.7L986 241.1L990.9 242.6L995.8 244.1L1000.7 245.8L1005.5 247.5L1010.4 249.2L1015.3 251L1020.2 252.8L1025.1 254.6L1030 256.5L1034.8 258.4L1039.7 260.3L1044.6 262.2L1049.5 264.1M946.7 236.2L951.6 237.3L956.5 238.4L961.3 239.6L966.2 240.7L971.1 242L976 243.3L980.8 244.7L985.7 246.1L990.6 247.6L995.5 249.2L1000.3 250.8L1005.2 252.5L1010.1 254.2L1014.9 256L1019.8 257.7L1024.7 259.5L1029.6 261.4L1034.4 263.2L1039.3 265L1044.2 266.9L1049.1 268.8M946.5 240.6L951.3 241.8L956.2 243L961.1 244.3L965.9 245.5L970.8 246.9L975.7 248.2L980.5 249.6L985.4 251.1L990.3 252.6L995.1 254.2L1000 255.8L1004.9 257.5L1009.7 259.2L1014.6 260.9L1019.5 262.7L1024.3 264.4L1029.2 266.2L1034 268L1038.9 269.8L1043.8 271.6L1048.6 273.4M946.2 245L951.1 246.3L955.9 247.6L960.8 248.9L965.6 250.3L970.5 251.7L975.3 253.1L980.2 254.6L985.1 256.1L989.9 257.6L994.8 259.2L999.6 260.9L1004.5 262.5L1009.4 264.2L1014.2 265.9L1019.1 267.6L1023.9 269.3L1028.8 271.1L1033.7 272.8L1038.5 274.6L1043.4 276.3L1048.2 278.1M945.9 249.4L950.8 250.8L955.6 252.2L960.5 253.6L965.3 255.1L970.2 256.6L975 258.1L979.9 259.6L984.7 261.1L989.6 262.7L994.5 264.3L999.3 265.9L1004.2 267.5L1009 269.2L1013.9 270.9L1018.7 272.5L1023.6 274.2L1028.4 275.9L1033.3 277.6L1038.1 279.3L1043 281.1L1047.8 282.8M945.7 253.8L950.5 255.3L955.4 256.8L960.2 258.3L965 259.9L969.9 261.4L974.7 263L979.6 264.5L984.4 266.1L989.3 267.7L994.1 269.3L999 270.9L1003.8 272.6L1008.7 274.2L1013.5 275.8L1018.3 277.5L1023.2 279.1L1028 280.8L1032.9 282.4L1037.7 284.1L1042.6 285.8L1047.4 287.4M945.4 258.2L950.2 259.8L955.1 261.4L959.9 263L964.8 264.7L969.6 266.3L974.4 267.9L979.3 269.5L984.1 271.1L988.9 272.7L993.8 274.3L998.6 276L1003.5 277.6L1008.3 279.2L1013.1 280.8L1018 282.4L1022.8 284L1027.6 285.6L1032.5 287.3L1037.3 288.9L1042.2 290.5L1047 292.1" fill="none" stroke="#08305C" stroke-width="1.4"/>
<polyline points="947,231.3 955.6,233 964.1,234.8 972.6,236.9 981.2,239.1 989.7,241.6 998.3,244.3 1006.8,247.3 1015.4,250.4 1023.9,253.6 1032.4,256.9 1041,260.2 1049.5,263.6" fill="none" stroke="#08305C" stroke-width="2" opacity="0.55"/>
<polyline points="946.3,243.2 954.8,245.5 963.3,247.7 971.8,250.1 980.3,252.6 988.8,255.2 997.4,258 1005.9,260.9 1014.4,263.9 1022.9,266.9 1031.4,270 1039.9,273.1 1048.4,276.2" fill="none" stroke="#08305C" stroke-width="2" opacity="0.55"/>
<polygon points="1053.7,210.9 1070.7,217.6 1062.8,293.2 1045.8,286.5" fill="#D3EEFB" stroke="#1B2836" stroke-width="1"/>
<polygon points="1070.7,217.6 1080.9,211.9 1073,287.5 1062.8,293.2" fill="#93A6C4" stroke="#1B2836" stroke-width="1"/>
<polygon points="1053.7,210.9 1070.7,217.6 1080.9,211.9 1063.9,205.2" fill="#D0F0FC" stroke="#1B2836" stroke-width="1"/>
<path d="M1053.1 216.7L1070.1 223.4L1080.3 217.7M1052.5 222.5L1069.5 229.2L1079.7 223.5M1051.9 228.3L1068.9 235L1079.1 229.3M1051.3 234.2L1068.3 240.9L1078.5 235.2M1050.7 240L1067.7 246.7L1077.9 241M1050.1 245.8L1067.1 252.5L1077.3 246.8M1049.4 251.6L1066.4 258.3L1076.6 252.6M1048.8 257.4L1065.8 264.1L1076 258.4M1048.2 263.2L1065.2 269.9L1075.4 264.2M1047.6 269.1L1064.6 275.8L1074.8 270.1M1047 274.9L1064 281.6L1074.2 275.9M1046.4 280.7L1063.4 287.4L1073.6 281.7" fill="none" stroke="#1B2836" stroke-width="1"/>
<polygon points="1076.4,215.5 1081.4,215.9 1086.4,216.3 1091.4,216.8 1096.4,217.6 1101.3,218.8 1106.3,220.1 1111.3,221.6 1116.3,223.4 1121.3,225.4 1126.3,227.7 1131.3,230.2 1136.3,232.9 1141.3,235.5 1146.3,237.9 1151.2,240.4 1156.2,242.9 1161.2,245.7 1166.2,248.6 1171.2,251.6 1168.8,253.4 1163.8,250.4 1158.8,247.5 1153.8,244.7 1148.8,242.2 1143.9,239.7 1138.9,237.3 1133.9,234.7 1128.9,232 1123.9,229.5 1118.9,227.2 1113.9,225.2 1108.9,223.4 1103.9,221.9 1098.9,220.6 1094,219.4 1089,218.6 1084,218.1 1079,217.7 1074,217.3" fill="#2A9CE6"/>
<path d="M1076.4 215.5L1074 217.3M1081.4 215.9L1079 217.7M1086.4 216.3L1084 218.1M1091.4 216.8L1089 218.6M1096.4 217.6L1094 219.4M1101.3 218.8L1098.9 220.6M1106.3 220.1L1103.9 221.9M1111.3 221.6L1108.9 223.4M1116.3 223.4L1113.9 225.2M1121.3 225.4L1118.9 227.2M1126.3 227.7L1123.9 229.5M1131.3 230.2L1128.9 232M1136.3 232.9L1133.9 234.7M1141.3 235.5L1138.9 237.3M1146.3 237.9L1143.9 239.7M1151.2 240.4L1148.8 242.2M1156.2 242.9L1153.8 244.7M1161.2 245.7L1158.8 247.5M1166.2 248.6L1163.8 250.4M1171.2 251.6L1168.8 253.4M1076.4 215.5L1081.4 215.9L1086.4 216.3L1091.4 216.8L1096.4 217.6L1101.3 218.8L1106.3 220.1L1111.3 221.6L1116.3 223.4L1121.3 225.4L1126.3 227.7L1131.3 230.2L1136.3 232.9L1141.3 235.5L1146.3 237.9L1151.2 240.4L1156.2 242.9L1161.2 245.7L1166.2 248.6L1171.2 251.6M1074 217.3L1079 217.7L1084 218.1L1089 218.6L1094 219.4L1098.9 220.6L1103.9 221.9L1108.9 223.4L1113.9 225.2L1118.9 227.2L1123.9 229.5L1128.9 232L1133.9 234.7L1138.9 237.3L1143.9 239.7L1148.8 242.2L1153.8 244.7L1158.8 247.5L1163.8 250.4L1168.8 253.4" fill="none" stroke="#08305C" stroke-width="1"/>
<polygon points="1074,217.3 1079,217.7 1084,218.1 1089,218.6 1094,219.4 1098.9,220.6 1103.9,221.9 1108.9,223.4 1113.9,225.2 1118.9,227.2 1123.9,229.5 1128.9,232 1133.9,234.7 1138.9,237.3 1143.9,239.7 1148.8,242.2 1153.8,244.7 1158.8,247.5 1163.8,250.4 1168.8,253.4 1168.8,330 1164.1,328.5 1158.7,326.4 1153.2,324.4 1147.8,322.3 1142.3,320.2 1136.9,318.1 1131.4,316 1126,314 1120.5,311.9 1115.1,309.8 1109.6,307.7 1104.2,305.6 1098.8,303.5 1093.3,301.4 1087.9,299.3 1082.4,297.3 1077,295.2 1071.5,293.1 1066.1,291" fill="#1F93E0"/>
<path d="M1074 217.3L1066.1 291M1079 217.7L1071.5 293.1M1084 218.1L1077 295.2M1089 218.6L1082.4 297.3M1094 219.4L1087.9 299.3M1098.9 220.6L1093.3 301.4M1103.9 221.9L1098.8 303.5M1108.9 223.4L1104.2 305.6M1113.9 225.2L1109.6 307.7M1118.9 227.2L1115.1 309.8M1123.9 229.5L1120.5 311.9M1128.9 232L1126 314M1133.9 234.7L1131.4 316M1138.9 237.3L1136.9 318.1M1143.9 239.7L1142.3 320.2M1148.8 242.2L1147.8 322.3M1153.8 244.7L1153.2 324.4M1158.8 247.5L1158.7 326.4M1163.8 250.4L1164.1 328.5M1168.8 253.4L1168.8 330M1074 217.3L1079 217.7L1084 218.1L1089 218.6L1094 219.4L1098.9 220.6L1103.9 221.9L1108.9 223.4L1113.9 225.2L1118.9 227.2L1123.9 229.5L1128.9 232L1133.9 234.7L1138.9 237.3L1143.9 239.7L1148.8 242.2L1153.8 244.7L1158.8 247.5L1163.8 250.4L1168.8 253.4M1073.5 221.6L1078.6 222.1L1083.6 222.6L1088.6 223.3L1093.6 224.1L1098.6 225.3L1103.6 226.7L1108.6 228.3L1113.7 230L1118.7 232L1123.7 234.3L1128.7 236.8L1133.7 239.5L1138.7 242L1143.8 244.5L1148.8 246.9L1153.8 249.4L1158.8 252.1L1163.8 255L1168.8 257.9M1073.1 226L1078.1 226.6L1083.2 227.2L1088.2 227.9L1093.2 228.8L1098.3 230.1L1103.3 231.5L1108.4 233.1L1113.4 234.9L1118.5 236.9L1123.5 239.2L1128.5 241.7L1133.6 244.2L1138.6 246.8L1143.7 249.2L1148.7 251.6L1153.8 254.1L1158.8 256.8L1163.8 259.6L1168.8 262.4M1072.6 230.3L1077.7 231L1082.7 231.7L1087.8 232.5L1092.9 233.5L1098 234.8L1103 236.3L1108.1 237.9L1113.2 239.7L1118.2 241.7L1123.3 244L1128.4 246.5L1133.4 249L1138.5 251.5L1143.6 253.9L1148.7 256.3L1153.7 258.8L1158.8 261.4L1163.9 264.2L1168.8 266.9M1072.1 234.6L1077.2 235.4L1082.3 236.2L1087.4 237.1L1092.5 238.2L1097.6 239.6L1102.7 241.1L1107.8 242.8L1112.9 244.6L1118 246.6L1123.1 248.9L1128.2 251.3L1133.3 253.8L1138.4 256.3L1143.5 258.7L1148.6 261L1153.7 263.5L1158.8 266.1L1163.9 268.8L1168.8 271.4M1071.7 239L1076.8 239.9L1081.9 240.8L1087 241.8L1092.2 242.9L1097.3 244.4L1102.4 245.9L1107.5 247.6L1112.7 249.4L1117.8 251.5L1122.9 253.7L1128 256.1L1133.2 258.6L1138.3 261.1L1143.4 263.4L1148.5 265.8L1153.6 268.1L1158.8 270.7L1163.9 273.4L1168.8 275.9M1071.2 243.3L1076.4 244.3L1081.5 245.3L1086.7 246.4L1091.8 247.6L1097 249.1L1102.1 250.7L1107.3 252.4L1112.4 254.3L1117.6 256.3L1122.7 258.6L1127.9 260.9L1133 263.4L1138.2 265.8L1143.3 268.1L1148.5 270.5L1153.6 272.8L1158.8 275.3L1163.9 278L1168.8 280.4M1070.7 247.6L1075.9 248.7L1081.1 249.8L1086.3 251L1091.5 252.3L1096.6 253.9L1101.8 255.5L1107 257.3L1112.2 259.1L1117.3 261.2L1122.5 263.4L1127.7 265.8L1132.9 268.2L1138 270.6L1143.2 272.9L1148.4 275.2L1153.6 277.5L1158.8 280L1163.9 282.6L1168.8 284.9M1070.3 252L1075.5 253.2L1080.7 254.4L1085.9 255.6L1091.1 257L1096.3 258.6L1101.5 260.3L1106.7 262.1L1111.9 264L1117.1 266L1122.3 268.2L1127.5 270.6L1132.7 273L1137.9 275.3L1143.1 277.6L1148.3 279.9L1153.5 282.2L1158.7 284.6L1164 287.2L1168.8 289.4M1069.8 256.3L1075 257.6L1080.3 258.9L1085.5 260.3L1090.7 261.7L1096 263.4L1101.2 265.1L1106.4 266.9L1111.7 268.9L1116.9 270.9L1122.1 273.1L1127.3 275.4L1132.6 277.7L1137.8 280.1L1143 282.3L1148.3 284.6L1153.5 286.9L1158.7 289.3L1164 291.7L1168.8 294M1069.4 260.7L1074.6 262L1079.9 263.4L1085.1 264.9L1090.4 266.4L1095.6 268.1L1100.9 269.9L1106.1 271.8L1111.4 273.7L1116.7 275.8L1121.9 277.9L1127.2 280.2L1132.4 282.5L1137.7 284.8L1142.9 287.1L1148.2 289.3L1153.5 291.6L1158.7 293.9L1164 296.3L1168.8 298.5M1068.9 265L1074.2 266.5L1079.5 268L1084.7 269.5L1090 271.1L1095.3 272.9L1100.6 274.7L1105.9 276.6L1111.2 278.6L1116.4 280.6L1121.7 282.8L1127 285L1132.3 287.3L1137.6 289.6L1142.9 291.8L1148.1 294L1153.4 296.3L1158.7 298.6L1164 300.9L1168.8 303M1068.4 269.3L1073.7 270.9L1079 272.5L1084.4 274.1L1089.7 275.8L1095 277.7L1100.3 279.5L1105.6 281.4L1110.9 283.4L1116.2 285.5L1121.5 287.6L1126.8 289.9L1132.1 292.1L1137.5 294.3L1142.8 296.5L1148.1 298.7L1153.4 300.9L1158.7 303.2L1164 305.5L1168.8 307.5M1068 273.7L1073.3 275.3L1078.6 277L1084 278.8L1089.3 280.5L1094.6 282.4L1100 284.3L1105.3 286.3L1110.7 288.3L1116 290.3L1121.3 292.5L1126.7 294.7L1132 296.9L1137.3 299.1L1142.7 301.3L1148 303.4L1153.4 305.6L1158.7 307.9L1164 310.1L1168.8 312M1067.5 278L1072.9 279.8L1078.2 281.6L1083.6 283.4L1088.9 285.2L1094.3 287.2L1099.7 289.1L1105 291.1L1110.4 293.1L1115.8 295.2L1121.1 297.3L1126.5 299.5L1131.9 301.7L1137.2 303.9L1142.6 306L1147.9 308.2L1153.3 310.3L1158.7 312.5L1164.1 314.7L1168.8 316.5M1067 282.3L1072.4 284.2L1077.8 286.1L1083.2 288L1088.6 289.9L1094 291.9L1099.4 293.9L1104.8 295.9L1110.1 298L1115.5 300.1L1120.9 302.2L1126.3 304.3L1131.7 306.5L1137.1 308.6L1142.5 310.7L1147.9 312.9L1153.3 315L1158.7 317.1L1164.1 319.3L1168.8 321M1066.6 286.7L1072 288.7L1077.4 290.6L1082.8 292.6L1088.2 294.6L1093.6 296.7L1099.1 298.7L1104.5 300.8L1109.9 302.8L1115.3 304.9L1120.7 307L1126.1 309.1L1131.6 311.3L1137 313.4L1142.4 315.5L1147.8 317.6L1153.2 319.7L1158.7 321.8L1164.1 323.9L1168.8 325.5M1066.1 291L1071.5 293.1L1077 295.2L1082.4 297.3L1087.9 299.3L1093.3 301.4L1098.8 303.5L1104.2 305.6L1109.6 307.7L1115.1 309.8L1120.5 311.9L1126 314L1131.4 316L1136.9 318.1L1142.3 320.2L1147.8 322.3L1153.2 324.4L1158.7 326.4L1164.1 328.5L1168.8 330" fill="none" stroke="#08305C" stroke-width="1.4"/>
<polyline points="1068.9,264.5 1077.3,266.8 1085.7,269.2 1094,271.9 1102.4,274.8 1110.7,277.8 1119.1,281.1 1127.5,284.6 1135.8,288.3 1144.2,291.8 1152.5,295.3 1160.9,299 1168.8,302.4" fill="none" stroke="#08305C" stroke-width="2" opacity="0.55"/>
<polyline points="1067.7,276.3 1076.2,279 1084.6,281.8 1093.1,284.8 1101.6,287.8 1110.1,291 1118.5,294.3 1127,297.7 1135.5,301.2 1144,304.7 1152.4,308.1 1160.9,311.6 1168.8,314.7" fill="none" stroke="#08305C" stroke-width="2" opacity="0.55"/>
<polygon points="1166.5,252.6 1182.3,258.2 1182.3,332.6 1166.5,327" fill="#D3EEFB" stroke="#1B2836" stroke-width="1"/>
<polygon points="1182.3,258.2 1192.5,252.6 1192.5,327 1182.3,332.6" fill="#93A6C4" stroke="#1B2836" stroke-width="1"/>
<polygon points="1166.5,252.6 1182.3,258.2 1192.5,252.6 1176.7,247" fill="#D0F0FC" stroke="#1B2836" stroke-width="1"/>
<path d="M1166.5 258.3L1182.3 263.9L1192.5 258.3M1166.5 264L1182.3 269.6L1192.5 264M1166.5 269.8L1182.3 275.4L1192.5 269.8M1166.5 275.5L1182.3 281.1L1192.5 275.5M1166.5 281.2L1182.3 286.8L1192.5 281.2M1166.5 286.9L1182.3 292.5L1192.5 286.9M1166.5 292.7L1182.3 298.3L1192.5 292.7M1166.5 298.4L1182.3 304L1192.5 298.4M1166.5 304.1L1182.3 309.7L1192.5 304.1M1166.5 309.8L1182.3 315.4L1192.5 309.8M1166.5 315.6L1182.3 321.2L1192.5 315.6M1166.5 321.3L1182.3 326.9L1192.5 321.3" fill="none" stroke="#1B2836" stroke-width="1"/>
<polygon points="1101.6,333.9 1105,330.9 1108.5,328 1111.9,325 1115.3,322.1 1118.7,319.2 1122.2,316.5 1125.6,313.9 1129,312 1132.5,310.7 1135.9,309.7 1139.3,308.3 1142.7,306.4 1146.2,304.4 1149.6,302.1 1153,299.2 1156.5,295.5 1159.9,290.6 1163.3,284.5 1166.7,277.7 1170.2,270.3 1173.6,262.9 1176,263.9 1172.6,271.3 1169.1,278.7 1165.7,285.5 1162.3,291.6 1158.9,296.5 1155.4,300.2 1152,303.1 1148.6,305.4 1145.1,307.4 1141.7,309.3 1138.3,310.7 1134.9,311.7 1131.4,313 1128,314.9 1124.6,317.5 1121.1,320.2 1117.7,323.1 1114.3,326 1110.9,329 1107.4,331.9 1104,334.9" fill="#2A9CE6"/>
<path d="M1101.6 333.9L1104 334.9M1105 330.9L1107.4 331.9M1108.5 328L1110.9 329M1111.9 325L1114.3 326M1115.3 322.1L1117.7 323.1M1118.7 319.2L1121.1 320.2M1122.2 316.5L1124.6 317.5M1125.6 313.9L1128 314.9M1129 312L1131.4 313M1132.5 310.7L1134.9 311.7M1135.9 309.7L1138.3 310.7M1139.3 308.3L1141.7 309.3M1142.7 306.4L1145.1 307.4M1146.2 304.4L1148.6 305.4M1149.6 302.1L1152 303.1M1153 299.2L1155.4 300.2M1156.5 295.5L1158.9 296.5M1159.9 290.6L1162.3 291.6M1163.3 284.5L1165.7 285.5M1166.7 277.7L1169.1 278.7M1170.2 270.3L1172.6 271.3M1173.6 262.9L1176 263.9M1101.6 333.9L1105 330.9L1108.5 328L1111.9 325L1115.3 322.1L1118.7 319.2L1122.2 316.5L1125.6 313.9L1129 312L1132.5 310.7L1135.9 309.7L1139.3 308.3L1142.7 306.4L1146.2 304.4L1149.6 302.1L1153 299.2L1156.5 295.5L1159.9 290.6L1163.3 284.5L1166.7 277.7L1170.2 270.3L1173.6 262.9M1104 334.9L1107.4 331.9L1110.9 329L1114.3 326L1117.7 323.1L1121.1 320.2L1124.6 317.5L1128 314.9L1131.4 313L1134.9 311.7L1138.3 310.7L1141.7 309.3L1145.1 307.4L1148.6 305.4L1152 303.1L1155.4 300.2L1158.9 296.5L1162.3 291.6L1165.7 285.5L1169.1 278.7L1172.6 271.3L1176 263.9" fill="none" stroke="#06233F" stroke-width="1"/>
<polygon points="1104,334.9 1107.4,331.9 1110.9,329 1114.3,326 1117.7,323.1 1121.1,320.2 1124.6,317.5 1128,314.9 1131.4,313 1134.9,311.7 1138.3,310.7 1141.7,309.3 1145.1,307.4 1148.6,305.4 1152,303.1 1155.4,300.2 1158.9,296.5 1162.3,291.6 1165.7,285.5 1169.1,278.7 1172.6,271.3 1176,263.9 1176.5,329.3 1173,332.3 1169.6,335.3 1166.1,338.3 1162.7,341.3 1159.2,344.3 1155.8,347.4 1152.3,350.4 1148.9,353.4 1145.4,356.4 1142,359.4 1138.5,362.4 1135.1,365.4 1131.6,368.4 1128.2,371.3 1124.7,374.3 1121.3,377.3 1117.8,380.2 1114.4,383.1 1110.9,385.8 1107.5,388.3 1104,390" fill="#145F9C"/>
<path d="M1104 334.9L1104 390M1107.4 331.9L1107.5 388.3M1110.9 329L1110.9 385.8M1114.3 326L1114.4 383.1M1117.7 323.1L1117.8 380.2M1121.1 320.2L1121.3 377.3M1124.6 317.5L1124.7 374.3M1128 314.9L1128.2 371.3M1131.4 313L1131.6 368.4M1134.9 311.7L1135.1 365.4M1138.3 310.7L1138.5 362.4M1141.7 309.3L1142 359.4M1145.1 307.4L1145.4 356.4M1148.6 305.4L1148.9 353.4M1152 303.1L1152.3 350.4M1155.4 300.2L1155.8 347.4M1158.9 296.5L1159.2 344.3M1162.3 291.6L1162.7 341.3M1165.7 285.5L1166.1 338.3M1169.1 278.7L1169.6 335.3M1172.6 271.3L1173 332.3M1176 263.9L1176.5 329.3M1104 334.9L1107.4 331.9L1110.9 329L1114.3 326L1117.7 323.1L1121.1 320.2L1124.6 317.5L1128 314.9L1131.4 313L1134.9 311.7L1138.3 310.7L1141.7 309.3L1145.1 307.4L1148.6 305.4L1152 303.1L1155.4 300.2L1158.9 296.5L1162.3 291.6L1165.7 285.5L1169.1 278.7L1172.6 271.3L1176 263.9M1104 338.1L1107.4 335.3L1110.9 332.3L1114.3 329.4L1117.7 326.4L1121.1 323.6L1124.6 320.8L1128 318.3L1131.4 316.2L1134.9 314.8L1138.3 313.7L1141.7 312.3L1145.2 310.3L1148.6 308.2L1152 305.8L1155.4 303L1158.9 299.4L1162.3 294.5L1165.7 288.7L1169.2 282L1172.6 274.9L1176 267.7M1104 341.4L1107.4 338.6L1110.9 335.7L1114.3 332.7L1117.7 329.8L1121.2 326.9L1124.6 324.2L1128 321.6L1131.5 319.5L1134.9 318L1138.3 316.8L1141.7 315.2L1145.2 313.2L1148.6 311L1152 308.6L1155.5 305.8L1158.9 302.2L1162.3 297.4L1165.8 291.8L1169.2 285.4L1172.6 278.5L1176.1 271.6M1104 344.6L1107.4 341.9L1110.9 339L1114.3 336.1L1117.7 333.2L1121.2 330.3L1124.6 327.5L1128 324.9L1131.5 322.8L1134.9 321.2L1138.3 319.8L1141.8 318.2L1145.2 316.1L1148.6 313.9L1152.1 311.4L1155.5 308.6L1158.9 305L1162.4 300.4L1165.8 294.9L1169.2 288.7L1172.7 282.1L1176.1 275.4M1104 347.9L1107.4 345.2L1110.9 342.3L1114.3 339.4L1117.7 336.5L1121.2 333.6L1124.6 330.8L1128 328.2L1131.5 326L1134.9 324.3L1138.3 322.9L1141.8 321.1L1145.2 319L1148.6 316.7L1152.1 314.2L1155.5 311.3L1158.9 307.8L1162.4 303.3L1165.8 298L1169.2 292L1172.7 285.7L1176.1 279.3M1104 351.1L1107.4 348.5L1110.9 345.7L1114.3 342.8L1117.7 339.9L1121.2 337L1124.6 334.2L1128 331.5L1131.5 329.3L1134.9 327.5L1138.4 325.9L1141.8 324.1L1145.2 321.8L1148.7 319.5L1152.1 317L1155.5 314.1L1159 310.6L1162.4 306.2L1165.8 301.1L1169.3 295.4L1172.7 289.3L1176.1 283.1M1104 354.3L1107.4 351.8L1110.9 349L1114.3 346.1L1117.7 343.2L1121.2 340.4L1124.6 337.5L1128.1 334.8L1131.5 332.5L1134.9 330.6L1138.4 328.9L1141.8 327L1145.2 324.7L1148.7 322.3L1152.1 319.8L1155.6 316.9L1159 313.4L1162.4 309.1L1165.9 304.2L1169.3 298.7L1172.7 292.9L1176.2 287M1104 357.6L1107.4 355.2L1110.9 352.4L1114.3 349.5L1117.8 346.6L1121.2 343.7L1124.6 340.9L1128.1 338.2L1131.5 335.8L1134.9 333.8L1138.4 332L1141.8 329.9L1145.3 327.6L1148.7 325.2L1152.1 322.5L1155.6 319.6L1159 316.2L1162.5 312.1L1165.9 307.3L1169.3 302L1172.8 296.4L1176.2 290.8M1104 360.8L1107.4 358.5L1110.9 355.7L1114.3 352.9L1117.8 350L1121.2 347.1L1124.6 344.2L1128.1 341.5L1131.5 339L1135 336.9L1138.4 335L1141.8 332.9L1145.3 330.5L1148.7 328L1152.2 325.3L1155.6 322.4L1159 319L1162.5 315L1165.9 310.4L1169.4 305.3L1172.8 300L1176.2 294.7M1104 364.1L1107.4 361.8L1110.9 359.1L1114.3 356.2L1117.8 353.3L1121.2 350.4L1124.6 347.6L1128.1 344.8L1131.5 342.3L1135 340.1L1138.4 338.1L1141.9 335.8L1145.3 333.3L1148.7 330.8L1152.2 328.1L1155.6 325.2L1159.1 321.8L1162.5 317.9L1165.9 313.5L1169.4 308.7L1172.8 303.6L1176.3 298.5M1104 367.3L1107.4 365.1L1110.9 362.4L1114.3 359.6L1117.8 356.7L1121.2 353.8L1124.7 350.9L1128.1 348.1L1131.5 345.6L1135 343.3L1138.4 341.1L1141.9 338.8L1145.3 336.2L1148.8 333.6L1152.2 330.9L1155.6 328L1159.1 324.7L1162.5 320.8L1166 316.6L1169.4 312L1172.9 307.2L1176.3 302.4M1104 370.6L1107.4 368.4L1110.9 365.8L1114.3 362.9L1117.8 360L1121.2 357.1L1124.7 354.3L1128.1 351.4L1131.6 348.8L1135 346.4L1138.4 344.1L1141.9 341.7L1145.3 339.1L1148.8 336.4L1152.2 333.7L1155.7 330.7L1159.1 327.5L1162.5 323.8L1166 319.7L1169.4 315.3L1172.9 310.8L1176.3 306.2M1104 373.8L1107.4 371.7L1110.9 369.1L1114.3 366.3L1117.8 363.4L1121.2 360.5L1124.7 357.6L1128.1 354.7L1131.6 352.1L1135 349.6L1138.5 347.2L1141.9 344.7L1145.3 342L1148.8 339.3L1152.2 336.5L1155.7 333.5L1159.1 330.3L1162.6 326.7L1166 322.8L1169.5 318.7L1172.9 314.4L1176.4 310.1M1104 377L1107.4 375.1L1110.9 372.5L1114.3 369.6L1117.8 366.8L1121.2 363.8L1124.7 360.9L1128.1 358.1L1131.6 355.3L1135 352.7L1138.5 350.2L1141.9 347.6L1145.4 344.9L1148.8 342.1L1152.3 339.2L1155.7 336.3L1159.1 333.1L1162.6 329.6L1166 325.9L1169.5 322L1172.9 318L1176.4 313.9M1104 380.3L1107.4 378.4L1110.9 375.8L1114.3 373L1117.8 370.1L1121.2 367.2L1124.7 364.3L1128.1 361.4L1131.6 358.6L1135 355.9L1138.5 353.3L1141.9 350.5L1145.4 347.7L1148.8 344.9L1152.3 342L1155.7 339L1159.2 335.9L1162.6 332.6L1166.1 329L1169.5 325.3L1173 321.5L1176.4 317.8M1104 383.5L1107.4 381.7L1110.9 379.2L1114.3 376.4L1117.8 373.5L1121.2 370.6L1124.7 367.6L1128.1 364.7L1131.6 361.8L1135 359.1L1138.5 356.3L1141.9 353.5L1145.4 350.6L1148.8 347.7L1152.3 344.8L1155.7 341.8L1159.2 338.7L1162.6 335.5L1166.1 332.1L1169.5 328.7L1173 325.1L1176.4 321.6M1104 386.8L1107.5 385L1110.9 382.5L1114.4 379.7L1117.8 376.8L1121.3 373.9L1124.7 371L1128.2 368L1131.6 365.1L1135.1 362.2L1138.5 359.3L1142 356.4L1145.4 353.5L1148.9 350.5L1152.3 347.6L1155.8 344.6L1159.2 341.5L1162.7 338.4L1166.1 335.2L1169.6 332L1173 328.7L1176.5 325.5M1104 390L1107.5 388.3L1110.9 385.8L1114.4 383.1L1117.8 380.2L1121.3 377.3L1124.7 374.3L1128.2 371.3L1131.6 368.4L1135.1 365.4L1138.5 362.4L1142 359.4L1145.4 356.4L1148.9 353.4L1152.3 350.4L1155.8 347.4L1159.2 344.3L1162.7 341.3L1166.1 338.3L1169.6 335.3L1173 332.3L1176.5 329.3" fill="none" stroke="#06233F" stroke-width="1.4"/>
<polyline points="1104,370.2 1110,366 1116.1,361.1 1122.1,356 1128.1,351 1134.1,346.6 1140.2,342.6 1146.2,338.1 1152.2,333.3 1158.2,328 1164.3,321.4 1170.3,313.8 1176.3,305.8" fill="none" stroke="#06233F" stroke-width="2" opacity="0.55"/>
<polyline points="1104,379 1110,375.1 1116.1,370.2 1122.1,365.1 1128.1,360.1 1134.2,355.3 1140.2,350.7 1146.2,345.9 1152.3,340.9 1158.3,335.6 1164.3,329.6 1170.4,323 1176.4,316.2" fill="none" stroke="#06233F" stroke-width="2" opacity="0.55"/>
<polygon points="1088.6,332.8 1104.8,336.3 1106.7,399.5 1090.5,396" fill="#D3EEFB" stroke="#1B2836" stroke-width="1"/>
<polygon points="1104.8,336.3 1114,329.3 1115.9,392.5 1106.7,399.5" fill="#93A6C4" stroke="#1B2836" stroke-width="1"/>
<polygon points="1088.6,332.8 1104.8,336.3 1114,329.3 1097.8,325.8" fill="#D0F0FC" stroke="#1B2836" stroke-width="1"/>
<path d="M1088.7 337.7L1104.9 341.2L1114.1 334.2M1088.9 342.5L1105.1 346L1114.3 339M1089 347.4L1105.2 350.9L1114.4 343.9M1089.2 352.2L1105.4 355.7L1114.6 348.7M1089.3 357.1L1105.5 360.6L1114.7 353.6M1089.5 362L1105.7 365.5L1114.9 358.5M1089.6 366.8L1105.8 370.3L1115 363.3M1089.8 371.7L1106 375.2L1115.2 368.2M1089.9 376.6L1106.1 380.1L1115.3 373.1M1090.1 381.4L1106.3 384.9L1115.5 377.9M1090.2 386.3L1106.4 389.8L1115.6 382.8M1090.4 391.1L1106.6 394.6L1115.8 387.6" fill="none" stroke="#1B2836" stroke-width="1"/>
<polygon points="1065.5,369.8 1074.7,347.8 1087.4,336.3 1096.7,335.1 1096.7,379.1 1084,375.6 1065.5,374.5" fill="#145F9C"/>
<path d="M1065.5 369.8L1065.5 374.5M1067.3 364.5L1069 374.7M1069.2 359.2L1072.5 374.9M1071.2 353.9L1076.1 375.1M1073.8 348.9L1079.6 375.2M1077.5 344.7L1083.1 375.5M1081.6 340.8L1086.6 376.1M1086 337.3L1090 377M1091.1 335.1L1093.3 378M1096.7 335.1L1096.7 379.1M1065.5 369.8L1067.3 364.5L1069.2 359.2L1071.2 353.9L1073.8 348.9L1077.5 344.7L1081.6 340.8L1086 337.3L1091.1 335.1L1096.7 335.1M1065.5 370.3L1067.5 365.5L1069.5 360.7L1071.7 356L1074.4 351.6L1078.1 347.8L1082.1 344.3L1086.4 341.2L1091.3 339.4L1096.7 339.5M1065.5 370.7L1067.6 366.5L1069.8 362.3L1072.2 358.1L1075 354.2L1078.6 350.9L1082.6 347.9L1086.8 345.2L1091.5 343.7L1096.7 343.9M1065.5 371.2L1067.8 367.5L1070.2 363.9L1072.7 360.2L1075.5 356.8L1079.2 354L1083.1 351.4L1087.2 349.2L1091.8 348L1096.7 348.3M1065.5 371.7L1068 368.5L1070.5 365.4L1073.1 362.4L1076.1 359.5L1079.8 357L1083.6 354.9L1087.6 353.2L1092 352.3L1096.7 352.7M1065.5 372.1L1068.2 369.6L1070.8 367L1073.6 364.5L1076.7 362.1L1080.3 360.1L1084.1 358.4L1088 357.1L1092.2 356.6L1096.7 357.1M1065.5 372.6L1068.3 370.6L1071.2 368.6L1074.1 366.6L1077.3 364.7L1080.9 363.2L1084.6 362L1088.4 361.1L1092.4 360.8L1096.7 361.5M1065.5 373.1L1068.5 371.6L1071.5 370.1L1074.6 368.7L1077.9 367.3L1081.4 366.3L1085.1 365.5L1088.8 365.1L1092.7 365.1L1096.7 365.9M1065.5 373.6L1068.7 372.6L1071.9 371.7L1075.1 370.8L1078.4 370L1082 369.3L1085.6 369L1089.2 369L1092.9 369.4L1096.7 370.3M1065.5 374L1068.8 373.7L1072.2 373.3L1075.6 372.9L1079 372.6L1082.5 372.4L1086.1 372.5L1089.6 373L1093.1 373.7L1096.7 374.7M1065.5 374.5L1069 374.7L1072.5 374.9L1076.1 375.1L1079.6 375.2L1083.1 375.5L1086.6 376.1L1090 377L1093.3 378L1096.7 379.1" fill="none" stroke="#06233F" stroke-width="1"/>
<polygon points="1063.1,376.8 1078.2,381.4 1077.1,453.1 1062,448.5" fill="#D3EEFB" stroke="#1B2836" stroke-width="1"/>
<polygon points="1078.2,381.4 1084,376.8 1082.9,448.5 1077.1,453.1" fill="#D3EEFB" stroke="#1B2836" stroke-width="1"/>
<polygon points="1063.1,376.8 1078.2,381.4 1084,376.8 1068.9,372.2" fill="#D0F0FC" stroke="#1B2836" stroke-width="1"/>
<path d="M1063 382.3L1078.1 386.9L1083.9 382.3M1062.9 387.8L1078 392.4L1083.8 387.8M1062.8 393.3L1077.9 397.9L1083.7 393.3M1062.8 398.9L1077.9 403.5L1083.7 398.9M1062.7 404.4L1077.8 409L1083.6 404.4M1062.6 409.9L1077.7 414.5L1083.5 409.9M1062.5 415.4L1077.6 420L1083.4 415.4M1062.4 420.9L1077.5 425.5L1083.3 420.9M1062.3 426.4L1077.4 431L1083.2 426.4M1062.3 432L1077.4 436.6L1083.2 432M1062.2 437.5L1077.3 442.1L1083.1 437.5M1062.1 443L1077.2 447.6L1083 443" fill="none" stroke="#1B2836" stroke-width="1"/>
<polygon points="1080.6,381.5 1085.4,381.8 1090.2,382 1095,382.3 1099.8,382.6 1104.6,382.8 1109.3,383 1114.1,383.2 1118.9,383.5 1123.7,383.8 1128.5,384.2 1133.3,384.5 1138.1,385 1142.9,385.5 1147.7,386.3 1152.5,387.3 1157.2,388.5 1162,389.8 1166.8,391.1 1171.6,392.4 1176.4,393.9 1181.2,395.4 1178.8,397.2 1174,395.7 1169.2,394.2 1164.4,392.9 1159.6,391.6 1154.8,390.3 1150.1,389.1 1145.3,388.1 1140.5,387.3 1135.7,386.8 1130.9,386.3 1126.1,386 1121.3,385.6 1116.5,385.3 1111.7,385 1106.9,384.8 1102.2,384.6 1097.4,384.4 1092.6,384.1 1087.8,383.8 1083,383.6 1078.2,383.3" fill="#2A9CE6"/>
<path d="M1080.6 381.5L1078.2 383.3M1085.4 381.8L1083 383.6M1090.2 382L1087.8 383.8M1095 382.3L1092.6 384.1M1099.8 382.6L1097.4 384.4M1104.6 382.8L1102.2 384.6M1109.3 383L1106.9 384.8M1114.1 383.2L1111.7 385M1118.9 383.5L1116.5 385.3M1123.7 383.8L1121.3 385.6M1128.5 384.2L1126.1 386M1133.3 384.5L1130.9 386.3M1138.1 385L1135.7 386.8M1142.9 385.5L1140.5 387.3M1147.7 386.3L1145.3 388.1M1152.5 387.3L1150.1 389.1M1157.2 388.5L1154.8 390.3M1162 389.8L1159.6 391.6M1166.8 391.1L1164.4 392.9M1171.6 392.4L1169.2 394.2M1176.4 393.9L1174 395.7M1181.2 395.4L1178.8 397.2M1080.6 381.5L1085.4 381.8L1090.2 382L1095 382.3L1099.8 382.6L1104.6 382.8L1109.3 383L1114.1 383.2L1118.9 383.5L1123.7 383.8L1128.5 384.2L1133.3 384.5L1138.1 385L1142.9 385.5L1147.7 386.3L1152.5 387.3L1157.2 388.5L1162 389.8L1166.8 391.1L1171.6 392.4L1176.4 393.9L1181.2 395.4M1078.2 383.3L1083 383.6L1087.8 383.8L1092.6 384.1L1097.4 384.4L1102.2 384.6L1106.9 384.8L1111.7 385L1116.5 385.3L1121.3 385.6L1126.1 386L1130.9 386.3L1135.7 386.8L1140.5 387.3L1145.3 388.1L1150.1 389.1L1154.8 390.3L1159.6 391.6L1164.4 392.9L1169.2 394.2L1174 395.7L1178.8 397.2" fill="none" stroke="#08305C" stroke-width="1"/>
<polygon points="1078.2,383.3 1083,383.6 1087.8,383.8 1092.6,384.1 1097.4,384.4 1102.2,384.6 1106.9,384.8 1111.7,385 1116.5,385.3 1121.3,385.6 1126.1,386 1130.9,386.3 1135.7,386.8 1140.5,387.3 1145.3,388.1 1150.1,389.1 1154.8,390.3 1159.6,391.6 1164.4,392.9 1169.2,394.2 1174,395.7 1178.8,397.2 1160.3,475.1 1156.3,474 1152.4,472.9 1148.4,471.8 1144.4,470.7 1140.5,469.6 1136.5,468.5 1132.5,467.4 1128.6,466.3 1124.6,465.2 1120.6,464.1 1116.7,463 1112.7,461.9 1108.7,460.8 1104.8,459.7 1100.8,458.6 1096.8,457.5 1092.9,456.4 1088.9,455.3 1084.9,454.2 1081,453.1 1077,452" fill="#1F93E0"/>
<path d="M1078.2 383.3L1077 452M1083 383.6L1081 453.1M1087.8 383.8L1084.9 454.2M1092.6 384.1L1088.9 455.3M1097.4 384.4L1092.9 456.4M1102.2 384.6L1096.8 457.5M1106.9 384.8L1100.8 458.6M1111.7 385L1104.8 459.7M1116.5 385.3L1108.7 460.8M1121.3 385.6L1112.7 461.9M1126.1 386L1116.7 463M1130.9 386.3L1120.6 464.1M1135.7 386.8L1124.6 465.2M1140.5 387.3L1128.6 466.3M1145.3 388.1L1132.5 467.4M1150.1 389.1L1136.5 468.5M1154.8 390.3L1140.5 469.6M1159.6 391.6L1144.4 470.7M1164.4 392.9L1148.4 471.8M1169.2 394.2L1152.4 472.9M1174 395.7L1156.3 474M1178.8 397.2L1160.3 475.1M1078.2 383.3L1083 383.6L1087.8 383.8L1092.6 384.1L1097.4 384.4L1102.2 384.6L1106.9 384.8L1111.7 385L1116.5 385.3L1121.3 385.6L1126.1 386L1130.9 386.3L1135.7 386.8L1140.5 387.3L1145.3 388.1L1150.1 389.1L1154.8 390.3L1159.6 391.6L1164.4 392.9L1169.2 394.2L1174 395.7L1178.8 397.2M1078.1 387.3L1082.9 387.7L1087.6 388L1092.4 388.3L1097.1 388.6L1101.8 388.9L1106.6 389.2L1111.3 389.4L1116.1 389.7L1120.8 390.1L1125.5 390.5L1130.3 390.9L1135 391.4L1139.8 392L1144.5 392.8L1149.3 393.8L1154 395L1158.7 396.2L1163.5 397.6L1168.2 398.9L1173 400.3L1177.7 401.8M1078.1 391.4L1082.8 391.8L1087.4 392.1L1092.1 392.5L1096.8 392.8L1101.5 393.2L1106.2 393.5L1110.9 393.8L1115.6 394.2L1120.3 394.6L1125 395L1129.7 395.5L1134.4 396L1139.1 396.6L1143.8 397.5L1148.5 398.5L1153.2 399.6L1157.8 400.9L1162.5 402.2L1167.2 403.5L1171.9 404.9L1176.6 406.4M1078 395.4L1082.6 395.8L1087.3 396.3L1091.9 396.7L1096.6 397.1L1101.2 397.5L1105.9 397.8L1110.5 398.2L1115.1 398.6L1119.8 399.1L1124.4 399.6L1129.1 400.1L1133.7 400.6L1138.4 401.3L1143 402.1L1147.7 403.2L1152.3 404.3L1157 405.6L1161.6 406.8L1166.2 408.1L1170.9 409.5L1175.5 410.9M1077.9 399.5L1082.5 399.9L1087.1 400.4L1091.7 400.9L1096.3 401.3L1100.9 401.8L1105.5 402.2L1110.1 402.6L1114.7 403.1L1119.3 403.6L1123.9 404.1L1128.5 404.6L1133.1 405.2L1137.7 405.9L1142.3 406.8L1146.9 407.8L1151.5 409L1156.1 410.2L1160.7 411.5L1165.3 412.7L1169.9 414.1L1174.4 415.5M1077.8 403.5L1082.4 404L1086.9 404.5L1091.5 405.1L1096 405.6L1100.6 406L1105.1 406.5L1109.7 407L1114.2 407.5L1118.8 408.1L1123.3 408.6L1127.9 409.2L1132.4 409.8L1137 410.6L1141.5 411.4L1146.1 412.5L1150.6 413.6L1155.2 414.9L1159.7 416.1L1164.3 417.4L1168.8 418.7L1173.4 420.1M1077.8 407.5L1082.3 408.1L1086.8 408.7L1091.3 409.2L1095.8 409.8L1100.3 410.3L1104.8 410.9L1109.3 411.4L1113.8 411.9L1118.3 412.5L1122.8 413.2L1127.3 413.8L1131.8 414.4L1136.3 415.2L1140.8 416.1L1145.3 417.2L1149.8 418.3L1154.3 419.5L1158.8 420.8L1163.3 422L1167.8 423.3L1172.3 424.7M1077.7 411.6L1082.2 412.2L1086.6 412.8L1091.1 413.4L1095.5 414L1100 414.6L1104.4 415.2L1108.9 415.8L1113.3 416.4L1117.8 417L1122.2 417.7L1126.7 418.4L1131.1 419.1L1135.6 419.9L1140 420.8L1144.5 421.8L1148.9 423L1153.4 424.2L1157.8 425.4L1162.3 426.6L1166.7 427.9L1171.2 429.3M1077.6 415.6L1082 416.3L1086.4 417L1090.8 417.6L1095.2 418.3L1099.6 418.9L1104.1 419.5L1108.5 420.2L1112.9 420.8L1117.3 421.5L1121.7 422.2L1126.1 422.9L1130.5 423.7L1134.9 424.5L1139.3 425.4L1143.7 426.5L1148.1 427.6L1152.5 428.8L1156.9 430L1161.3 431.3L1165.7 432.5L1170.1 433.9M1077.6 419.7L1081.9 420.4L1086.3 421.1L1090.6 421.8L1095 422.5L1099.3 423.2L1103.7 423.9L1108 424.6L1112.4 425.3L1116.8 426L1121.1 426.8L1125.5 427.5L1129.8 428.3L1134.2 429.1L1138.5 430.1L1142.9 431.2L1147.2 432.3L1151.6 433.5L1155.9 434.7L1160.3 435.9L1164.7 437.1L1169 438.4M1077.5 423.7L1081.8 424.5L1086.1 425.2L1090.4 426L1094.7 426.7L1099 427.5L1103.3 428.2L1107.6 429L1111.9 429.7L1116.2 430.5L1120.6 431.3L1124.9 432.1L1129.2 432.9L1133.5 433.8L1137.8 434.8L1142.1 435.8L1146.4 437L1150.7 438.1L1155 439.3L1159.3 440.5L1163.6 441.7L1167.9 443M1077.4 427.8L1081.7 428.6L1085.9 429.4L1090.2 430.2L1094.5 431L1098.7 431.8L1103 432.6L1107.2 433.4L1111.5 434.2L1115.7 435L1120 435.8L1124.3 436.7L1128.5 437.5L1132.8 438.4L1137 439.4L1141.3 440.5L1145.5 441.6L1149.8 442.8L1154.1 444L1158.3 445.1L1162.6 446.4L1166.8 447.6M1077.4 431.8L1081.6 432.7L1085.8 433.5L1090 434.4L1094.2 435.2L1098.4 436.1L1102.6 436.9L1106.8 437.7L1111 438.6L1115.2 439.5L1119.4 440.3L1123.7 441.2L1127.9 442.1L1132.1 443.1L1136.3 444.1L1140.5 445.2L1144.7 446.3L1148.9 447.4L1153.1 448.6L1157.3 449.8L1161.5 451L1165.7 452.2M1077.3 435.8L1081.4 436.7L1085.6 437.6L1089.8 438.6L1093.9 439.5L1098.1 440.3L1102.2 441.2L1106.4 442.1L1110.6 443L1114.7 444L1118.9 444.9L1123 445.8L1127.2 446.7L1131.4 447.7L1135.5 448.7L1139.7 449.8L1143.9 450.9L1148 452.1L1152.2 453.2L1156.3 454.4L1160.5 455.6L1164.7 456.8M1077.2 439.9L1081.3 440.8L1085.4 441.8L1089.5 442.7L1093.7 443.7L1097.8 444.6L1101.9 445.6L1106 446.5L1110.1 447.5L1114.2 448.4L1118.3 449.4L1122.4 450.4L1126.6 451.4L1130.7 452.4L1134.8 453.4L1138.9 454.5L1143 455.6L1147.1 456.7L1151.2 457.9L1155.3 459L1159.5 460.2L1163.6 461.4M1077.1 443.9L1081.2 444.9L1085.3 445.9L1089.3 446.9L1093.4 447.9L1097.5 448.9L1101.5 449.9L1105.6 450.9L1109.6 451.9L1113.7 452.9L1117.8 453.9L1121.8 455L1125.9 456L1130 457L1134 458.1L1138.1 459.2L1142.2 460.3L1146.2 461.4L1150.3 462.5L1154.3 463.6L1158.4 464.8L1162.5 465.9M1077.1 448L1081.1 449L1085.1 450.1L1089.1 451.1L1093.1 452.2L1097.1 453.2L1101.2 454.3L1105.2 455.3L1109.2 456.4L1113.2 457.4L1117.2 458.5L1121.2 459.5L1125.3 460.6L1129.3 461.7L1133.3 462.7L1137.3 463.8L1141.3 464.9L1145.3 466L1149.3 467.2L1153.4 468.3L1157.4 469.4L1161.4 470.5M1077 452L1081 453.1L1084.9 454.2L1088.9 455.3L1092.9 456.4L1096.8 457.5L1100.8 458.6L1104.8 459.7L1108.7 460.8L1112.7 461.9L1116.7 463L1120.6 464.1L1124.6 465.2L1128.6 466.3L1132.5 467.4L1136.5 468.5L1140.5 469.6L1144.4 470.7L1148.4 471.8L1152.4 472.9L1156.3 474L1160.3 475.1" fill="none" stroke="#08305C" stroke-width="1.4"/>
<polyline points="1077.4,427.3 1084.9,428.7 1092.4,430.1 1099.8,431.5 1107.3,432.8 1114.7,434.2 1122.2,435.7 1129.7,437.2 1137.1,438.9 1144.6,440.8 1152,442.8 1159.5,444.9 1167,447.1" fill="none" stroke="#08305C" stroke-width="2" opacity="0.55"/>
<polyline points="1077.2,438.3 1084.5,439.9 1091.7,441.5 1098.9,443.2 1106.2,444.8 1113.4,446.4 1120.6,448.1 1127.8,449.8 1135.1,451.5 1142.3,453.5 1149.5,455.5 1156.8,457.5 1164,459.5" fill="none" stroke="#08305C" stroke-width="2" opacity="0.55"/>
<polygon points="1173,396.4 1172,402.6 1170.9,408.8 1169.9,415.1 1168.8,421.3 1167.8,427.5 1166.8,433.7 1165.8,440 1164.9,446.2 1163.9,452.4 1163,458.7 1162.1,464.9 1161.2,471.2 1160.3,477.4 1171.9,482 1172.6,475.6 1173.3,469.2 1174,462.7 1174.7,456.3 1175.4,449.9 1176.1,443.5 1176.9,437.1 1177.8,430.7 1178.7,424.3 1179.6,417.9 1180.5,411.5 1181.4,405.1 1182.3,398.7" fill="#D3EEFB"/>
<path d="M1173 396.4L1182.3 398.7M1172 402.6L1181.4 405.1M1170.9 408.8L1180.5 411.5M1169.9 415.1L1179.6 417.9M1168.8 421.3L1178.7 424.3M1167.8 427.5L1177.8 430.7M1166.8 433.7L1176.9 437.1M1165.8 440L1176.1 443.5M1164.9 446.2L1175.4 449.9M1163.9 452.4L1174.7 456.3M1163 458.7L1174 462.7M1162.1 464.9L1173.3 469.2M1161.2 471.2L1172.6 475.6M1160.3 477.4L1171.9 482M1173 396.4L1172 402.6L1170.9 408.8L1169.9 415.1L1168.8 421.3L1167.8 427.5L1166.8 433.7L1165.8 440L1164.9 446.2L1163.9 452.4L1163 458.7L1162.1 464.9L1161.2 471.2L1160.3 477.4M1182.3 398.7L1181.4 405.1L1180.5 411.5L1179.6 417.9L1178.7 424.3L1177.8 430.7L1176.9 437.1L1176.1 443.5L1175.4 449.9L1174.7 456.3L1174 462.7L1173.3 469.2L1172.6 475.6L1171.9 482" fill="none" stroke="#1B2836" stroke-width="1"/>
<polygon points="1173,395.3 1178.8,391.8 1188.1,394.1 1182.3,398.7" fill="#D0F0FC" stroke="#1B2836" stroke-width="0.8"/>
<polygon points="1185.9,398.8 1190.7,399.9 1195.5,401 1200.2,402.2 1205,403.7 1209.8,405.8 1214.6,408.3 1219.4,411.1 1224.1,414.3 1228.9,417.6 1233.7,420.6 1238.5,423.1 1243.3,425.3 1248,427.4 1252.8,429.3 1257.6,431.2 1255.2,433 1250.4,431.1 1245.6,429.2 1240.9,427.1 1236.1,424.9 1231.3,422.4 1226.5,419.4 1221.7,416.1 1217,412.9 1212.2,410.1 1207.4,407.6 1202.6,405.5 1197.8,404 1193.1,402.8 1188.3,401.7 1183.5,400.6" fill="#2A9CE6"/>
<path d="M1185.9 398.8L1183.5 400.6M1190.7 399.9L1188.3 401.7M1195.5 401L1193.1 402.8M1200.2 402.2L1197.8 404M1205 403.7L1202.6 405.5M1209.8 405.8L1207.4 407.6M1214.6 408.3L1212.2 410.1M1219.4 411.1L1217 412.9M1224.1 414.3L1221.7 416.1M1228.9 417.6L1226.5 419.4M1233.7 420.6L1231.3 422.4M1238.5 423.1L1236.1 424.9M1243.3 425.3L1240.9 427.1M1248 427.4L1245.6 429.2M1252.8 429.3L1250.4 431.1M1257.6 431.2L1255.2 433M1185.9 398.8L1190.7 399.9L1195.5 401L1200.2 402.2L1205 403.7L1209.8 405.8L1214.6 408.3L1219.4 411.1L1224.1 414.3L1228.9 417.6L1233.7 420.6L1238.5 423.1L1243.3 425.3L1248 427.4L1252.8 429.3L1257.6 431.2M1183.5 400.6L1188.3 401.7L1193.1 402.8L1197.8 404L1202.6 405.5L1207.4 407.6L1212.2 410.1L1217 412.9L1221.7 416.1L1226.5 419.4L1231.3 422.4L1236.1 424.9L1240.9 427.1L1245.6 429.2L1250.4 431.1L1255.2 433" fill="none" stroke="#08305C" stroke-width="1"/>
<polygon points="1183.5,400.6 1188.3,401.7 1193.1,402.8 1197.8,404 1202.6,405.5 1207.4,407.6 1212.2,410.1 1217,412.9 1221.7,416.1 1226.5,419.4 1231.3,422.4 1236.1,424.9 1240.9,427.1 1245.6,429.2 1250.4,431.1 1255.2,433 1254,505.2 1248.5,503.7 1243.1,502.1 1237.6,500.6 1232.1,499 1226.6,497.5 1221.2,495.9 1215.7,494.4 1210.2,492.8 1204.7,491.3 1199.3,489.7 1193.8,488.2 1188.3,486.6 1182.8,485.1 1177.4,483.5 1171.9,482" fill="#1F93E0"/>
<path d="M1183.5 400.6L1171.9 482M1188.3 401.7L1177.4 483.5M1193.1 402.8L1182.8 485.1M1197.8 404L1188.3 486.6M1202.6 405.5L1193.8 488.2M1207.4 407.6L1199.3 489.7M1212.2 410.1L1204.7 491.3M1217 412.9L1210.2 492.8M1221.7 416.1L1215.7 494.4M1226.5 419.4L1221.2 495.9M1231.3 422.4L1226.6 497.5M1236.1 424.9L1232.1 499M1240.9 427.1L1237.6 500.6M1245.6 429.2L1243.1 502.1M1250.4 431.1L1248.5 503.7M1255.2 433L1254 505.2M1183.5 400.6L1188.3 401.7L1193.1 402.8L1197.8 404L1202.6 405.5L1207.4 407.6L1212.2 410.1L1217 412.9L1221.7 416.1L1226.5 419.4L1231.3 422.4L1236.1 424.9L1240.9 427.1L1245.6 429.2L1250.4 431.1L1255.2 433M1182.8 405.4L1187.6 406.5L1192.5 407.6L1197.3 408.9L1202.1 410.4L1206.9 412.4L1211.7 414.9L1216.6 417.6L1221.4 420.7L1226.2 423.9L1231 426.8L1235.8 429.3L1240.7 431.4L1245.5 433.4L1250.3 435.4L1255.1 437.2M1182.1 410.2L1187 411.3L1191.9 412.5L1196.7 413.7L1201.6 415.3L1206.4 417.2L1211.3 419.7L1216.2 422.3L1221 425.3L1225.9 428.4L1230.8 431.2L1235.6 433.6L1240.5 435.7L1245.3 437.7L1250.2 439.6L1255.1 441.5M1181.5 415L1186.4 416.1L1191.3 417.3L1196.2 418.6L1201.1 420.1L1206 422.1L1210.9 424.4L1215.8 427L1220.7 429.9L1225.6 432.9L1230.5 435.7L1235.4 438L1240.3 440.1L1245.2 442L1250.1 443.9L1255 445.7M1180.8 419.8L1185.7 421L1190.7 422.2L1195.6 423.5L1200.5 425L1205.5 426.9L1210.4 429.2L1215.4 431.7L1220.3 434.5L1225.3 437.4L1230.2 440.1L1235.1 442.3L1240.1 444.4L1245 446.3L1250 448.2L1254.9 450M1180.1 424.5L1185.1 425.8L1190.1 427L1195 428.3L1200 429.8L1205 431.7L1210 434L1215 436.4L1220 439.1L1224.9 441.9L1229.9 444.5L1234.9 446.7L1239.9 448.7L1244.9 450.6L1249.9 452.4L1254.8 454.2M1179.4 429.3L1184.4 430.6L1189.5 431.8L1194.5 433.2L1199.5 434.7L1204.5 436.6L1209.6 438.8L1214.6 441.1L1219.6 443.7L1224.6 446.4L1229.7 448.9L1234.7 451.1L1239.7 453L1244.7 454.9L1249.8 456.7L1254.8 458.5M1178.7 434.1L1183.8 435.4L1188.9 436.7L1193.9 438L1199 439.6L1204.1 441.4L1209.1 443.5L1214.2 445.8L1219.2 448.3L1224.3 450.9L1229.4 453.3L1234.4 455.4L1239.5 457.3L1244.6 459.2L1249.6 461L1254.7 462.7M1178 438.9L1183.1 440.2L1188.3 441.5L1193.4 442.9L1198.5 444.4L1203.6 446.2L1208.7 448.3L1213.8 450.5L1218.9 452.9L1224 455.4L1229.1 457.7L1234.2 459.8L1239.3 461.7L1244.4 463.5L1249.5 465.2L1254.6 467M1177.4 443.7L1182.5 445L1187.7 446.4L1192.8 447.8L1197.9 449.3L1203.1 451.1L1208.2 453.1L1213.4 455.2L1218.5 457.5L1223.7 459.9L1228.8 462.1L1234 464.1L1239.1 466L1244.3 467.8L1249.4 469.5L1254.6 471.2M1176.7 448.5L1181.9 449.8L1187.1 451.2L1192.2 452.6L1197.4 454.2L1202.6 455.9L1207.8 457.9L1213 459.9L1218.2 462.1L1223.4 464.4L1228.6 466.6L1233.7 468.5L1238.9 470.3L1244.1 472.1L1249.3 473.8L1254.5 475.5M1176 453.3L1181.2 454.7L1186.5 456L1191.7 457.5L1196.9 459L1202.1 460.7L1207.4 462.6L1212.6 464.6L1217.8 466.8L1223.1 468.9L1228.3 471L1233.5 472.9L1238.7 474.6L1244 476.4L1249.2 478L1254.4 479.7M1175.3 458.1L1180.6 459.5L1185.9 460.9L1191.1 462.3L1196.4 463.9L1201.7 465.6L1206.9 467.4L1212.2 469.3L1217.5 471.4L1222.7 473.4L1228 475.4L1233.3 477.2L1238.5 479L1243.8 480.6L1249.1 482.3L1254.4 484M1174.6 462.8L1179.9 464.3L1185.2 465.7L1190.6 467.2L1195.9 468.7L1201.2 470.4L1206.5 472.2L1211.8 474L1217.1 476L1222.4 477.9L1227.7 479.8L1233 481.6L1238.4 483.3L1243.7 484.9L1249 486.6L1254.3 488.2M1173.9 467.6L1179.3 469.1L1184.6 470.6L1190 472.1L1195.4 473.6L1200.7 475.2L1206.1 477L1211.4 478.7L1216.8 480.6L1222.1 482.4L1227.5 484.2L1232.8 485.9L1238.2 487.6L1243.5 489.2L1248.9 490.8L1254.2 492.5M1173.3 472.4L1178.7 473.9L1184 475.4L1189.4 476.9L1194.8 478.5L1200.2 480.1L1205.6 481.7L1211 483.4L1216.4 485.2L1221.8 486.9L1227.2 488.6L1232.6 490.3L1238 491.9L1243.4 493.5L1248.7 495.1L1254.1 496.7M1172.6 477.2L1178 478.7L1183.4 480.3L1188.9 481.8L1194.3 483.3L1199.7 484.9L1205.2 486.5L1210.6 488.1L1216 489.8L1221.5 491.4L1226.9 493.1L1232.3 494.7L1237.8 496.2L1243.2 497.8L1248.6 499.4L1254.1 501M1171.9 482L1177.4 483.5L1182.8 485.1L1188.3 486.6L1193.8 488.2L1199.3 489.7L1204.7 491.3L1210.2 492.8L1215.7 494.4L1221.2 495.9L1226.6 497.5L1232.1 499L1237.6 500.6L1243.1 502.1L1248.5 503.7L1254 505.2" fill="none" stroke="#08305C" stroke-width="1.4"/>
<polyline points="1176.1,452.7 1182.6,454.4 1189.1,456.2 1195.7,458 1202.2,460.2 1208.7,462.5 1215.3,465.1 1221.8,467.8 1228.3,470.4 1234.8,472.8 1241.4,475 1247.9,477.1 1254.4,479.2" fill="none" stroke="#08305C" stroke-width="2" opacity="0.55"/>
<polyline points="1174.2,465.7 1180.9,467.5 1187.6,469.4 1194.2,471.3 1200.9,473.3 1207.6,475.5 1214.2,477.8 1220.9,480.2 1227.6,482.5 1234.2,484.6 1240.9,486.7 1247.6,488.7 1254.2,490.8" fill="none" stroke="#08305C" stroke-width="2" opacity="0.55"/>
<polygon points="1254,433.5 1267.9,438.1 1266.8,512.1 1252.9,507.5" fill="#D3EEFB" stroke="#1B2836" stroke-width="1"/>
<polygon points="1267.9,438.1 1273.7,432.3 1272.6,506.3 1266.8,512.1" fill="#93A6C4" stroke="#1B2836" stroke-width="1"/>
<polygon points="1254,433.5 1267.9,438.1 1273.7,432.3 1259.8,427.7" fill="#D0F0FC" stroke="#1B2836" stroke-width="1"/>
<path d="M1253.9 439.2L1267.8 443.8L1273.6 438M1253.8 444.9L1267.7 449.5L1273.5 443.7M1253.7 450.6L1267.6 455.2L1273.4 449.4M1253.7 456.3L1267.6 460.9L1273.4 455.1M1253.6 462L1267.5 466.6L1273.3 460.8M1253.5 467.7L1267.4 472.3L1273.2 466.5M1253.4 473.3L1267.3 477.9L1273.1 472.1M1253.3 479L1267.2 483.6L1273 477.8M1253.2 484.7L1267.1 489.3L1272.9 483.5M1253.2 490.4L1267.1 495L1272.9 489.2M1253.1 496.1L1267 500.7L1272.8 494.9M1253 501.8L1266.9 506.4L1272.7 500.6" fill="none" stroke="#1B2836" stroke-width="1"/>
<polygon points="1316.5,403.4 1335,405.7 1335,479 1322,484" fill="#D3EEFB" stroke="#1B2836" stroke-width="1"/>
<polygon points="1335,405.7 1343.1,397.6 1343.1,470.9 1335,479" fill="#93A6C4" stroke="#1B2836" stroke-width="1"/>
<polygon points="1316.5,403.4 1335,405.7 1343.1,397.6 1324.6,395.3" fill="#D0F0FC" stroke="#1B2836" stroke-width="1"/>
<path d="M1316.9 409.6L1335 411.3L1343.1 403.2M1317.3 415.8L1335 417L1343.1 408.9M1317.8 422L1335 422.6L1343.1 414.5M1318.2 428.2L1335 428.3L1343.1 420.2M1318.6 434.4L1335 433.9L1343.1 425.8M1319 440.6L1335 439.5L1343.1 431.4M1319.5 446.8L1335 445.2L1343.1 437.1M1319.9 453L1335 450.8L1343.1 442.7M1320.3 459.2L1335 456.4L1343.1 448.3M1320.7 465.4L1335 462.1L1343.1 454M1321.2 471.6L1335 467.7L1343.1 459.6M1321.6 477.8L1335 473.4L1343.1 465.3" fill="none" stroke="#1B2836" stroke-width="1"/>
<polygon points="1274.3,432.9 1278.6,431.2 1282.8,429.5 1287.1,427.8 1291.4,425.9 1295.6,423.9 1299.9,421.7 1304.2,419.2 1308.5,416.6 1312.7,413.8 1317,411 1321.3,407.8 1325.5,404.3 1329.8,400.6 1328,401.9 1323.7,405.6 1319.5,409.1 1315.2,412.3 1310.9,415.1 1306.7,417.9 1302.4,420.5 1298.1,423 1293.8,425.2 1289.6,427.2 1285.3,429.1 1281,430.8 1276.8,432.5 1272.5,434.2" fill="#2A9CE6"/>
<path d="M1274.3 432.9L1272.5 434.2M1278.6 431.2L1276.8 432.5M1282.8 429.5L1281 430.8M1287.1 427.8L1285.3 429.1M1291.4 425.9L1289.6 427.2M1295.6 423.9L1293.8 425.2M1299.9 421.7L1298.1 423M1304.2 419.2L1302.4 420.5M1308.5 416.6L1306.7 417.9M1312.7 413.8L1310.9 415.1M1317 411L1315.2 412.3M1321.3 407.8L1319.5 409.1M1325.5 404.3L1323.7 405.6M1329.8 400.6L1328 401.9M1274.3 432.9L1278.6 431.2L1282.8 429.5L1287.1 427.8L1291.4 425.9L1295.6 423.9L1299.9 421.7L1304.2 419.2L1308.5 416.6L1312.7 413.8L1317 411L1321.3 407.8L1325.5 404.3L1329.8 400.6M1272.5 434.2L1276.8 432.5L1281 430.8L1285.3 429.1L1289.6 427.2L1293.8 425.2L1298.1 423L1302.4 420.5L1306.7 417.9L1310.9 415.1L1315.2 412.3L1319.5 409.1L1323.7 405.6L1328 401.9" fill="none" stroke="#082C52" stroke-width="1"/>
<polygon points="1272.5,434.2 1276.8,432.5 1281,430.8 1285.3,429.1 1289.6,427.2 1293.8,425.2 1298.1,423 1302.4,420.5 1306.7,417.9 1310.9,415.1 1315.2,412.3 1319.5,409.1 1323.7,405.6 1328,401.9 1329.2,478 1324.8,483 1320.3,487.2 1315.9,489.9 1311.4,492 1307,493.8 1302.5,495.4 1298.1,497 1293.6,498.5 1289.2,499.9 1284.7,501.3 1280.3,502.6 1275.8,503.9 1271.4,505.2" fill="#176FB0"/>
<path d="M1272.5 434.2L1271.4 505.2M1276.8 432.5L1275.8 503.9M1281 430.8L1280.3 502.6M1285.3 429.1L1284.7 501.3M1289.6 427.2L1289.2 499.9M1293.8 425.2L1293.6 498.5M1298.1 423L1298.1 497M1302.4 420.5L1302.5 495.4M1306.7 417.9L1307 493.8M1310.9 415.1L1311.4 492M1315.2 412.3L1315.9 489.9M1319.5 409.1L1320.3 487.2M1323.7 405.6L1324.8 483M1328 401.9L1329.2 478M1272.5 434.2L1276.8 432.5L1281 430.8L1285.3 429.1L1289.6 427.2L1293.8 425.2L1298.1 423L1302.4 420.5L1306.7 417.9L1310.9 415.1L1315.2 412.3L1319.5 409.1L1323.7 405.6L1328 401.9M1272.4 438.4L1276.7 436.7L1281 435L1285.3 433.3L1289.6 431.5L1293.8 429.5L1298.1 427.3L1302.4 424.9L1306.7 422.3L1311 419.7L1315.2 416.8L1319.5 413.7L1323.8 410.1L1328.1 406.4M1272.4 442.6L1276.7 440.9L1281 439.3L1285.2 437.6L1289.5 435.8L1293.8 433.8L1298.1 431.7L1302.4 429.3L1306.7 426.8L1311 424.2L1315.3 421.4L1319.6 418.3L1323.9 414.7L1328.1 410.9M1272.3 446.7L1276.6 445.1L1280.9 443.5L1285.2 441.8L1289.5 440.1L1293.8 438.1L1298.1 436L1302.4 433.7L1306.7 431.3L1311 428.7L1315.3 426L1319.6 422.9L1323.9 419.2L1328.2 415.3M1272.2 450.9L1276.6 449.3L1280.9 447.7L1285.2 446.1L1289.5 444.3L1293.8 442.5L1298.1 440.4L1302.4 438.1L1306.7 435.7L1311 433.2L1315.3 430.5L1319.7 427.5L1324 423.8L1328.3 419.8M1272.2 455.1L1276.5 453.5L1280.8 451.9L1285.1 450.3L1289.5 448.6L1293.8 446.8L1298.1 444.7L1302.4 442.5L1306.7 440.2L1311.1 437.7L1315.4 435.1L1319.7 432.1L1324 428.4L1328.4 424.3M1272.1 459.3L1276.4 457.7L1280.8 456.2L1285.1 454.6L1289.4 452.9L1293.8 451.1L1298.1 449.1L1302.4 446.9L1306.8 444.7L1311.1 442.3L1315.4 439.7L1319.8 436.7L1324.1 432.9L1328.4 428.8M1272 463.4L1276.4 461.9L1280.7 460.4L1285.1 458.8L1289.4 457.2L1293.8 455.4L1298.1 453.4L1302.4 451.3L1306.8 449.1L1311.1 446.8L1315.5 444.2L1319.8 441.2L1324.2 437.5L1328.5 433.2M1272 467.6L1276.3 466.1L1280.7 464.6L1285 463.1L1289.4 461.4L1293.7 459.7L1298.1 457.8L1302.4 455.7L1306.8 453.6L1311.2 451.3L1315.5 448.8L1319.9 445.8L1324.2 442L1328.6 437.7M1271.9 471.8L1276.3 470.3L1280.6 468.8L1285 467.3L1289.4 465.7L1293.7 464L1298.1 462.1L1302.5 460.1L1306.8 458.1L1311.2 455.8L1315.5 453.4L1319.9 450.4L1324.3 446.6L1328.6 442.2M1271.9 476L1276.2 474.5L1280.6 473.1L1285 471.6L1289.3 470L1293.7 468.3L1298.1 466.5L1302.5 464.6L1306.8 462.5L1311.2 460.3L1315.6 457.9L1320 455L1324.3 451.1L1328.7 446.7M1271.8 480.1L1276.2 478.7L1280.6 477.3L1284.9 475.8L1289.3 474.3L1293.7 472.6L1298.1 470.8L1302.5 469L1306.9 467L1311.2 464.9L1315.6 462.5L1320 459.6L1324.4 455.7L1328.8 451.1M1271.7 484.3L1276.1 482.9L1280.5 481.5L1284.9 480.1L1289.3 478.6L1293.7 476.9L1298.1 475.2L1302.5 473.4L1306.9 471.4L1311.3 469.4L1315.7 467.1L1320.1 464.2L1324.5 460.2L1328.8 455.6M1271.7 488.5L1276.1 487.1L1280.5 485.7L1284.9 484.3L1289.3 482.8L1293.7 481.2L1298.1 479.5L1302.5 477.8L1306.9 475.9L1311.3 473.9L1315.7 471.6L1320.1 468.8L1324.5 464.8L1328.9 460.1M1271.6 492.7L1276 491.3L1280.4 490L1284.8 488.6L1289.3 487.1L1293.7 485.6L1298.1 483.9L1302.5 482.2L1306.9 480.4L1311.3 478.4L1315.7 476.2L1320.2 473.4L1324.6 469.4L1329 464.6M1271.5 496.8L1276 495.5L1280.4 494.2L1284.8 492.8L1289.2 491.4L1293.7 489.9L1298.1 488.3L1302.5 486.6L1306.9 484.8L1311.4 482.9L1315.8 480.8L1320.2 478L1324.6 473.9L1329.1 469M1271.5 501L1275.9 499.7L1280.3 498.4L1284.8 497.1L1289.2 495.7L1293.6 494.2L1298.1 492.6L1302.5 491L1307 489.3L1311.4 487.5L1315.8 485.3L1320.3 482.6L1324.7 478.5L1329.1 473.5M1271.4 505.2L1275.8 503.9L1280.3 502.6L1284.7 501.3L1289.2 499.9L1293.6 498.5L1298.1 497L1302.5 495.4L1307 493.8L1311.4 492L1315.9 489.9L1320.3 487.2L1324.8 483L1329.2 478" fill="none" stroke="#082C52" stroke-width="1.4"/>
<polyline points="1271.8,479.6 1276.5,478.1 1281.3,476.5 1286,474.9 1290.8,473.2 1295.5,471.4 1300.3,469.4 1305,467.3 1309.8,465 1314.5,462.6 1319.3,459.6 1324,455.5 1328.8,450.6" fill="none" stroke="#082C52" stroke-width="2" opacity="0.55"/>
<polyline points="1271.6,491 1276.4,489.5 1281.2,488 1286,486.5 1290.7,484.9 1295.5,483.1 1300.3,481.3 1305.1,479.4 1309.8,477.3 1314.6,475 1319.4,472.1 1324.2,467.9 1329,462.8" fill="none" stroke="#082C52" stroke-width="2" opacity="0.55"/>
<path d="M915.7 447L915.7 382.5M911 392L915.7 382.5L920.4 392M915.7 447L965.2 409.3M955.5 411L965.2 409.3L961.5 418.5M915.7 447L974.6 468.2M963.8 470L974.6 468.2L967.5 460" fill="none" stroke="#222" stroke-width="1"/>
<text x="909" y="372.5" font-size="14" font-weight="normal" fill="#111" text-anchor="start">+Z</text>
<text x="968.5" y="402.5" font-size="14" font-weight="normal" fill="#111" text-anchor="start">+Y</text>
<text x="985" y="480.5" font-size="14" font-weight="normal" fill="#111" text-anchor="start">+X</text>
<path d="M925 252L940 240L958 228L968 231L966 238L950 243L940 255ZM940 255L978 266L988 269L996 266L984 261L950 243" fill="none" stroke="#C0504D" stroke-width="0.7"/>
<defs><pattern id="hh" width="4.1" height="2.1" patternUnits="userSpaceOnUse"><rect width="4.1" height="2.1" fill="#EEF09E"/><path d="M0.6 0V2.1" stroke="#8C8C30" stroke-width="1.1"/><path d="M0 0.4H4.1" stroke="#8C8C30" stroke-width="0.65"/></pattern><pattern id="hv" width="2.1" height="4.1" patternUnits="userSpaceOnUse"><rect width="2.1" height="4.1" fill="#EEF09E"/><path d="M0 0.6H2.1" stroke="#8C8C30" stroke-width="1.1"/><path d="M0.4 0V4.1" stroke="#8C8C30" stroke-width="0.65"/></pattern><pattern id="hd" width="4.2" height="4.2" patternUnits="userSpaceOnUse"><rect width="4.2" height="4.2" fill="#B9B660"/><path d="M0.5 0V4.2M2.6 0V4.2M0 0.5H4.2M0 2.6H4.2" stroke="#857E1C" stroke-width="1.2"/></pattern><pattern id="hr1" width="2.1" height="4.1" patternUnits="userSpaceOnUse" patternTransform="rotate(-23)"><rect width="2.1" height="4.1" fill="#EEF09E"/><path d="M0 0.6H2.1" stroke="#8C8C30" stroke-width="1.1"/><path d="M0.4 0V4.1" stroke="#8C8C30" stroke-width="0.65"/></pattern><pattern id="hr2" width="2.1" height="4.1" patternUnits="userSpaceOnUse" patternTransform="rotate(23)"><rect width="2.1" height="4.1" fill="#EEF09E"/><path d="M0 0.6H2.1" stroke="#8C8C30" stroke-width="1.1"/><path d="M0.4 0V4.1" stroke="#8C8C30" stroke-width="0.65"/></pattern></defs>
<rect x="321.3" y="642.4" width="85.1" height="23.6" fill="url(#hh)" stroke="#8C8C30" stroke-width="0.8"/>
<rect x="414.5" y="642.4" width="85.4" height="23.6" fill="url(#hh)" stroke="#8C8C30" stroke-width="0.8"/>
<polygon points="319.5,666 408.3,666 408.3,673 319.5,673" fill="#D5F7D0"/>
<path d="M319.7 666L323.5 666L321.6 671.6ZM323.9 666L327.7 666L325.8 671.6ZM328.2 666L332 666L330.1 671.6ZM332.4 666L336.2 666L334.3 671.6ZM336.6 666L340.4 666L338.5 671.6ZM340.9 666L344.7 666L342.8 671.6ZM345.1 666L348.9 666L347 671.6ZM349.3 666L353.1 666L351.2 671.6ZM353.5 666L357.3 666L355.4 671.6ZM357.8 666L361.6 666L359.7 671.6ZM362 666L365.8 666L363.9 671.6ZM366.2 666L370 666L368.1 671.6ZM370.5 666L374.3 666L372.4 671.6ZM374.7 666L378.5 666L376.6 671.6ZM378.9 666L382.7 666L380.8 671.6ZM383.1 666L386.9 666L385 671.6ZM387.4 666L391.2 666L389.3 671.6ZM391.6 666L395.4 666L393.5 671.6ZM395.8 666L399.6 666L397.7 671.6ZM400.1 666L403.9 666L402 671.6ZM404.3 666L408.1 666L406.2 671.6Z" fill="#22DDB8"/>
<path d="M319.5 666L319.5 673M323.7 666L323.7 673M328 666L328 673M332.2 666L332.2 673M336.4 666L336.4 673M340.6 666L340.6 673M344.9 666L344.9 673M349.1 666L349.1 673M353.3 666L353.3 673M357.6 666L357.6 673M361.8 666L361.8 673M366 666L366 673M370.2 666L370.2 673M374.5 666L374.5 673M378.7 666L378.7 673M382.9 666L382.9 673M387.2 666L387.2 673M391.4 666L391.4 673M395.6 666L395.6 673M399.8 666L399.8 673M404.1 666L404.1 673" fill="none" stroke="#5FA04A" stroke-width="0.7"/>
<polyline points="319.5,666 408.3,666" fill="none" stroke="#5FA04A" stroke-width="1"/>
<polyline points="319.5,673 408.3,673" fill="none" stroke="#3A3F7A" stroke-width="1"/>
<polygon points="412.8,666 501.8,666 501.8,673 412.8,673" fill="#D5F7D0"/>
<path d="M413 666L416.8 666L414.9 671.6ZM417.2 666L421.1 666L419.2 671.6ZM421.5 666L425.3 666L423.4 671.6ZM425.7 666L429.5 666L427.6 671.6ZM430 666L433.8 666L431.9 671.6ZM434.2 666L438 666L436.1 671.6ZM438.4 666L442.3 666L440.3 671.6ZM442.7 666L446.5 666L444.6 671.6ZM446.9 666L450.7 666L448.8 671.6ZM451.2 666L455 666L453.1 671.6ZM455.4 666L459.2 666L457.3 671.6ZM459.6 666L463.4 666L461.5 671.6ZM463.9 666L467.7 666L465.8 671.6ZM468.1 666L471.9 666L470 671.6ZM472.3 666L476.2 666L474.3 671.6ZM476.6 666L480.4 666L478.5 671.6ZM480.8 666L484.6 666L482.7 671.6ZM485.1 666L488.9 666L487 671.6ZM489.3 666L493.1 666L491.2 671.6ZM493.5 666L497.4 666L495.4 671.6ZM497.8 666L501.6 666L499.7 671.6Z" fill="#22DDB8"/>
<path d="M412.8 666L412.8 673M417 666L417 673M421.3 666L421.3 673M425.5 666L425.5 673M429.8 666L429.8 673M434 666L434 673M438.2 666L438.2 673M442.5 666L442.5 673M446.7 666L446.7 673M450.9 666L450.9 673M455.2 666L455.2 673M459.4 666L459.4 673M463.7 666L463.7 673M467.9 666L467.9 673M472.1 666L472.1 673M476.4 666L476.4 673M480.6 666L480.6 673M484.8 666L484.8 673M489.1 666L489.1 673M493.3 666L493.3 673M497.6 666L497.6 673" fill="none" stroke="#5FA04A" stroke-width="0.7"/>
<polyline points="412.8,666 501.8,666" fill="none" stroke="#5FA04A" stroke-width="1"/>
<polyline points="412.8,673 501.8,673" fill="none" stroke="#3A3F7A" stroke-width="1"/>
<rect x="285.4" y="676.8" width="23.8" height="49.2" fill="url(#hv)" stroke="#8C8C30" stroke-width="0.8"/>
<polygon points="309.2,676 309.2,731 317.2,731 317.2,676" fill="#D5F7D0"/>
<path d="M309.2 676.2L309.2 680L315.6 678.1ZM309.2 680.4L309.2 684.2L315.6 682.3ZM309.2 684.7L309.2 688.5L315.6 686.6ZM309.2 688.9L309.2 692.7L315.6 690.8ZM309.2 693.1L309.2 696.9L315.6 695ZM309.2 697.4L309.2 701.2L315.6 699.3ZM309.2 701.6L309.2 705.4L315.6 703.5ZM309.2 705.8L309.2 709.6L315.6 707.7ZM309.2 710.1L309.2 713.9L315.6 712ZM309.2 714.3L309.2 718.1L315.6 716.2ZM309.2 718.5L309.2 722.3L315.6 720.4ZM309.2 722.8L309.2 726.6L315.6 724.7ZM309.2 727L309.2 730.8L315.6 728.9Z" fill="#22DDB8"/>
<path d="M309.2 676L317.2 676M309.2 680.2L317.2 680.2M309.2 684.5L317.2 684.5M309.2 688.7L317.2 688.7M309.2 692.9L317.2 692.9M309.2 697.2L317.2 697.2M309.2 701.4L317.2 701.4M309.2 705.6L317.2 705.6M309.2 709.8L317.2 709.8M309.2 714.1L317.2 714.1M309.2 718.3L317.2 718.3M309.2 722.5L317.2 722.5M309.2 726.8L317.2 726.8" fill="none" stroke="#5FA04A" stroke-width="0.7"/>
<polyline points="309.2,676 309.2,731" fill="none" stroke="#5FA04A" stroke-width="1"/>
<polyline points="317.2,676 317.2,731" fill="none" stroke="#3A3F7A" stroke-width="1"/>
<rect x="99.8" y="702.2" width="26" height="23.4" fill="url(#hh)" stroke="#8C8C30" stroke-width="0.8"/>
<rect x="137.9" y="702.2" width="80.6" height="23.4" fill="url(#hh)" stroke="#8C8C30" stroke-width="0.8"/>
<rect x="230.6" y="702.2" width="78.3" height="23.4" fill="url(#hh)" stroke="#8C8C30" stroke-width="0.8"/>
<rect x="286.2" y="702.2" width="22.7" height="23.4" fill="url(#hd)" stroke="#8C8C30" stroke-width="0.8"/>
<polygon points="98,725.6 126.5,725.6 126.5,733 98,733" fill="#D5F7D0"/>
<path d="M98.2 725.6L101.9 725.6L100 731.5ZM102.3 725.6L105.9 725.6L104.1 731.5ZM106.3 725.6L110 725.6L108.2 731.5ZM110.4 725.6L114.1 725.6L112.2 731.5ZM114.5 725.6L118.2 725.6L116.3 731.5ZM118.6 725.6L122.2 725.6L120.4 731.5ZM122.6 725.6L126.3 725.6L124.5 731.5Z" fill="#22DDB8"/>
<path d="M98 725.6L98 733M102.1 725.6L102.1 733M106.1 725.6L106.1 733M110.2 725.6L110.2 733M114.3 725.6L114.3 733M118.4 725.6L118.4 733M122.4 725.6L122.4 733" fill="none" stroke="#5FA04A" stroke-width="0.7"/>
<polyline points="98,725.6 126.5,725.6" fill="none" stroke="#5FA04A" stroke-width="1"/>
<polyline points="98,733 126.5,733" fill="none" stroke="#3A3F7A" stroke-width="1"/>
<polygon points="136,725.6 219.5,725.6 219.5,733 136,733" fill="#D5F7D0"/>
<path d="M136.2 725.6L140 725.6L138.1 731.5ZM140.4 725.6L144.1 725.6L142.3 731.5ZM144.6 725.6L148.3 725.6L146.4 731.5ZM148.7 725.6L152.5 725.6L150.6 731.5ZM152.9 725.6L156.7 725.6L154.8 731.5ZM157.1 725.6L160.8 725.6L159 731.5ZM161.3 725.6L165 725.6L163.1 731.5ZM165.4 725.6L169.2 725.6L167.3 731.5ZM169.6 725.6L173.4 725.6L171.5 731.5ZM173.8 725.6L177.5 725.6L175.7 731.5ZM178 725.6L181.7 725.6L179.8 731.5ZM182.1 725.6L185.9 725.6L184 731.5ZM186.3 725.6L190.1 725.6L188.2 731.5ZM190.5 725.6L194.2 725.6L192.4 731.5ZM194.7 725.6L198.4 725.6L196.5 731.5ZM198.8 725.6L202.6 725.6L200.7 731.5ZM203 725.6L206.8 725.6L204.9 731.5ZM207.2 725.6L210.9 725.6L209.1 731.5ZM211.4 725.6L215.1 725.6L213.2 731.5ZM215.5 725.6L219.3 725.6L217.4 731.5Z" fill="#22DDB8"/>
<path d="M136 725.6L136 733M140.2 725.6L140.2 733M144.3 725.6L144.3 733M148.5 725.6L148.5 733M152.7 725.6L152.7 733M156.9 725.6L156.9 733M161.1 725.6L161.1 733M165.2 725.6L165.2 733M169.4 725.6L169.4 733M173.6 725.6L173.6 733M177.8 725.6L177.8 733M181.9 725.6L181.9 733M186.1 725.6L186.1 733M190.3 725.6L190.3 733M194.4 725.6L194.4 733M198.6 725.6L198.6 733M202.8 725.6L202.8 733M207 725.6L207 733M211.2 725.6L211.2 733M215.3 725.6L215.3 733" fill="none" stroke="#5FA04A" stroke-width="0.7"/>
<polyline points="136,725.6 219.5,725.6" fill="none" stroke="#5FA04A" stroke-width="1"/>
<polyline points="136,733 219.5,733" fill="none" stroke="#3A3F7A" stroke-width="1"/>
<polygon points="229,725.6 309.2,725.6 309.2,733 229,733" fill="#D5F7D0"/>
<path d="M229.2 725.6L233 725.6L231.1 731.5ZM233.4 725.6L237.2 725.6L235.3 731.5ZM237.7 725.6L241.5 725.6L239.6 731.5ZM241.9 725.6L245.7 725.6L243.8 731.5ZM246.1 725.6L249.9 725.6L248 731.5ZM250.3 725.6L254.1 725.6L252.2 731.5ZM254.5 725.6L258.3 725.6L256.4 731.5ZM258.8 725.6L262.6 725.6L260.7 731.5ZM263 725.6L266.8 725.6L264.9 731.5ZM267.2 725.6L271 725.6L269.1 731.5ZM271.4 725.6L275.2 725.6L273.3 731.5ZM275.6 725.6L279.4 725.6L277.5 731.5ZM279.9 725.6L283.7 725.6L281.8 731.5ZM284.1 725.6L287.9 725.6L286 731.5ZM288.3 725.6L292.1 725.6L290.2 731.5ZM292.5 725.6L296.3 725.6L294.4 731.5ZM296.7 725.6L300.5 725.6L298.6 731.5ZM301 725.6L304.8 725.6L302.9 731.5ZM305.2 725.6L309 725.6L307.1 731.5Z" fill="#22DDB8"/>
<path d="M229 725.6L229 733M233.2 725.6L233.2 733M237.4 725.6L237.4 733M241.7 725.6L241.7 733M245.9 725.6L245.9 733M250.1 725.6L250.1 733M254.3 725.6L254.3 733M258.5 725.6L258.5 733M262.8 725.6L262.8 733M267 725.6L267 733M271.2 725.6L271.2 733M275.4 725.6L275.4 733M279.7 725.6L279.7 733M283.9 725.6L283.9 733M288.1 725.6L288.1 733M292.3 725.6L292.3 733M296.5 725.6L296.5 733M300.8 725.6L300.8 733M305 725.6L305 733" fill="none" stroke="#5FA04A" stroke-width="0.7"/>
<polyline points="229,725.6 309.2,725.6" fill="none" stroke="#5FA04A" stroke-width="1"/>
<polyline points="229,733 309.2,733" fill="none" stroke="#3A3F7A" stroke-width="1"/>
<rect x="67.7" y="732.4" width="24" height="109.9" fill="url(#hv)" stroke="#8C8C30" stroke-width="0.8"/>
<polygon points="91.7,731.5 91.7,843.5 100.3,843.5 100.3,731.5" fill="#D5F7D0"/>
<path d="M91.7 731.7L91.7 735.4L98.6 733.6ZM91.7 735.9L91.7 739.6L98.6 737.7ZM91.7 740L91.7 743.7L98.6 741.9ZM91.7 744.2L91.7 747.9L98.6 746ZM91.7 748.3L91.7 752L98.6 750.2ZM91.7 752.4L91.7 756.2L98.6 754.3ZM91.7 756.6L91.7 760.3L98.6 758.5ZM91.7 760.7L91.7 764.5L98.6 762.6ZM91.7 764.9L91.7 768.6L98.6 766.8ZM91.7 769L91.7 772.8L98.6 770.9ZM91.7 773.2L91.7 776.9L98.6 775.1ZM91.7 777.3L91.7 781.1L98.6 779.2ZM91.7 781.5L91.7 785.2L98.6 783.4ZM91.7 785.6L91.7 789.4L98.6 787.5ZM91.7 789.8L91.7 793.5L98.6 791.6ZM91.7 793.9L91.7 797.7L98.6 795.8ZM91.7 798.1L91.7 801.8L98.6 799.9ZM91.7 802.2L91.7 806L98.6 804.1ZM91.7 806.4L91.7 810.1L98.6 808.2ZM91.7 810.5L91.7 814.3L98.6 812.4ZM91.7 814.7L91.7 818.4L98.6 816.5ZM91.7 818.8L91.7 822.6L98.6 820.7ZM91.7 823L91.7 826.7L98.6 824.8ZM91.7 827.1L91.7 830.8L98.6 829ZM91.7 831.3L91.7 835L98.6 833.1ZM91.7 835.4L91.7 839.1L98.6 837.3ZM91.7 839.6L91.7 843.3L98.6 841.4Z" fill="#22DDB8"/>
<path d="M91.7 731.5L100.3 731.5M91.7 735.6L100.3 735.6M91.7 739.8L100.3 739.8M91.7 743.9L100.3 743.9M91.7 748.1L100.3 748.1M91.7 752.2L100.3 752.2M91.7 756.4L100.3 756.4M91.7 760.5L100.3 760.5M91.7 764.7L100.3 764.7M91.7 768.8L100.3 768.8M91.7 773L100.3 773M91.7 777.1L100.3 777.1M91.7 781.3L100.3 781.3M91.7 785.4L100.3 785.4M91.7 789.6L100.3 789.6M91.7 793.7L100.3 793.7M91.7 797.9L100.3 797.9M91.7 802L100.3 802M91.7 806.2L100.3 806.2M91.7 810.3L100.3 810.3M91.7 814.5L100.3 814.5M91.7 818.6L100.3 818.6M91.7 822.8L100.3 822.8M91.7 826.9L100.3 826.9M91.7 831.1L100.3 831.1M91.7 835.2L100.3 835.2M91.7 839.4L100.3 839.4" fill="none" stroke="#5FA04A" stroke-width="0.7"/>
<polyline points="91.7,731.5 91.7,843.5" fill="none" stroke="#5FA04A" stroke-width="1"/>
<polyline points="100.3,731.5 100.3,843.5" fill="none" stroke="#3A3F7A" stroke-width="1"/>
<rect x="99.8" y="849.9" width="26" height="22.7" fill="url(#hh)" stroke="#8C8C30" stroke-width="0.8"/>
<rect x="137.9" y="849.9" width="80.6" height="22.7" fill="url(#hh)" stroke="#8C8C30" stroke-width="0.8"/>
<rect x="230.6" y="849.9" width="78.3" height="22.7" fill="url(#hh)" stroke="#8C8C30" stroke-width="0.8"/>
<polygon points="98,849.9 126.5,849.9 126.5,842.3 98,842.3" fill="#D5F7D0"/>
<path d="M98.2 849.9L101.9 849.9L100 843.8ZM102.3 849.9L105.9 849.9L104.1 843.8ZM106.3 849.9L110 849.9L108.2 843.8ZM110.4 849.9L114.1 849.9L112.2 843.8ZM114.5 849.9L118.2 849.9L116.3 843.8ZM118.6 849.9L122.2 849.9L120.4 843.8ZM122.6 849.9L126.3 849.9L124.5 843.8Z" fill="#22DDB8"/>
<path d="M98 849.9L98 842.3M102.1 849.9L102.1 842.3M106.1 849.9L106.1 842.3M110.2 849.9L110.2 842.3M114.3 849.9L114.3 842.3M118.4 849.9L118.4 842.3M122.4 849.9L122.4 842.3" fill="none" stroke="#5FA04A" stroke-width="0.7"/>
<polyline points="98,849.9 126.5,849.9" fill="none" stroke="#5FA04A" stroke-width="1"/>
<polyline points="98,842.3 126.5,842.3" fill="none" stroke="#3A3F7A" stroke-width="1"/>
<polygon points="136,849.9 219.5,849.9 219.5,842.3 136,842.3" fill="#D5F7D0"/>
<path d="M136.2 849.9L140 849.9L138.1 843.8ZM140.4 849.9L144.1 849.9L142.3 843.8ZM144.6 849.9L148.3 849.9L146.4 843.8ZM148.7 849.9L152.5 849.9L150.6 843.8ZM152.9 849.9L156.7 849.9L154.8 843.8ZM157.1 849.9L160.8 849.9L159 843.8ZM161.3 849.9L165 849.9L163.1 843.8ZM165.4 849.9L169.2 849.9L167.3 843.8ZM169.6 849.9L173.4 849.9L171.5 843.8ZM173.8 849.9L177.5 849.9L175.7 843.8ZM178 849.9L181.7 849.9L179.8 843.8ZM182.1 849.9L185.9 849.9L184 843.8ZM186.3 849.9L190.1 849.9L188.2 843.8ZM190.5 849.9L194.2 849.9L192.4 843.8ZM194.7 849.9L198.4 849.9L196.5 843.8ZM198.8 849.9L202.6 849.9L200.7 843.8ZM203 849.9L206.8 849.9L204.9 843.8ZM207.2 849.9L210.9 849.9L209.1 843.8ZM211.4 849.9L215.1 849.9L213.2 843.8ZM215.5 849.9L219.3 849.9L217.4 843.8Z" fill="#22DDB8"/>
<path d="M136 849.9L136 842.3M140.2 849.9L140.2 842.3M144.3 849.9L144.3 842.3M148.5 849.9L148.5 842.3M152.7 849.9L152.7 842.3M156.9 849.9L156.9 842.3M161.1 849.9L161.1 842.3M165.2 849.9L165.2 842.3M169.4 849.9L169.4 842.3M173.6 849.9L173.6 842.3M177.8 849.9L177.8 842.3M181.9 849.9L181.9 842.3M186.1 849.9L186.1 842.3M190.3 849.9L190.3 842.3M194.4 849.9L194.4 842.3M198.6 849.9L198.6 842.3M202.8 849.9L202.8 842.3M207 849.9L207 842.3M211.2 849.9L211.2 842.3M215.3 849.9L215.3 842.3" fill="none" stroke="#5FA04A" stroke-width="0.7"/>
<polyline points="136,849.9 219.5,849.9" fill="none" stroke="#5FA04A" stroke-width="1"/>
<polyline points="136,842.3 219.5,842.3" fill="none" stroke="#3A3F7A" stroke-width="1"/>
<polygon points="229,849.9 309.2,849.9 309.2,842.3 229,842.3" fill="#D5F7D0"/>
<path d="M229.2 849.9L233 849.9L231.1 843.8ZM233.4 849.9L237.2 849.9L235.3 843.8ZM237.7 849.9L241.5 849.9L239.6 843.8ZM241.9 849.9L245.7 849.9L243.8 843.8ZM246.1 849.9L249.9 849.9L248 843.8ZM250.3 849.9L254.1 849.9L252.2 843.8ZM254.5 849.9L258.3 849.9L256.4 843.8ZM258.8 849.9L262.6 849.9L260.7 843.8ZM263 849.9L266.8 849.9L264.9 843.8ZM267.2 849.9L271 849.9L269.1 843.8ZM271.4 849.9L275.2 849.9L273.3 843.8ZM275.6 849.9L279.4 849.9L277.5 843.8ZM279.9 849.9L283.7 849.9L281.8 843.8ZM284.1 849.9L287.9 849.9L286 843.8ZM288.3 849.9L292.1 849.9L290.2 843.8ZM292.5 849.9L296.3 849.9L294.4 843.8ZM296.7 849.9L300.5 849.9L298.6 843.8ZM301 849.9L304.8 849.9L302.9 843.8ZM305.2 849.9L309 849.9L307.1 843.8Z" fill="#22DDB8"/>
<path d="M229 849.9L229 842.3M233.2 849.9L233.2 842.3M237.4 849.9L237.4 842.3M241.7 849.9L241.7 842.3M245.9 849.9L245.9 842.3M250.1 849.9L250.1 842.3M254.3 849.9L254.3 842.3M258.5 849.9L258.5 842.3M262.8 849.9L262.8 842.3M267 849.9L267 842.3M271.2 849.9L271.2 842.3M275.4 849.9L275.4 842.3M279.7 849.9L279.7 842.3M283.9 849.9L283.9 842.3M288.1 849.9L288.1 842.3M292.3 849.9L292.3 842.3M296.5 849.9L296.5 842.3M300.8 849.9L300.8 842.3M305 849.9L305 842.3" fill="none" stroke="#5FA04A" stroke-width="0.7"/>
<polyline points="229,849.9 309.2,849.9" fill="none" stroke="#5FA04A" stroke-width="1"/>
<polyline points="229,842.3 309.2,842.3" fill="none" stroke="#3A3F7A" stroke-width="1"/>
<rect x="285.6" y="872.6" width="23.1" height="72" fill="url(#hv)" stroke="#8C8C30" stroke-width="0.8"/>
<rect x="285.6" y="850.3" width="23.1" height="22.3" fill="url(#hd)" stroke="#8C8C30" stroke-width="0.8"/>
<polygon points="308.9,846 308.9,945.6 317.3,945.6 317.3,846" fill="#D5F7D0"/>
<path d="M308.9 846.2L308.9 849.9L315.6 848.1ZM308.9 850.4L308.9 854.1L315.6 852.2ZM308.9 854.5L308.9 858.2L315.6 856.4ZM308.9 858.7L308.9 862.4L315.6 860.5ZM308.9 862.8L308.9 866.5L315.6 864.7ZM308.9 867L308.9 870.7L315.6 868.8ZM308.9 871.1L308.9 874.8L315.6 873ZM308.9 875.3L308.9 879L315.6 877.1ZM308.9 879.4L308.9 883.1L315.6 881.3ZM308.9 883.6L308.9 887.3L315.6 885.4ZM308.9 887.7L308.9 891.4L315.6 889.6ZM308.9 891.9L308.9 895.6L315.6 893.7ZM308.9 896L308.9 899.7L315.6 897.9ZM308.9 900.2L308.9 903.9L315.6 902ZM308.9 904.3L308.9 908L315.6 906.2ZM308.9 908.5L308.9 912.2L315.6 910.3ZM308.9 912.6L308.9 916.3L315.6 914.5ZM308.9 916.8L308.9 920.5L315.6 918.6ZM308.9 920.9L308.9 924.6L315.6 922.8ZM308.9 925.1L308.9 928.8L315.6 926.9ZM308.9 929.2L308.9 932.9L315.6 931.1ZM308.9 933.4L308.9 937.1L315.6 935.2ZM308.9 937.5L308.9 941.2L315.6 939.4ZM308.9 941.7L308.9 945.4L315.6 943.5Z" fill="#22DDB8"/>
<path d="M308.9 846L317.3 846M308.9 850.1L317.3 850.1M308.9 854.3L317.3 854.3M308.9 858.5L317.3 858.5M308.9 862.6L317.3 862.6M308.9 866.8L317.3 866.8M308.9 870.9L317.3 870.9M308.9 875L317.3 875M308.9 879.2L317.3 879.2M308.9 883.4L317.3 883.4M308.9 887.5L317.3 887.5M308.9 891.6L317.3 891.6M308.9 895.8L317.3 895.8M308.9 900L317.3 900M308.9 904.1L317.3 904.1M308.9 908.2L317.3 908.2M308.9 912.4L317.3 912.4M308.9 916.6L317.3 916.6M308.9 920.7L317.3 920.7M308.9 924.9L317.3 924.9M308.9 929L317.3 929M308.9 933.1L317.3 933.1M308.9 937.3L317.3 937.3M308.9 941.5L317.3 941.5" fill="none" stroke="#5FA04A" stroke-width="0.7"/>
<polyline points="308.9,846 308.9,945.6" fill="none" stroke="#5FA04A" stroke-width="1"/>
<polyline points="317.3,846 317.3,945.6" fill="none" stroke="#3A3F7A" stroke-width="1"/>
<rect x="510.3" y="676.8" width="25" height="50.6" fill="url(#hv)" stroke="#8C8C30" stroke-width="0.8"/>
<rect x="511.3" y="702.1" width="16.9" height="24" fill="url(#hd)" stroke="#8C8C30" stroke-width="0.8"/>
<polygon points="510.5,676 510.5,731 503.5,731 503.5,676" fill="#D5F7D0"/>
<path d="M510.5 676.2L510.5 680L504.9 678.1ZM510.5 680.4L510.5 684.2L504.9 682.3ZM510.5 684.7L510.5 688.5L504.9 686.6ZM510.5 688.9L510.5 692.7L504.9 690.8ZM510.5 693.1L510.5 696.9L504.9 695ZM510.5 697.4L510.5 701.2L504.9 699.3ZM510.5 701.6L510.5 705.4L504.9 703.5ZM510.5 705.8L510.5 709.6L504.9 707.7ZM510.5 710.1L510.5 713.9L504.9 712ZM510.5 714.3L510.5 718.1L504.9 716.2ZM510.5 718.5L510.5 722.3L504.9 720.4ZM510.5 722.8L510.5 726.6L504.9 724.7ZM510.5 727L510.5 730.8L504.9 728.9Z" fill="#22DDB8"/>
<path d="M510.5 676L503.5 676M510.5 680.2L503.5 680.2M510.5 684.5L503.5 684.5M510.5 688.7L503.5 688.7M510.5 692.9L503.5 692.9M510.5 697.2L503.5 697.2M510.5 701.4L503.5 701.4M510.5 705.6L503.5 705.6M510.5 709.8L503.5 709.8M510.5 714.1L503.5 714.1M510.5 718.3L503.5 718.3M510.5 722.5L503.5 722.5M510.5 726.8L503.5 726.8" fill="none" stroke="#5FA04A" stroke-width="0.7"/>
<polyline points="510.5,676 510.5,731" fill="none" stroke="#5FA04A" stroke-width="1"/>
<polyline points="503.5,676 503.5,731" fill="none" stroke="#3A3F7A" stroke-width="1"/>
<polygon points="511,727.4 529,727.4 529,732.4 511,732.4" fill="#D5F7D0"/>
<path d="M511.2 727.4L515.3 727.4L513.2 731.4ZM515.7 727.4L519.8 727.4L517.8 731.4ZM520.2 727.4L524.3 727.4L522.2 731.4ZM524.7 727.4L528.8 727.4L526.8 731.4Z" fill="#22DDB8"/>
<path d="M511 727.4L511 732.4M515.5 727.4L515.5 732.4M520 727.4L520 732.4M524.5 727.4L524.5 732.4" fill="none" stroke="#5FA04A" stroke-width="0.7"/>
<polyline points="511,727.4 529,727.4" fill="none" stroke="#5FA04A" stroke-width="1"/>
<polyline points="511,732.4 529,732.4" fill="none" stroke="#3A3F7A" stroke-width="1"/>
<rect x="536.4" y="732.4" width="23.6" height="218.1" fill="url(#hv)" stroke="#8C8C30" stroke-width="0.8"/>
<polygon points="536.4,731.5 536.4,952 528.4,952 528.4,731.5" fill="#D5F7D0"/>
<path d="M536.4 731.7L536.4 735.5L530 733.6ZM536.4 736L536.4 739.8L530 737.9ZM536.4 740.2L536.4 744L530 742.1ZM536.4 744.4L536.4 748.2L530 746.3ZM536.4 748.7L536.4 752.5L530 750.6ZM536.4 752.9L536.4 756.7L530 754.8ZM536.4 757.2L536.4 761L530 759.1ZM536.4 761.4L536.4 765.2L530 763.3ZM536.4 765.6L536.4 769.5L530 767.5ZM536.4 769.9L536.4 773.7L530 771.8ZM536.4 774.1L536.4 777.9L530 776ZM536.4 778.4L536.4 782.2L530 780.3ZM536.4 782.6L536.4 786.4L530 784.5ZM536.4 786.8L536.4 790.7L530 788.7ZM536.4 791.1L536.4 794.9L530 793ZM536.4 795.3L536.4 799.1L530 797.2ZM536.4 799.6L536.4 803.4L530 801.5ZM536.4 803.8L536.4 807.6L530 805.7ZM536.4 808L536.4 811.9L530 809.9ZM536.4 812.3L536.4 816.1L530 814.2ZM536.4 816.5L536.4 820.3L530 818.4ZM536.4 820.8L536.4 824.6L530 822.7ZM536.4 825L536.4 828.8L530 826.9ZM536.4 829.2L536.4 833.1L530 831.1ZM536.4 833.5L536.4 837.3L530 835.4ZM536.4 837.7L536.4 841.5L530 839.6ZM536.4 842L536.4 845.8L530 843.9ZM536.4 846.2L536.4 850L530 848.1ZM536.4 850.4L536.4 854.3L530 852.4ZM536.4 854.7L536.4 858.5L530 856.6ZM536.4 858.9L536.4 862.7L530 860.8ZM536.4 863.2L536.4 867L530 865.1ZM536.4 867.4L536.4 871.2L530 869.3ZM536.4 871.6L536.4 875.5L530 873.6ZM536.4 875.9L536.4 879.7L530 877.8ZM536.4 880.1L536.4 883.9L530 882ZM536.4 884.4L536.4 888.2L530 886.3ZM536.4 888.6L536.4 892.4L530 890.5ZM536.4 892.8L536.4 896.7L530 894.8ZM536.4 897.1L536.4 900.9L530 899ZM536.4 901.3L536.4 905.1L530 903.2ZM536.4 905.6L536.4 909.4L530 907.5ZM536.4 909.8L536.4 913.6L530 911.7ZM536.4 914L536.4 917.9L530 916ZM536.4 918.3L536.4 922.1L530 920.2ZM536.4 922.5L536.4 926.3L530 924.4ZM536.4 926.8L536.4 930.6L530 928.7ZM536.4 931L536.4 934.8L530 932.9ZM536.4 935.3L536.4 939.1L530 937.2ZM536.4 939.5L536.4 943.3L530 941.4ZM536.4 943.7L536.4 947.5L530 945.6ZM536.4 948L536.4 951.8L530 949.9Z" fill="#22DDB8"/>
<path d="M536.4 731.5L528.4 731.5M536.4 735.7L528.4 735.7M536.4 740L528.4 740M536.4 744.2L528.4 744.2M536.4 748.5L528.4 748.5M536.4 752.7L528.4 752.7M536.4 756.9L528.4 756.9M536.4 761.2L528.4 761.2M536.4 765.4L528.4 765.4M536.4 769.7L528.4 769.7M536.4 773.9L528.4 773.9M536.4 778.1L528.4 778.1M536.4 782.4L528.4 782.4M536.4 786.6L528.4 786.6M536.4 790.9L528.4 790.9M536.4 795.1L528.4 795.1M536.4 799.3L528.4 799.3M536.4 803.6L528.4 803.6M536.4 807.8L528.4 807.8M536.4 812.1L528.4 812.1M536.4 816.3L528.4 816.3M536.4 820.5L528.4 820.5M536.4 824.8L528.4 824.8M536.4 829L528.4 829M536.4 833.3L528.4 833.3M536.4 837.5L528.4 837.5M536.4 841.8L528.4 841.8M536.4 846L528.4 846M536.4 850.2L528.4 850.2M536.4 854.5L528.4 854.5M536.4 858.7L528.4 858.7M536.4 863L528.4 863M536.4 867.2L528.4 867.2M536.4 871.4L528.4 871.4M536.4 875.7L528.4 875.7M536.4 879.9L528.4 879.9M536.4 884.2L528.4 884.2M536.4 888.4L528.4 888.4M536.4 892.6L528.4 892.6M536.4 896.9L528.4 896.9M536.4 901.1L528.4 901.1M536.4 905.4L528.4 905.4M536.4 909.6L528.4 909.6M536.4 913.8L528.4 913.8M536.4 918.1L528.4 918.1M536.4 922.3L528.4 922.3M536.4 926.6L528.4 926.6M536.4 930.8L528.4 930.8M536.4 935L528.4 935M536.4 939.3L528.4 939.3M536.4 943.5L528.4 943.5M536.4 947.8L528.4 947.8" fill="none" stroke="#5FA04A" stroke-width="0.7"/>
<polyline points="536.4,731.5 536.4,952" fill="none" stroke="#5FA04A" stroke-width="1"/>
<polyline points="528.4,731.5 528.4,952" fill="none" stroke="#3A3F7A" stroke-width="1"/>
<rect x="285.6" y="956" width="23.1" height="16.3" fill="url(#hv)" stroke="#8C8C30" stroke-width="0.8"/>
<polygon points="309.2,955.4 309.2,973.8 317.4,973.8 317.4,955.4" fill="#D5F7D0"/>
<path d="M309.2 955.6L309.2 959.8L315.8 957.7ZM309.2 960.2L309.2 964.4L315.8 962.3ZM309.2 964.8L309.2 969L315.8 966.9ZM309.2 969.4L309.2 973.6L315.8 971.5Z" fill="#22DDB8"/>
<path d="M309.2 955.4L317.4 955.4M309.2 960L317.4 960M309.2 964.6L317.4 964.6M309.2 969.2L317.4 969.2" fill="none" stroke="#5FA04A" stroke-width="0.7"/>
<polyline points="309.2,955.4 309.2,973.8" fill="none" stroke="#5FA04A" stroke-width="1"/>
<polyline points="317.4,955.4 317.4,973.8" fill="none" stroke="#3A3F7A" stroke-width="1"/>
<rect x="511.3" y="956" width="23.8" height="16.3" fill="url(#hv)" stroke="#8C8C30" stroke-width="0.8"/>
<polygon points="511.3,955.4 511.3,973.8 503.7,973.8 503.7,955.4" fill="#D5F7D0"/>
<path d="M511.3 955.6L511.3 959.8L505.2 957.7ZM511.3 960.2L511.3 964.4L505.2 962.3ZM511.3 964.8L511.3 969L505.2 966.9ZM511.3 969.4L511.3 973.6L505.2 971.5Z" fill="#22DDB8"/>
<path d="M511.3 955.4L503.7 955.4M511.3 960L503.7 960M511.3 964.6L503.7 964.6M511.3 969.2L503.7 969.2" fill="none" stroke="#5FA04A" stroke-width="0.7"/>
<polyline points="511.3,955.4 511.3,973.8" fill="none" stroke="#5FA04A" stroke-width="1"/>
<polyline points="503.7,955.4 503.7,973.8" fill="none" stroke="#3A3F7A" stroke-width="1"/>
<polygon points="288.2,983.6 308.7,974.9 325,1010.6 303.3,1019.3" fill="url(#hr1)" stroke="#8C8C30" stroke-width="0.8"/>
<polygon points="309.4,973.8 325,1011.7 333,1008.5 317.4,970.6" fill="#D5F7D0"/>
<path d="M309.5 974L310.9 977.4L316.6 973.1ZM311 977.8L312.4 981.2L318.1 976.9ZM312.6 981.6L314 985L319.7 980.7ZM314.2 985.4L315.6 988.8L321.3 984.5ZM315.7 989.1L317.1 992.6L322.8 988.3ZM317.3 992.9L318.7 996.4L324.4 992.1ZM318.8 996.7L320.2 1000.1L325.9 995.9ZM320.4 1000.5L321.8 1003.9L327.5 999.7ZM322 1004.3L323.4 1007.7L329.1 1003.5ZM323.5 1008.1L324.9 1011.5L330.6 1007.2Z" fill="#22DDB8"/>
<path d="M309.4 973.8L317.4 970.6M311 977.6L319 974.4M312.5 981.4L320.5 978.2M314.1 985.2L322.1 982M315.6 989L323.6 985.8M317.2 992.8L325.2 989.5M318.8 996.5L326.8 993.3M320.3 1000.3L328.3 997.1M321.9 1004.1L329.9 1000.9M323.4 1007.9L331.4 1004.7" fill="none" stroke="#5FA04A" stroke-width="0.7"/>
<polyline points="309.4,973.8 325,1011.7" fill="none" stroke="#5FA04A" stroke-width="1"/>
<polyline points="317.4,970.6 333,1008.5" fill="none" stroke="#3A3F7A" stroke-width="1"/>
<polygon points="511.3,974.9 531.9,983.6 517.8,1018.2 497.2,1009.6" fill="url(#hr2)" stroke="#8C8C30" stroke-width="0.8"/>
<polygon points="511.3,974.9 496.1,1011.7 488.5,1008.5 503.7,971.7" fill="#D5F7D0"/>
<path d="M511.2 975.1L509.7 978.8L504.4 974.4ZM509.5 979.2L508 982.9L502.7 978.5ZM507.8 983.3L506.3 987L501 982.6ZM506.1 987.4L504.6 991.1L499.3 986.7ZM504.5 991.5L502.9 995.1L497.6 990.7ZM502.8 995.5L501.3 999.2L495.9 994.8ZM501.1 999.6L499.6 1003.3L494.2 998.9ZM499.4 1003.7L497.9 1007.4L492.6 1003ZM497.7 1007.8L496.2 1011.5L490.9 1007.1Z" fill="#22DDB8"/>
<path d="M511.3 974.9L503.7 971.7M509.6 979L502 975.8M507.9 983.1L500.3 979.9M506.2 987.2L498.6 984M504.5 991.3L496.9 988.1M502.9 995.3L495.3 992.1M501.2 999.4L493.6 996.2M499.5 1003.5L491.9 1000.3M497.8 1007.6L490.2 1004.4" fill="none" stroke="#5FA04A" stroke-width="0.7"/>
<polyline points="511.3,974.9 496.1,1011.7" fill="none" stroke="#5FA04A" stroke-width="1"/>
<polyline points="503.7,971.7 488.5,1008.5" fill="none" stroke="#3A3F7A" stroke-width="1"/>
<rect x="341.2" y="1018.2" width="65.7" height="22.3" fill="url(#hh)" stroke="#8C8C30" stroke-width="0.8"/>
<rect x="414.2" y="1018.2" width="66.3" height="22.3" fill="url(#hh)" stroke="#8C8C30" stroke-width="0.8"/>
<polygon points="340.2,1018.2 407.3,1018.2 407.3,1009.6 340.2,1009.6" fill="#D5F7D0"/>
<path d="M340.4 1018.2L344.2 1018.2L342.3 1011.3ZM344.6 1018.2L348.4 1018.2L346.5 1011.3ZM348.8 1018.2L352.6 1018.2L350.7 1011.3ZM353 1018.2L356.8 1018.2L354.9 1011.3ZM357.2 1018.2L361 1018.2L359.1 1011.3ZM361.4 1018.2L365.2 1018.2L363.3 1011.3ZM365.6 1018.2L369.3 1018.2L367.5 1011.3ZM369.8 1018.2L373.5 1018.2L371.7 1011.3ZM374 1018.2L377.7 1018.2L375.8 1011.3ZM378.2 1018.2L381.9 1018.2L380 1011.3ZM382.3 1018.2L386.1 1018.2L384.2 1011.3ZM386.5 1018.2L390.3 1018.2L388.4 1011.3ZM390.7 1018.2L394.5 1018.2L392.6 1011.3ZM394.9 1018.2L398.7 1018.2L396.8 1011.3ZM399.1 1018.2L402.9 1018.2L401 1011.3ZM403.3 1018.2L407.1 1018.2L405.2 1011.3Z" fill="#22DDB8"/>
<path d="M340.2 1018.2L340.2 1009.6M344.4 1018.2L344.4 1009.6M348.6 1018.2L348.6 1009.6M352.8 1018.2L352.8 1009.6M357 1018.2L357 1009.6M361.2 1018.2L361.2 1009.6M365.4 1018.2L365.4 1009.6M369.6 1018.2L369.6 1009.6M373.8 1018.2L373.8 1009.6M377.9 1018.2L377.9 1009.6M382.1 1018.2L382.1 1009.6M386.3 1018.2L386.3 1009.6M390.5 1018.2L390.5 1009.6M394.7 1018.2L394.7 1009.6M398.9 1018.2L398.9 1009.6M403.1 1018.2L403.1 1009.6" fill="none" stroke="#5FA04A" stroke-width="0.7"/>
<polyline points="340.2,1018.2 407.3,1018.2" fill="none" stroke="#5FA04A" stroke-width="1"/>
<polyline points="340.2,1009.6 407.3,1009.6" fill="none" stroke="#3A3F7A" stroke-width="1"/>
<polygon points="412.7,1018.2 481,1018.2 481,1009.6 412.7,1009.6" fill="#D5F7D0"/>
<path d="M412.9 1018.2L416.8 1018.2L414.8 1011.3ZM417.2 1018.2L421 1018.2L419.1 1011.3ZM421.5 1018.2L425.3 1018.2L423.4 1011.3ZM425.7 1018.2L429.6 1018.2L427.6 1011.3ZM430 1018.2L433.8 1018.2L431.9 1011.3ZM434.3 1018.2L438.1 1018.2L436.2 1011.3ZM438.5 1018.2L442.4 1018.2L440.4 1011.3ZM442.8 1018.2L446.6 1018.2L444.7 1011.3ZM447.1 1018.2L450.9 1018.2L449 1011.3ZM451.3 1018.2L455.2 1018.2L453.3 1011.3ZM455.6 1018.2L459.4 1018.2L457.5 1011.3ZM459.9 1018.2L463.7 1018.2L461.8 1011.3ZM464.1 1018.2L468 1018.2L466.1 1011.3ZM468.4 1018.2L472.2 1018.2L470.3 1011.3ZM472.7 1018.2L476.5 1018.2L474.6 1011.3ZM476.9 1018.2L480.8 1018.2L478.9 1011.3Z" fill="#22DDB8"/>
<path d="M412.7 1018.2L412.7 1009.6M417 1018.2L417 1009.6M421.2 1018.2L421.2 1009.6M425.5 1018.2L425.5 1009.6M429.8 1018.2L429.8 1009.6M434 1018.2L434 1009.6M438.3 1018.2L438.3 1009.6M442.6 1018.2L442.6 1009.6M446.9 1018.2L446.9 1009.6M451.1 1018.2L451.1 1009.6M455.4 1018.2L455.4 1009.6M459.7 1018.2L459.7 1009.6M463.9 1018.2L463.9 1009.6M468.2 1018.2L468.2 1009.6M472.5 1018.2L472.5 1009.6M476.7 1018.2L476.7 1009.6" fill="none" stroke="#5FA04A" stroke-width="0.7"/>
<polyline points="412.7,1018.2 481,1018.2" fill="none" stroke="#5FA04A" stroke-width="1"/>
<polyline points="412.7,1009.6 481,1009.6" fill="none" stroke="#3A3F7A" stroke-width="1"/>
<polyline points="131.3,697 131.3,733" fill="none" stroke="#7B6BEA" stroke-width="1"/>
<polygon points="131.3,733 129.6,728.3 133,728.3" fill="#7B6BEA"/>
<polyline points="131.3,878 131.3,844" fill="none" stroke="#7B6BEA" stroke-width="1"/>
<polygon points="131.3,844 133,848.7 129.6,848.7" fill="#7B6BEA"/>
<polyline points="224.8,697 224.8,733" fill="none" stroke="#7B6BEA" stroke-width="1"/>
<polygon points="224.8,733 223.1,728.3 226.5,728.3" fill="#7B6BEA"/>
<polyline points="224.8,878 224.8,844" fill="none" stroke="#7B6BEA" stroke-width="1"/>
<polygon points="224.8,844 226.5,848.7 223.1,848.7" fill="#7B6BEA"/>
<polyline points="317.5,651 317.5,672" fill="none" stroke="#7B6BEA" stroke-width="1"/>
<polygon points="317.5,672 315.8,667.3 319.2,667.3" fill="#7B6BEA"/>
<polyline points="295,673.5 316,673.5" fill="none" stroke="#7B6BEA" stroke-width="1"/>
<polygon points="316,673.5 312.2,674.9 312.2,672.1" fill="#7B6BEA"/>
<polyline points="410.4,649 410.4,673" fill="none" stroke="#7B6BEA" stroke-width="1"/>
<polygon points="410.4,673 408.7,668.3 412.1,668.3" fill="#7B6BEA"/>
<polyline points="503.2,651 503.2,672" fill="none" stroke="#7B6BEA" stroke-width="1"/>
<polygon points="503.2,672 501.5,667.3 504.9,667.3" fill="#7B6BEA"/>
<polyline points="526,673.5 505,673.5" fill="none" stroke="#7B6BEA" stroke-width="1"/>
<polygon points="505,673.5 508.8,672.1 508.8,674.9" fill="#7B6BEA"/>
<polyline points="317,727 317,735" fill="none" stroke="#7B6BEA" stroke-width="1"/>
<polygon points="317,735 315.6,731.2 318.4,731.2" fill="#7B6BEA"/>
<polyline points="318,734 309.5,734" fill="none" stroke="#7B6BEA" stroke-width="1"/>
<polygon points="309.5,734 313.3,732.6 313.3,735.4" fill="#7B6BEA"/>
<polyline points="503.5,727 503.5,735" fill="none" stroke="#7B6BEA" stroke-width="1"/>
<polygon points="503.5,735 502.1,731.2 504.9,731.2" fill="#7B6BEA"/>
<polyline points="502,734 511,734" fill="none" stroke="#7B6BEA" stroke-width="1"/>
<polygon points="511,734 507.2,735.4 507.2,732.6" fill="#7B6BEA"/>
<polyline points="308,842 318,842" fill="none" stroke="#7B6BEA" stroke-width="1"/>
<polygon points="318,842 314.2,843.4 314.2,840.6" fill="#7B6BEA"/>
<polyline points="318,851 318,843" fill="none" stroke="#7B6BEA" stroke-width="1"/>
<polygon points="318,843 319.4,846.8 316.6,846.8" fill="#7B6BEA"/>
<polyline points="280.6,950 318,950" fill="none" stroke="#7B6BEA" stroke-width="1"/>
<polygon points="318,950 313.3,951.7 313.3,948.3" fill="#7B6BEA"/>
<polyline points="537,950 503.7,950" fill="none" stroke="#7B6BEA" stroke-width="1"/>
<polygon points="503.7,950 508.4,948.3 508.4,951.7" fill="#7B6BEA"/>
<polyline points="335.8,1040 335.8,1010" fill="none" stroke="#7B6BEA" stroke-width="1"/>
<polygon points="335.8,1010 337.5,1014.7 334.1,1014.7" fill="#7B6BEA"/>
<polyline points="410.1,1033 410.1,1010" fill="none" stroke="#7B6BEA" stroke-width="1"/>
<polygon points="410.1,1010 411.8,1014.7 408.4,1014.7" fill="#7B6BEA"/>
<polyline points="484.9,1040 484.9,1010" fill="none" stroke="#7B6BEA" stroke-width="1"/>
<polygon points="484.9,1010 486.6,1014.7 483.2,1014.7" fill="#7B6BEA"/>
<path d="M123.2 842.3V804.4L131.3 796.3L139.7 804.4V842.3M123.2 833.4H168.7L177.6 842.3M131.3 836V842" fill="none" stroke="#B0504A" stroke-width="0.8"/>
<text x="131.3" y="813.5" font-size="10.5" font-weight="normal" fill="#B0504A" text-anchor="middle">Y</text>
<text x="131.3" y="830" font-size="10.5" font-weight="normal" fill="#B0504A" text-anchor="middle">G</text>
<text x="165" y="842.5" font-size="9" font-weight="normal" fill="#B0504A" text-anchor="middle">X</text>
<polygon points="610.2,819.2 686,784.5 707,780.2 707,1005.5 610.2,1048.8" fill="#F3F6FA"/>
<polygon points="610.2,819.2 633,808.7 633,1038.5 610.2,1048.8" fill="#D9E2F0"/>
<clipPath id="cp3"><polygon points="606,821 686,782 709,778 709,1006 720,1060 606,1062"/></clipPath>
<g clip-path="url(#cp3)">
<path d="M610.2 819.2L621.2 824.7M622.3 814.3L633.3 819.8M634.4 809.4L645.4 814.9M646.5 804.5L657.5 810M658.6 799.6L669.6 805.1M670.7 794.6L681.7 800.1M682.8 789.7L693.8 795.2M694.9 784.8L705.9 790.3M707 779.9L718 785.4M610.2 834.5L621.2 840M622.3 829.6L633.3 835.1M634.4 824.7L645.4 830.2M646.5 819.8L657.5 825.3M658.6 814.9L669.6 820.4M670.7 809.9L681.7 815.4M682.8 805L693.8 810.5M694.9 800.1L705.9 805.6M707 795.2L718 800.7M610.2 849.8L621.2 855.3M622.3 844.9L633.3 850.4M634.4 840L645.4 845.5M646.5 835.1L657.5 840.6M658.6 830.2L669.6 835.7M670.7 825.3L681.7 830.8M682.8 820.3L693.8 825.8M694.9 815.4L705.9 820.9M707 810.5L718 816M610.2 865.1L621.2 870.6M622.3 860.2L633.3 865.7M634.4 855.3L645.4 860.8M646.5 850.4L657.5 855.9M658.6 845.5L669.6 851M670.7 840.6L681.7 846.1M682.8 835.6L693.8 841.1M694.9 830.7L705.9 836.2M707 825.8L718 831.3M610.2 880.4L621.2 885.9M622.3 875.5L633.3 881M634.4 870.6L645.4 876.1M646.5 865.7L657.5 871.2M658.6 860.8L669.6 866.3M670.7 855.9L681.7 861.4M682.8 851L693.8 856.5M694.9 846L705.9 851.5M707 841.1L718 846.6M610.2 895.7L621.2 901.2M622.3 890.8L633.3 896.3M634.4 885.9L645.4 891.4M646.5 881L657.5 886.5M658.6 876.1L669.6 881.6M670.7 871.2L681.7 876.7M682.8 866.3L693.8 871.8M694.9 861.3L705.9 866.8M707 856.4L718 861.9M610.2 911L621.2 916.5M622.3 906.1L633.3 911.6M634.4 901.2L645.4 906.7M646.5 896.3L657.5 901.8M658.6 891.4L669.6 896.9M670.7 886.5L681.7 892M682.8 881.6L693.8 887.1M694.9 876.7L705.9 882.2M707 871.7L718 877.2M610.2 926.3L621.2 931.8M622.3 921.4L633.3 926.9M634.4 916.5L645.4 922M646.5 911.6L657.5 917.1M658.6 906.7L669.6 912.2M670.7 901.8L681.7 907.3M682.8 896.9L693.8 902.4M694.9 892L705.9 897.5M707 887L718 892.5M610.2 941.7L621.2 947.2M622.3 936.7L633.3 942.2M634.4 931.8L645.4 937.3M646.5 926.9L657.5 932.4M658.6 922L669.6 927.5M670.7 917.1L681.7 922.6M682.8 912.2L693.8 917.7M694.9 907.3L705.9 912.8M707 902.4L718 907.9M610.2 957L621.2 962.5M622.3 952L633.3 957.5M634.4 947.1L645.4 952.6M646.5 942.2L657.5 947.7M658.6 937.3L669.6 942.8M670.7 932.4L681.7 937.9M682.8 927.5L693.8 933M694.9 922.6L705.9 928.1M707 917.7L718 923.2M610.2 972.3L621.2 977.8M622.3 967.4L633.3 972.9M634.4 962.4L645.4 967.9M646.5 957.5L657.5 963M658.6 952.6L669.6 958.1M670.7 947.7L681.7 953.2M682.8 942.8L693.8 948.3M694.9 937.9L705.9 943.4M707 933L718 938.5M610.2 987.6L621.2 993.1M622.3 982.7L633.3 988.2M634.4 977.7L645.4 983.2M646.5 972.8L657.5 978.3M658.6 967.9L669.6 973.4M670.7 963L681.7 968.5M682.8 958.1L693.8 963.6M694.9 953.2L705.9 958.7M707 948.3L718 953.8M610.2 1002.9L621.2 1008.4M622.3 998L633.3 1003.5M634.4 993.1L645.4 998.6M646.5 988.1L657.5 993.6M658.6 983.2L669.6 988.7M670.7 978.3L681.7 983.8M682.8 973.4L693.8 978.9M694.9 968.5L705.9 974M707 963.6L718 969.1M610.2 1018.2L621.2 1023.7M622.3 1013.3L633.3 1018.8M634.4 1008.4L645.4 1013.9M646.5 1003.4L657.5 1008.9M658.6 998.5L669.6 1004M670.7 993.6L681.7 999.1M682.8 988.7L693.8 994.2M694.9 983.8L705.9 989.3M707 978.9L718 984.4M610.2 1033.5L621.2 1039M622.3 1028.6L633.3 1034.1M634.4 1023.7L645.4 1029.2M646.5 1018.8L657.5 1024.3M658.6 1013.8L669.6 1019.3M670.7 1008.9L681.7 1014.4M682.8 1004L693.8 1009.5M694.9 999.1L705.9 1004.6M707 994.2L718 999.7M610.2 1048.8L621.2 1054.3M622.3 1043.9L633.3 1049.4M634.4 1039L645.4 1044.5M646.5 1034.1L657.5 1039.6M658.6 1029.2L669.6 1034.7M670.7 1024.2L681.7 1029.7M682.8 1019.3L693.8 1024.8M694.9 1014.4L705.9 1019.9M707 1009.5L718 1015" fill="none" stroke="#A8A84A" stroke-width="0.8"/>
<path d="M610.2 819.2L707 779.9M610.2 834.5L707 795.2M610.2 849.8L707 810.5M610.2 865.1L707 825.8M610.2 880.4L707 841.1M610.2 895.7L707 856.4M610.2 911L707 871.7M610.2 926.3L707 887M610.2 941.7L707 902.4M610.2 957L707 917.7M610.2 972.3L707 933M610.2 987.6L707 948.3M610.2 1002.9L707 963.6M610.2 1018.2L707 978.9M610.2 1033.5L707 994.2M610.2 1048.8L707 1009.5" fill="none" stroke="#6C7480" stroke-width="0.8"/>
<path d="M610.2 819.2L610.2 1048.8M622.3 813.1L622.3 1043.4M634.4 807L634.4 1038M646.5 800.9L646.5 1032.6M658.6 794.8L658.6 1027.2M670.7 788.7L670.7 1021.7M682.8 782.6L682.8 1016.3M694.9 783L694.9 1010.9M707 780.5L707 1005.5" fill="none" stroke="#1D2A78" stroke-width="1"/>
<path d="M610.2 819.2L615.7 818.2L614.2 821.6ZM622.3 814.3L627.8 813.3L626.3 816.7ZM634.4 809.4L639.9 808.4L638.4 811.8ZM646.5 804.5L652 803.5L650.5 806.9ZM658.6 799.6L664.1 798.6L662.6 802ZM670.7 794.6L676.2 793.6L674.7 797ZM682.8 789.7L688.3 788.7L686.8 792.1ZM694.9 784.8L700.4 783.8L698.9 787.2ZM707 779.9L712.5 778.9L711 782.3ZM610.2 834.5L615.7 833.5L614.2 836.9ZM622.3 829.6L627.8 828.6L626.3 832ZM634.4 824.7L639.9 823.7L638.4 827.1ZM646.5 819.8L652 818.8L650.5 822.2ZM658.6 814.9L664.1 813.9L662.6 817.3ZM670.7 809.9L676.2 808.9L674.7 812.3ZM682.8 805L688.3 804L686.8 807.4ZM694.9 800.1L700.4 799.1L698.9 802.5ZM707 795.2L712.5 794.2L711 797.6ZM610.2 849.8L615.7 848.8L614.2 852.2ZM622.3 844.9L627.8 843.9L626.3 847.3ZM634.4 840L639.9 839L638.4 842.4ZM646.5 835.1L652 834.1L650.5 837.5ZM658.6 830.2L664.1 829.2L662.6 832.6ZM670.7 825.3L676.2 824.3L674.7 827.7ZM682.8 820.3L688.3 819.3L686.8 822.7ZM694.9 815.4L700.4 814.4L698.9 817.8ZM707 810.5L712.5 809.5L711 812.9ZM610.2 865.1L615.7 864.1L614.2 867.5ZM622.3 860.2L627.8 859.2L626.3 862.6ZM634.4 855.3L639.9 854.3L638.4 857.7ZM646.5 850.4L652 849.4L650.5 852.8ZM658.6 845.5L664.1 844.5L662.6 847.9ZM670.7 840.6L676.2 839.6L674.7 843ZM682.8 835.6L688.3 834.6L686.8 838ZM694.9 830.7L700.4 829.7L698.9 833.1ZM707 825.8L712.5 824.8L711 828.2ZM610.2 880.4L615.7 879.4L614.2 882.8ZM622.3 875.5L627.8 874.5L626.3 877.9ZM634.4 870.6L639.9 869.6L638.4 873ZM646.5 865.7L652 864.7L650.5 868.1ZM658.6 860.8L664.1 859.8L662.6 863.2ZM670.7 855.9L676.2 854.9L674.7 858.3ZM682.8 851L688.3 850L686.8 853.4ZM694.9 846L700.4 845L698.9 848.4ZM707 841.1L712.5 840.1L711 843.5ZM610.2 895.7L615.7 894.7L614.2 898.1ZM622.3 890.8L627.8 889.8L626.3 893.2ZM634.4 885.9L639.9 884.9L638.4 888.3ZM646.5 881L652 880L650.5 883.4ZM658.6 876.1L664.1 875.1L662.6 878.5ZM670.7 871.2L676.2 870.2L674.7 873.6ZM682.8 866.3L688.3 865.3L686.8 868.7ZM694.9 861.3L700.4 860.3L698.9 863.7ZM707 856.4L712.5 855.4L711 858.8ZM610.2 911L615.7 910L614.2 913.4ZM622.3 906.1L627.8 905.1L626.3 908.5ZM634.4 901.2L639.9 900.2L638.4 903.6ZM646.5 896.3L652 895.3L650.5 898.7ZM658.6 891.4L664.1 890.4L662.6 893.8ZM670.7 886.5L676.2 885.5L674.7 888.9ZM682.8 881.6L688.3 880.6L686.8 884ZM694.9 876.7L700.4 875.7L698.9 879.1ZM707 871.7L712.5 870.7L711 874.1ZM610.2 926.3L615.7 925.3L614.2 928.7ZM622.3 921.4L627.8 920.4L626.3 923.8ZM634.4 916.5L639.9 915.5L638.4 918.9ZM646.5 911.6L652 910.6L650.5 914ZM658.6 906.7L664.1 905.7L662.6 909.1ZM670.7 901.8L676.2 900.8L674.7 904.2ZM682.8 896.9L688.3 895.9L686.8 899.3ZM694.9 892L700.4 891L698.9 894.4ZM707 887L712.5 886L711 889.4ZM610.2 941.7L615.7 940.7L614.2 944.1ZM622.3 936.7L627.8 935.7L626.3 939.1ZM634.4 931.8L639.9 930.8L638.4 934.2ZM646.5 926.9L652 925.9L650.5 929.3ZM658.6 922L664.1 921L662.6 924.4ZM670.7 917.1L676.2 916.1L674.7 919.5ZM682.8 912.2L688.3 911.2L686.8 914.6ZM694.9 907.3L700.4 906.3L698.9 909.7ZM707 902.4L712.5 901.4L711 904.8ZM610.2 957L615.7 956L614.2 959.4ZM622.3 952L627.8 951L626.3 954.4ZM634.4 947.1L639.9 946.1L638.4 949.5ZM646.5 942.2L652 941.2L650.5 944.6ZM658.6 937.3L664.1 936.3L662.6 939.7ZM670.7 932.4L676.2 931.4L674.7 934.8ZM682.8 927.5L688.3 926.5L686.8 929.9ZM694.9 922.6L700.4 921.6L698.9 925ZM707 917.7L712.5 916.7L711 920.1ZM610.2 972.3L615.7 971.3L614.2 974.7ZM622.3 967.4L627.8 966.4L626.3 969.8ZM634.4 962.4L639.9 961.4L638.4 964.8ZM646.5 957.5L652 956.5L650.5 959.9ZM658.6 952.6L664.1 951.6L662.6 955ZM670.7 947.7L676.2 946.7L674.7 950.1ZM682.8 942.8L688.3 941.8L686.8 945.2ZM694.9 937.9L700.4 936.9L698.9 940.3ZM707 933L712.5 932L711 935.4ZM610.2 987.6L615.7 986.6L614.2 990ZM622.3 982.7L627.8 981.7L626.3 985.1ZM634.4 977.7L639.9 976.7L638.4 980.1ZM646.5 972.8L652 971.8L650.5 975.2ZM658.6 967.9L664.1 966.9L662.6 970.3ZM670.7 963L676.2 962L674.7 965.4ZM682.8 958.1L688.3 957.1L686.8 960.5ZM694.9 953.2L700.4 952.2L698.9 955.6ZM707 948.3L712.5 947.3L711 950.7ZM610.2 1002.9L615.7 1001.9L614.2 1005.3ZM622.3 998L627.8 997L626.3 1000.4ZM634.4 993.1L639.9 992.1L638.4 995.5ZM646.5 988.1L652 987.1L650.5 990.5ZM658.6 983.2L664.1 982.2L662.6 985.6ZM670.7 978.3L676.2 977.3L674.7 980.7ZM682.8 973.4L688.3 972.4L686.8 975.8ZM694.9 968.5L700.4 967.5L698.9 970.9ZM707 963.6L712.5 962.6L711 966ZM610.2 1018.2L615.7 1017.2L614.2 1020.6ZM622.3 1013.3L627.8 1012.3L626.3 1015.7ZM634.4 1008.4L639.9 1007.4L638.4 1010.8ZM646.5 1003.4L652 1002.4L650.5 1005.8ZM658.6 998.5L664.1 997.5L662.6 1000.9ZM670.7 993.6L676.2 992.6L674.7 996ZM682.8 988.7L688.3 987.7L686.8 991.1ZM694.9 983.8L700.4 982.8L698.9 986.2ZM707 978.9L712.5 977.9L711 981.3ZM610.2 1033.5L615.7 1032.5L614.2 1035.9ZM622.3 1028.6L627.8 1027.6L626.3 1031ZM634.4 1023.7L639.9 1022.7L638.4 1026.1ZM646.5 1018.8L652 1017.8L650.5 1021.2ZM658.6 1013.8L664.1 1012.8L662.6 1016.2ZM670.7 1008.9L676.2 1007.9L674.7 1011.3ZM682.8 1004L688.3 1003L686.8 1006.4ZM694.9 999.1L700.4 998.1L698.9 1001.5ZM707 994.2L712.5 993.2L711 996.6ZM610.2 1048.8L615.7 1047.8L614.2 1051.2ZM622.3 1043.9L627.8 1042.9L626.3 1046.3ZM634.4 1039L639.9 1038L638.4 1041.4ZM646.5 1034.1L652 1033.1L650.5 1036.5ZM658.6 1029.2L664.1 1028.2L662.6 1031.6ZM670.7 1024.2L676.2 1023.2L674.7 1026.6ZM682.8 1019.3L688.3 1018.3L686.8 1021.7ZM694.9 1014.4L700.4 1013.4L698.9 1016.8ZM707 1009.5L712.5 1008.5L711 1011.9Z" fill="#30D8B8"/>
<path d="M610.2 819.2h0.01M622.3 814.3h0.01M634.4 809.4h0.01M646.5 804.5h0.01M658.6 799.6h0.01M670.7 794.6h0.01M682.8 789.7h0.01M694.9 784.8h0.01M707 779.9h0.01M610.2 834.5h0.01M622.3 829.6h0.01M634.4 824.7h0.01M646.5 819.8h0.01M658.6 814.9h0.01M670.7 809.9h0.01M682.8 805h0.01M694.9 800.1h0.01M707 795.2h0.01M610.2 849.8h0.01M622.3 844.9h0.01M634.4 840h0.01M646.5 835.1h0.01M658.6 830.2h0.01M670.7 825.3h0.01M682.8 820.3h0.01M694.9 815.4h0.01M707 810.5h0.01M610.2 865.1h0.01M622.3 860.2h0.01M634.4 855.3h0.01M646.5 850.4h0.01M658.6 845.5h0.01M670.7 840.6h0.01M682.8 835.6h0.01M694.9 830.7h0.01M707 825.8h0.01M610.2 880.4h0.01M622.3 875.5h0.01M634.4 870.6h0.01M646.5 865.7h0.01M658.6 860.8h0.01M670.7 855.9h0.01M682.8 851h0.01M694.9 846h0.01M707 841.1h0.01M610.2 895.7h0.01M622.3 890.8h0.01M634.4 885.9h0.01M646.5 881h0.01M658.6 876.1h0.01M670.7 871.2h0.01M682.8 866.3h0.01M694.9 861.3h0.01M707 856.4h0.01M610.2 911h0.01M622.3 906.1h0.01M634.4 901.2h0.01M646.5 896.3h0.01M658.6 891.4h0.01M670.7 886.5h0.01M682.8 881.6h0.01M694.9 876.7h0.01M707 871.7h0.01M610.2 926.3h0.01M622.3 921.4h0.01M634.4 916.5h0.01M646.5 911.6h0.01M658.6 906.7h0.01M670.7 901.8h0.01M682.8 896.9h0.01M694.9 892h0.01M707 887h0.01M610.2 941.7h0.01M622.3 936.7h0.01M634.4 931.8h0.01M646.5 926.9h0.01M658.6 922h0.01M670.7 917.1h0.01M682.8 912.2h0.01M694.9 907.3h0.01M707 902.4h0.01M610.2 957h0.01M622.3 952h0.01M634.4 947.1h0.01M646.5 942.2h0.01M658.6 937.3h0.01M670.7 932.4h0.01M682.8 927.5h0.01M694.9 922.6h0.01M707 917.7h0.01M610.2 972.3h0.01M622.3 967.4h0.01M634.4 962.4h0.01M646.5 957.5h0.01M658.6 952.6h0.01M670.7 947.7h0.01M682.8 942.8h0.01M694.9 937.9h0.01M707 933h0.01M610.2 987.6h0.01M622.3 982.7h0.01M634.4 977.7h0.01M646.5 972.8h0.01M658.6 967.9h0.01M670.7 963h0.01M682.8 958.1h0.01M694.9 953.2h0.01M707 948.3h0.01M610.2 1002.9h0.01M622.3 998h0.01M634.4 993.1h0.01M646.5 988.1h0.01M658.6 983.2h0.01M670.7 978.3h0.01M682.8 973.4h0.01M694.9 968.5h0.01M707 963.6h0.01M610.2 1018.2h0.01M622.3 1013.3h0.01M634.4 1008.4h0.01M646.5 1003.4h0.01M658.6 998.5h0.01M670.7 993.6h0.01M682.8 988.7h0.01M694.9 983.8h0.01M707 978.9h0.01M610.2 1033.5h0.01M622.3 1028.6h0.01M634.4 1023.7h0.01M646.5 1018.8h0.01M658.6 1013.8h0.01M670.7 1008.9h0.01M682.8 1004h0.01M694.9 999.1h0.01M707 994.2h0.01M610.2 1048.8h0.01M622.3 1043.9h0.01M634.4 1039h0.01M646.5 1034.1h0.01M658.6 1029.2h0.01M670.7 1024.2h0.01M682.8 1019.3h0.01M694.9 1014.4h0.01M707 1009.5h0.01" fill="none" stroke="#111" stroke-width="2" stroke-linecap="round"/>
<text x="615.2" y="840.5" font-size="7.2" fill="#22222C" transform="rotate(28 615.2 840.5)">6.35</text>
<text x="627.3" y="835.6" font-size="7.2" fill="#22222C" transform="rotate(28 627.3 835.6)">6.35</text>
<text x="639.4" y="830.7" font-size="7.2" fill="#22222C" transform="rotate(28 639.4 830.7)">8.37</text>
<text x="651.5" y="825.8" font-size="7.2" fill="#22222C" transform="rotate(28 651.5 825.8)">10.40</text>
<text x="663.6" y="820.9" font-size="7.2" fill="#22222C" transform="rotate(28 663.6 820.9)">12.43</text>
<text x="675.7" y="815.9" font-size="7.2" fill="#22222C" transform="rotate(28 675.7 815.9)">14.46</text>
<text x="687.8" y="811" font-size="7.2" fill="#22222C" transform="rotate(28 687.8 811)">16.47</text>
<text x="699.9" y="806.1" font-size="7.2" fill="#22222C" transform="rotate(28 699.9 806.1)">18.50</text>
<text x="712" y="801.2" font-size="7.2" fill="#22222C" transform="rotate(28 712 801.2)">20.52</text>
<text x="615.2" y="855.8" font-size="7.2" fill="#22222C" transform="rotate(28 615.2 855.8)">6.35</text>
<text x="627.3" y="850.9" font-size="7.2" fill="#22222C" transform="rotate(28 627.3 850.9)">8.37</text>
<text x="639.4" y="846" font-size="7.2" fill="#22222C" transform="rotate(28 639.4 846)">10.40</text>
<text x="651.5" y="841.1" font-size="7.2" fill="#22222C" transform="rotate(28 651.5 841.1)">12.43</text>
<text x="663.6" y="836.2" font-size="7.2" fill="#22222C" transform="rotate(28 663.6 836.2)">14.46</text>
<text x="675.7" y="831.3" font-size="7.2" fill="#22222C" transform="rotate(28 675.7 831.3)">16.47</text>
<text x="687.8" y="826.3" font-size="7.2" fill="#22222C" transform="rotate(28 687.8 826.3)">18.50</text>
<text x="699.9" y="821.4" font-size="7.2" fill="#22222C" transform="rotate(28 699.9 821.4)">20.52</text>
<text x="712" y="816.5" font-size="7.2" fill="#22222C" transform="rotate(28 712 816.5)">22.55</text>
<text x="615.2" y="871.1" font-size="7.2" fill="#22222C" transform="rotate(28 615.2 871.1)">8.37</text>
<text x="627.3" y="866.2" font-size="7.2" fill="#22222C" transform="rotate(28 627.3 866.2)">10.40</text>
<text x="639.4" y="861.3" font-size="7.2" fill="#22222C" transform="rotate(28 639.4 861.3)">12.43</text>
<text x="651.5" y="856.4" font-size="7.2" fill="#22222C" transform="rotate(28 651.5 856.4)">14.46</text>
<text x="663.6" y="851.5" font-size="7.2" fill="#22222C" transform="rotate(28 663.6 851.5)">16.47</text>
<text x="675.7" y="846.6" font-size="7.2" fill="#22222C" transform="rotate(28 675.7 846.6)">18.50</text>
<text x="687.8" y="841.6" font-size="7.2" fill="#22222C" transform="rotate(28 687.8 841.6)">20.52</text>
<text x="699.9" y="836.7" font-size="7.2" fill="#22222C" transform="rotate(28 699.9 836.7)">22.55</text>
<text x="712" y="831.8" font-size="7.2" fill="#22222C" transform="rotate(28 712 831.8)">24.58</text>
<text x="615.2" y="886.4" font-size="7.2" fill="#22222C" transform="rotate(28 615.2 886.4)">10.40</text>
<text x="627.3" y="881.5" font-size="7.2" fill="#22222C" transform="rotate(28 627.3 881.5)">12.43</text>
<text x="639.4" y="876.6" font-size="7.2" fill="#22222C" transform="rotate(28 639.4 876.6)">14.46</text>
<text x="651.5" y="871.7" font-size="7.2" fill="#22222C" transform="rotate(28 651.5 871.7)">16.47</text>
<text x="663.6" y="866.8" font-size="7.2" fill="#22222C" transform="rotate(28 663.6 866.8)">18.50</text>
<text x="675.7" y="861.9" font-size="7.2" fill="#22222C" transform="rotate(28 675.7 861.9)">20.52</text>
<text x="687.8" y="857" font-size="7.2" fill="#22222C" transform="rotate(28 687.8 857)">22.55</text>
<text x="699.9" y="852" font-size="7.2" fill="#22222C" transform="rotate(28 699.9 852)">24.58</text>
<text x="712" y="847.1" font-size="7.2" fill="#22222C" transform="rotate(28 712 847.1)">26.60</text>
<text x="615.2" y="901.7" font-size="7.2" fill="#22222C" transform="rotate(28 615.2 901.7)">12.43</text>
<text x="627.3" y="896.8" font-size="7.2" fill="#22222C" transform="rotate(28 627.3 896.8)">14.46</text>
<text x="639.4" y="891.9" font-size="7.2" fill="#22222C" transform="rotate(28 639.4 891.9)">16.47</text>
<text x="651.5" y="887" font-size="7.2" fill="#22222C" transform="rotate(28 651.5 887)">18.50</text>
<text x="663.6" y="882.1" font-size="7.2" fill="#22222C" transform="rotate(28 663.6 882.1)">20.52</text>
<text x="675.7" y="877.2" font-size="7.2" fill="#22222C" transform="rotate(28 675.7 877.2)">22.55</text>
<text x="687.8" y="872.3" font-size="7.2" fill="#22222C" transform="rotate(28 687.8 872.3)">24.58</text>
<text x="699.9" y="867.3" font-size="7.2" fill="#22222C" transform="rotate(28 699.9 867.3)">26.60</text>
<text x="712" y="862.4" font-size="7.2" fill="#22222C" transform="rotate(28 712 862.4)">28.60</text>
<text x="615.2" y="917" font-size="7.2" fill="#22222C" transform="rotate(28 615.2 917)">14.46</text>
<text x="627.3" y="912.1" font-size="7.2" fill="#22222C" transform="rotate(28 627.3 912.1)">16.47</text>
<text x="639.4" y="907.2" font-size="7.2" fill="#22222C" transform="rotate(28 639.4 907.2)">18.50</text>
<text x="651.5" y="902.3" font-size="7.2" fill="#22222C" transform="rotate(28 651.5 902.3)">20.52</text>
<text x="663.6" y="897.4" font-size="7.2" fill="#22222C" transform="rotate(28 663.6 897.4)">22.55</text>
<text x="675.7" y="892.5" font-size="7.2" fill="#22222C" transform="rotate(28 675.7 892.5)">24.58</text>
<text x="687.8" y="887.6" font-size="7.2" fill="#22222C" transform="rotate(28 687.8 887.6)">26.60</text>
<text x="699.9" y="882.7" font-size="7.2" fill="#22222C" transform="rotate(28 699.9 882.7)">28.60</text>
<text x="712" y="877.7" font-size="7.2" fill="#22222C" transform="rotate(28 712 877.7)">30.43</text>
<text x="615.2" y="932.3" font-size="7.2" fill="#22222C" transform="rotate(28 615.2 932.3)">16.47</text>
<text x="627.3" y="927.4" font-size="7.2" fill="#22222C" transform="rotate(28 627.3 927.4)">18.50</text>
<text x="639.4" y="922.5" font-size="7.2" fill="#22222C" transform="rotate(28 639.4 922.5)">20.52</text>
<text x="651.5" y="917.6" font-size="7.2" fill="#22222C" transform="rotate(28 651.5 917.6)">22.55</text>
<text x="663.6" y="912.7" font-size="7.2" fill="#22222C" transform="rotate(28 663.6 912.7)">24.58</text>
<text x="675.7" y="907.8" font-size="7.2" fill="#22222C" transform="rotate(28 675.7 907.8)">26.60</text>
<text x="687.8" y="902.9" font-size="7.2" fill="#22222C" transform="rotate(28 687.8 902.9)">28.60</text>
<text x="699.9" y="898" font-size="7.2" fill="#22222C" transform="rotate(28 699.9 898)">30.43</text>
<text x="712" y="893" font-size="7.2" fill="#22222C" transform="rotate(28 712 893)">32.45</text>
<text x="615.2" y="947.7" font-size="7.2" fill="#22222C" transform="rotate(28 615.2 947.7)">18.50</text>
<text x="627.3" y="942.7" font-size="7.2" fill="#22222C" transform="rotate(28 627.3 942.7)">20.52</text>
<text x="639.4" y="937.8" font-size="7.2" fill="#22222C" transform="rotate(28 639.4 937.8)">22.55</text>
<text x="651.5" y="932.9" font-size="7.2" fill="#22222C" transform="rotate(28 651.5 932.9)">24.58</text>
<text x="663.6" y="928" font-size="7.2" fill="#22222C" transform="rotate(28 663.6 928)">26.60</text>
<text x="675.7" y="923.1" font-size="7.2" fill="#22222C" transform="rotate(28 675.7 923.1)">28.60</text>
<text x="687.8" y="918.2" font-size="7.2" fill="#22222C" transform="rotate(28 687.8 918.2)">30.43</text>
<text x="699.9" y="913.3" font-size="7.2" fill="#22222C" transform="rotate(28 699.9 913.3)">32.45</text>
<text x="712" y="908.4" font-size="7.2" fill="#22222C" transform="rotate(28 712 908.4)">32.45</text>
<text x="615.2" y="963" font-size="7.2" fill="#22222C" transform="rotate(28 615.2 963)">20.52</text>
<text x="627.3" y="958" font-size="7.2" fill="#22222C" transform="rotate(28 627.3 958)">22.55</text>
<text x="639.4" y="953.1" font-size="7.2" fill="#22222C" transform="rotate(28 639.4 953.1)">24.58</text>
<text x="651.5" y="948.2" font-size="7.2" fill="#22222C" transform="rotate(28 651.5 948.2)">26.60</text>
<text x="663.6" y="943.3" font-size="7.2" fill="#22222C" transform="rotate(28 663.6 943.3)">28.60</text>
<text x="675.7" y="938.4" font-size="7.2" fill="#22222C" transform="rotate(28 675.7 938.4)">30.43</text>
<text x="687.8" y="933.5" font-size="7.2" fill="#22222C" transform="rotate(28 687.8 933.5)">32.45</text>
<text x="699.9" y="928.6" font-size="7.2" fill="#22222C" transform="rotate(28 699.9 928.6)">32.45</text>
<text x="712" y="923.7" font-size="7.2" fill="#22222C" transform="rotate(28 712 923.7)">32.45</text>
<text x="615.2" y="978.3" font-size="7.2" fill="#22222C" transform="rotate(28 615.2 978.3)">22.55</text>
<text x="627.3" y="973.4" font-size="7.2" fill="#22222C" transform="rotate(28 627.3 973.4)">24.58</text>
<text x="639.4" y="968.4" font-size="7.2" fill="#22222C" transform="rotate(28 639.4 968.4)">26.60</text>
<text x="651.5" y="963.5" font-size="7.2" fill="#22222C" transform="rotate(28 651.5 963.5)">28.60</text>
<text x="663.6" y="958.6" font-size="7.2" fill="#22222C" transform="rotate(28 663.6 958.6)">30.43</text>
<text x="675.7" y="953.7" font-size="7.2" fill="#22222C" transform="rotate(28 675.7 953.7)">32.45</text>
<text x="687.8" y="948.8" font-size="7.2" fill="#22222C" transform="rotate(28 687.8 948.8)">32.45</text>
<text x="699.9" y="943.9" font-size="7.2" fill="#22222C" transform="rotate(28 699.9 943.9)">32.45</text>
<text x="712" y="939" font-size="7.2" fill="#22222C" transform="rotate(28 712 939)">32.45</text>
<text x="615.2" y="993.6" font-size="7.2" fill="#22222C" transform="rotate(28 615.2 993.6)">24.58</text>
<text x="627.3" y="988.7" font-size="7.2" fill="#22222C" transform="rotate(28 627.3 988.7)">26.60</text>
<text x="639.4" y="983.7" font-size="7.2" fill="#22222C" transform="rotate(28 639.4 983.7)">28.60</text>
<text x="651.5" y="978.8" font-size="7.2" fill="#22222C" transform="rotate(28 651.5 978.8)">30.43</text>
<text x="663.6" y="973.9" font-size="7.2" fill="#22222C" transform="rotate(28 663.6 973.9)">32.45</text>
<text x="675.7" y="969" font-size="7.2" fill="#22222C" transform="rotate(28 675.7 969)">32.45</text>
<text x="687.8" y="964.1" font-size="7.2" fill="#22222C" transform="rotate(28 687.8 964.1)">32.45</text>
<text x="699.9" y="959.2" font-size="7.2" fill="#22222C" transform="rotate(28 699.9 959.2)">32.45</text>
<text x="712" y="954.3" font-size="7.2" fill="#22222C" transform="rotate(28 712 954.3)">32.45</text>
<text x="615.2" y="1008.9" font-size="7.2" fill="#22222C" transform="rotate(28 615.2 1008.9)">26.60</text>
<text x="627.3" y="1004" font-size="7.2" fill="#22222C" transform="rotate(28 627.3 1004)">28.60</text>
<text x="639.4" y="999.1" font-size="7.2" fill="#22222C" transform="rotate(28 639.4 999.1)">30.43</text>
<text x="651.5" y="994.1" font-size="7.2" fill="#22222C" transform="rotate(28 651.5 994.1)">32.45</text>
<text x="663.6" y="989.2" font-size="7.2" fill="#22222C" transform="rotate(28 663.6 989.2)">32.45</text>
<text x="675.7" y="984.3" font-size="7.2" fill="#22222C" transform="rotate(28 675.7 984.3)">32.45</text>
<text x="687.8" y="979.4" font-size="7.2" fill="#22222C" transform="rotate(28 687.8 979.4)">32.45</text>
<text x="699.9" y="974.5" font-size="7.2" fill="#22222C" transform="rotate(28 699.9 974.5)">32.45</text>
<text x="712" y="969.6" font-size="7.2" fill="#22222C" transform="rotate(28 712 969.6)">32.45</text>
<text x="615.2" y="1024.2" font-size="7.2" fill="#22222C" transform="rotate(28 615.2 1024.2)">28.60</text>
<text x="627.3" y="1019.3" font-size="7.2" fill="#22222C" transform="rotate(28 627.3 1019.3)">30.43</text>
<text x="639.4" y="1014.4" font-size="7.2" fill="#22222C" transform="rotate(28 639.4 1014.4)">32.45</text>
<text x="651.5" y="1009.4" font-size="7.2" fill="#22222C" transform="rotate(28 651.5 1009.4)">32.45</text>
<text x="663.6" y="1004.5" font-size="7.2" fill="#22222C" transform="rotate(28 663.6 1004.5)">32.45</text>
<text x="675.7" y="999.6" font-size="7.2" fill="#22222C" transform="rotate(28 675.7 999.6)">32.45</text>
<text x="687.8" y="994.7" font-size="7.2" fill="#22222C" transform="rotate(28 687.8 994.7)">32.45</text>
<text x="699.9" y="989.8" font-size="7.2" fill="#22222C" transform="rotate(28 699.9 989.8)">32.45</text>
<text x="712" y="984.9" font-size="7.2" fill="#22222C" transform="rotate(28 712 984.9)">32.45</text>
<text x="615.2" y="1039.5" font-size="7.2" fill="#22222C" transform="rotate(28 615.2 1039.5)">30.43</text>
<text x="627.3" y="1034.6" font-size="7.2" fill="#22222C" transform="rotate(28 627.3 1034.6)">32.45</text>
<text x="639.4" y="1029.7" font-size="7.2" fill="#22222C" transform="rotate(28 639.4 1029.7)">32.45</text>
<text x="651.5" y="1024.8" font-size="7.2" fill="#22222C" transform="rotate(28 651.5 1024.8)">32.45</text>
<text x="663.6" y="1019.8" font-size="7.2" fill="#22222C" transform="rotate(28 663.6 1019.8)">32.45</text>
<text x="675.7" y="1014.9" font-size="7.2" fill="#22222C" transform="rotate(28 675.7 1014.9)">32.45</text>
<text x="687.8" y="1010" font-size="7.2" fill="#22222C" transform="rotate(28 687.8 1010)">32.45</text>
<text x="699.9" y="1005.1" font-size="7.2" fill="#22222C" transform="rotate(28 699.9 1005.1)">32.45</text>
<text x="712" y="1000.2" font-size="7.2" fill="#22222C" transform="rotate(28 712 1000.2)">32.45</text>
</g>
<path d="M610 1048L623 1054.5" fill="none" stroke="#A8A84A" stroke-width="0.8"/>
<text x="624" y="1057" font-size="7.2" fill="#22222C" transform="rotate(28 624 1057)">32.45</text>
<path d="M623.5 1042L636.5 1048.5" fill="none" stroke="#A8A84A" stroke-width="0.8"/>
<text x="637.5" y="1051" font-size="7.2" fill="#22222C" transform="rotate(28 637.5 1051)">32.45</text>
<path d="M637 1036L650 1042.5" fill="none" stroke="#A8A84A" stroke-width="0.8"/>
<text x="651" y="1045" font-size="7.2" fill="#22222C" transform="rotate(28 651 1045)">32.45</text>
<path d="M650.5 1030L663.5 1036.5" fill="none" stroke="#A8A84A" stroke-width="0.8"/>
<text x="664.5" y="1039" font-size="7.2" fill="#22222C" transform="rotate(28 664.5 1039)">32.45</text>
<path d="M664 1024L677 1030.5" fill="none" stroke="#A8A84A" stroke-width="0.8"/>
<text x="678" y="1033" font-size="7.2" fill="#22222C" transform="rotate(28 678 1033)">32.45</text>
<path d="M677.5 1018L690.5 1024.5" fill="none" stroke="#A8A84A" stroke-width="0.8"/>
<text x="691.5" y="1027" font-size="7.2" fill="#22222C" transform="rotate(28 691.5 1027)">32.45</text>
<polyline points="786.4,790.3 786.4,1051.7" fill="none" stroke="#1A1F7A" stroke-width="1.2"/>
<polyline points="772.3,790 772.3,843.8 734.4,1051.7 786.4,1051.7" fill="none" stroke="#9A9A2E" stroke-width="1.1"/>
<path d="M772.3 793.2L786.4 793.2M772.3 806.2L786.4 806.2M772.3 825L786.4 825M772.3 843.8L786.4 843.8M768.8 863.1L786.4 863.1M770.6 859.6L770.6 866.6M765.4 881.9L786.4 881.9M768.9 878.4L768.9 885.4M761.9 900.9L786.4 900.9M767.2 897.4L767.2 904.4M758.5 919.7L786.4 919.7M765.5 916.2L765.5 923.2M754.9 939.1L786.4 939.1M763.7 935.6L763.7 942.6M751.4 958.4L786.4 958.4M762 954.9L762 961.9M748 977.2L786.4 977.2M760.2 973.7L760.2 980.7M746.1 987.3L786.4 987.3M759.3 983.8L759.3 990.8M744.4 996.8L786.4 996.8M758.5 993.3L758.5 1000.3M741.2 1014.2L786.4 1014.2M756.9 1010.7L756.9 1017.7M737.9 1032.4L786.4 1032.4M755.2 1028.9L755.2 1035.9M734.4 1051.7L786.4 1051.7M753.5 1048.2L753.5 1055.2" fill="none" stroke="#9A9A2E" stroke-width="1"/>
<path d="M772.5 789.6L772.5 796.8L784.2 793.2ZM772.5 802.6L772.5 809.8L784.2 806.2ZM772.5 821.4L772.5 828.6L784.2 825ZM772.5 840.2L772.5 847.4L784.2 843.8ZM772.5 859.5L772.5 866.7L784.2 863.1ZM772.5 878.3L772.5 885.5L784.2 881.9ZM772.5 897.3L772.5 904.5L784.2 900.9ZM772.5 916.1L772.5 923.3L784.2 919.7ZM772.5 935.5L772.5 942.7L784.2 939.1ZM772.5 954.8L772.5 962L784.2 958.4ZM772.5 973.6L772.5 980.8L784.2 977.2ZM772.5 983.7L772.5 990.9L784.2 987.3ZM772.5 993.2L772.5 1000.4L784.2 996.8ZM772.5 1010.6L772.5 1017.8L784.2 1014.2ZM772.5 1028.8L772.5 1036L784.2 1032.4ZM772.5 1048.1L772.5 1055.3L784.2 1051.7Z" fill="#2FE0C4" stroke="#2A9C8A" stroke-width="0.5"/>
<circle cx="786.4" cy="793.2" r="1.6" fill="#111"/><circle cx="786.4" cy="806.2" r="1.6" fill="#111"/><circle cx="786.4" cy="825" r="1.6" fill="#111"/><circle cx="786.4" cy="843.8" r="1.6" fill="#111"/><circle cx="786.4" cy="863.1" r="1.6" fill="#111"/><circle cx="786.4" cy="881.9" r="1.6" fill="#111"/><circle cx="786.4" cy="900.9" r="1.6" fill="#111"/><circle cx="786.4" cy="919.7" r="1.6" fill="#111"/><circle cx="786.4" cy="939.1" r="1.6" fill="#111"/><circle cx="786.4" cy="958.4" r="1.6" fill="#111"/><circle cx="786.4" cy="977.2" r="1.6" fill="#111"/><circle cx="786.4" cy="987.3" r="1.6" fill="#111"/><circle cx="786.4" cy="996.8" r="1.6" fill="#111"/><circle cx="786.4" cy="1014.2" r="1.6" fill="#111"/><circle cx="786.4" cy="1032.4" r="1.6" fill="#111"/><circle cx="786.4" cy="1051.7" r="1.6" fill="#111"/>
<defs>
<linearGradient id="gMx" x1="0" y1="0" x2="0" y2="1"><stop offset="0" stop-color="#25EAD2"/><stop offset="0.68" stop-color="#25EAD2"/><stop offset="0.78" stop-color="#14EE2A"/><stop offset="0.84" stop-color="#4CF010"/><stop offset="0.92" stop-color="#E4F000"/><stop offset="1" stop-color="#FFD400"/></linearGradient>
<linearGradient id="gEdgeL" x1="0" y1="0" x2="1" y2="0"><stop offset="0" stop-color="#18EC2C"/><stop offset="0.05" stop-color="#18EC2C" stop-opacity="0.9"/><stop offset="0.14" stop-color="#18EC2C" stop-opacity="0"/></linearGradient>
<linearGradient id="gEdgeR" x1="1" y1="0" x2="0" y2="0"><stop offset="0" stop-color="#18EC2C"/><stop offset="0.05" stop-color="#18EC2C" stop-opacity="0.9"/><stop offset="0.14" stop-color="#18EC2C" stop-opacity="0"/></linearGradient>
<radialGradient id="gCorner"><stop offset="0" stop-color="#18EC2C"/><stop offset="0.5" stop-color="#18EC2C" stop-opacity="0.85"/><stop offset="1" stop-color="#18EC2C" stop-opacity="0"/></radialGradient>
<linearGradient id="gMxYb" x1="0" y1="0" x2="0" y2="1"><stop offset="0.7" stop-color="#8CC030" stop-opacity="0"/><stop offset="0.86" stop-color="#C8D020"/><stop offset="1" stop-color="#F0A000"/></linearGradient>
<radialGradient id="gCy"><stop offset="0" stop-color="#25EAD2"/><stop offset="0.55" stop-color="#25EAD2" stop-opacity="0.95"/><stop offset="1" stop-color="#25EAD2" stop-opacity="0"/></radialGradient>
<radialGradient id="gTe"><stop offset="0" stop-color="#2FA8A0"/><stop offset="0.5" stop-color="#2FA8A0" stop-opacity="0.9"/><stop offset="1" stop-color="#2FA8A0" stop-opacity="0"/></radialGradient>
<linearGradient id="gYL" x1="0" y1="0" x2="1" y2="0.35"><stop offset="0" stop-color="#FFE800"/><stop offset="0.05" stop-color="#E8F000" stop-opacity="0.9"/><stop offset="0.2" stop-color="#A0F000" stop-opacity="0"/></linearGradient>
<linearGradient id="gYR" x1="1" y1="0" x2="0" y2="0.35"><stop offset="0" stop-color="#FFE800"/><stop offset="0.05" stop-color="#E8F000" stop-opacity="0.9"/><stop offset="0.16" stop-color="#A0F000" stop-opacity="0"/></linearGradient>
<linearGradient id="gOrR" x1="1" y1="0" x2="0" y2="0"><stop offset="0" stop-color="#C8A818"/><stop offset="0.07" stop-color="#98A828" stop-opacity="0.8"/><stop offset="0.2" stop-color="#6CA030" stop-opacity="0"/></linearGradient>
<linearGradient id="gSl" x1="0" y1="0" x2="0" y2="1"><stop offset="0" stop-color="#58B050"/><stop offset="0.5" stop-color="#A8C030"/><stop offset="1" stop-color="#E8D818"/></linearGradient>
</defs>
<g transform="matrix(84.3 18.9 0 46.2 1025.9 570.4)">
<clipPath id="cx0"><rect width="1" height="1"/></clipPath>
<g clip-path="url(#cx0)">
<rect width="1" height="1" fill="url(#gMx)"/><rect width="1" height="1" fill="url(#gEdgeL)"/><rect width="1" height="1" fill="url(#gEdgeR)"/><ellipse cx="0" cy="1" rx="0.22" ry="0.5" fill="url(#gCorner)"/><ellipse cx="1" cy="1" rx="0.22" ry="0.5" fill="url(#gCorner)"/><path d="M.165 0L.80 0C.83 .2 .85 .35 .84 .5C.82 .62 .78 .66 .73 .66L.30 .70C.2 .68 .14 .64 .13 .58C.10 .45 .10 .35 .12 .25Z" fill="#1212C8"/>
</g>
<path d="M0 0V1M0.0476 0V1M0.0952 0V1M0.1429 0V1M0.1905 0V1M0.2381 0V1M0.2857 0V1M0.3333 0V1M0.381 0V1M0.4286 0V1M0.4762 0V1M0.5238 0V1M0.5714 0V1M0.619 0V1M0.6667 0V1M0.7143 0V1M0.7619 0V1M0.8095 0V1M0.8571 0V1M0.9048 0V1M0.9524 0V1M1 0V1M0 0H1M0 0.1111H1M0 0.2222H1M0 0.3333H1M0 0.4444H1M0 0.5556H1M0 0.6667H1M0 0.7778H1M0 0.8889H1M0 1H1" fill="none" stroke="#7C7840" stroke-width="0.9" stroke-opacity="0.62" vector-effect="non-scaling-stroke"/>
</g>
<g transform="matrix(85.1 19.6 0 46.6 1123.3 593.2)">
<clipPath id="cx1"><rect width="1" height="1"/></clipPath>
<g clip-path="url(#cx1)">
<rect width="1" height="1" fill="url(#gMx)"/><rect width="1" height="1" fill="url(#gEdgeL)"/><rect width="1" height="1" fill="url(#gEdgeR)"/><ellipse cx="0" cy="1" rx="0.22" ry="0.5" fill="url(#gCorner)"/><ellipse cx="1" cy="1" rx="0.22" ry="0.5" fill="url(#gCorner)"/><rect x="0.8" y="0" width="0.2" height="0.6" fill="#25EAD2"/><path d="M.16 0L.80 0L.91 .55L.89 .76L.6 .77L.31 .70C.2 .65 .16 .5 .15 .3Z" fill="#1212C8"/>
</g>
<path d="M0 0V1M0.0476 0V1M0.0952 0V1M0.1429 0V1M0.1905 0V1M0.2381 0V1M0.2857 0V1M0.3333 0V1M0.381 0V1M0.4286 0V1M0.4762 0V1M0.5238 0V1M0.5714 0V1M0.619 0V1M0.6667 0V1M0.7143 0V1M0.7619 0V1M0.8095 0V1M0.8571 0V1M0.9048 0V1M0.9524 0V1M1 0V1M0 0H1M0 0.1111H1M0 0.2222H1M0 0.3333H1M0 0.4444H1M0 0.5556H1M0 0.6667H1M0 0.7778H1M0 0.8889H1M0 1H1" fill="none" stroke="#7C7840" stroke-width="0.9" stroke-opacity="0.62" vector-effect="non-scaling-stroke"/>
</g>
<g transform="matrix(28.8 -20.1 0 48.5 1218.9 608.9)">
<clipPath id="cx2"><rect width="1" height="1"/></clipPath>
<g clip-path="url(#cx2)">
<rect width="1" height="1" fill="#38B070"/><path d="M.3 .02L.68 .02C.8 .3 .95 .6 1 .85L.6 .9L.12 .85C.15 .5 .2 .3 .3 .02Z" fill="#1A1C8E"/>
</g>
<path d="M0 0V1M0.1111 0V1M0.2222 0V1M0.3333 0V1M0.4444 0V1M0.5556 0V1M0.6667 0V1M0.7778 0V1M0.8889 0V1M1 0V1M0 0H1M0 0.1H1M0 0.2H1M0 0.3H1M0 0.4H1M0 0.5H1M0 0.6H1M0 0.7H1M0 0.8H1M0 0.9H1M0 1H1" fill="none" stroke="#7C7840" stroke-width="0.9" stroke-opacity="0.62" vector-effect="non-scaling-stroke"/>
</g>
<g transform="matrix(89.3 20.1 0 46.6 1254.2 588)">
<clipPath id="cx3"><rect width="1" height="1"/></clipPath>
<g clip-path="url(#cx3)">
<rect width="1" height="1" fill="url(#gMx)"/><rect width="1" height="1" fill="url(#gEdgeL)"/><rect width="1" height="1" fill="url(#gEdgeR)"/><ellipse cx="0" cy="1" rx="0.22" ry="0.5" fill="url(#gCorner)"/><ellipse cx="1" cy="1" rx="0.22" ry="0.5" fill="url(#gCorner)"/><path d="M.23 0L.93 .02C.92 .2 .85 .4 .77 .48L.57 .57L.27 .62C.18 .6 .13 .55 .14 .5L.17 .24Z" fill="#1212C8"/>
</g>
<path d="M0 0V1M0.0455 0V1M0.0909 0V1M0.1364 0V1M0.1818 0V1M0.2273 0V1M0.2727 0V1M0.3182 0V1M0.3636 0V1M0.4091 0V1M0.4545 0V1M0.5 0V1M0.5455 0V1M0.5909 0V1M0.6364 0V1M0.6818 0V1M0.7273 0V1M0.7727 0V1M0.8182 0V1M0.8636 0V1M0.9091 0V1M0.9545 0V1M1 0V1M0 0H1M0 0.1111H1M0 0.2222H1M0 0.3333H1M0 0.4444H1M0 0.5556H1M0 0.6667H1M0 0.7778H1M0 0.8889H1M0 1H1" fill="none" stroke="#7C7840" stroke-width="0.9" stroke-opacity="0.62" vector-effect="non-scaling-stroke"/>
</g>
<g transform="matrix(89.7 20.2 0 46.6 1352.4 611.5)">
<clipPath id="cx4"><rect width="1" height="1"/></clipPath>
<g clip-path="url(#cx4)">
<rect width="1" height="1" fill="url(#gMx)"/><rect width="1" height="1" fill="url(#gEdgeL)"/><rect width="1" height="1" fill="url(#gEdgeR)"/><ellipse cx="0" cy="1" rx="0.22" ry="0.5" fill="url(#gCorner)"/><ellipse cx="1" cy="1" rx="0.22" ry="0.5" fill="url(#gCorner)"/><rect x="0.8" y="0" width="0.2" height="0.6" fill="#25EAD2"/><path d="M.04 0L.78 0L.84 .23L.86 .45L.76 .62L.635 .52L.344 .39C.2 .33 .12 .2 .04 0Z" fill="#1212C8"/>
</g>
<path d="M0 0V1M0.0455 0V1M0.0909 0V1M0.1364 0V1M0.1818 0V1M0.2273 0V1M0.2727 0V1M0.3182 0V1M0.3636 0V1M0.4091 0V1M0.4545 0V1M0.5 0V1M0.5455 0V1M0.5909 0V1M0.6364 0V1M0.6818 0V1M0.7273 0V1M0.7727 0V1M0.8182 0V1M0.8636 0V1M0.9091 0V1M0.9545 0V1M1 0V1M0 0H1M0 0.1111H1M0 0.2222H1M0 0.3333H1M0 0.4444H1M0 0.5556H1M0 0.6667H1M0 0.7778H1M0 0.8889H1M0 1H1" fill="none" stroke="#7C7840" stroke-width="0.9" stroke-opacity="0.62" vector-effect="non-scaling-stroke"/>
</g>
<g transform="matrix(28.8 -20.9 0 48.4 1414.7 654.7)">
<clipPath id="cx5"><rect width="1" height="1"/></clipPath>
<g clip-path="url(#cx5)">
<rect width="1" height="1" fill="#38B070"/><path d="M.12 0L.72 0C.8 .3 .85 .6 .8 .85L.15 .88C.1 .6 .1 .3 .12 0Z" fill="#1A1C8E"/>
</g>
<path d="M0 0V1M0.1111 0V1M0.2222 0V1M0.3333 0V1M0.4444 0V1M0.5556 0V1M0.6667 0V1M0.7778 0V1M0.8889 0V1M1 0V1M0 0H1M0 0.1H1M0 0.2H1M0 0.3H1M0 0.4H1M0 0.5H1M0 0.6H1M0 0.7H1M0 0.8H1M0 0.9H1M0 1H1" fill="none" stroke="#7C7840" stroke-width="0.9" stroke-opacity="0.62" vector-effect="non-scaling-stroke"/>
</g>
<g transform="matrix(84.3 19.1 0 47.4 962.3 621.2)">
<clipPath id="cx6"><rect width="1" height="1"/></clipPath>
<g clip-path="url(#cx6)">
<rect width="1" height="1" fill="url(#gMx)"/><rect width="1" height="1" fill="url(#gEdgeL)"/><rect width="1" height="1" fill="url(#gEdgeR)"/><ellipse cx="0" cy="1" rx="0.22" ry="0.5" fill="url(#gCorner)"/><ellipse cx="1" cy="1" rx="0.22" ry="0.5" fill="url(#gCorner)"/><path d="M.165 0L.80 0C.83 .2 .85 .35 .84 .5C.82 .62 .78 .66 .73 .66L.30 .70C.2 .68 .14 .64 .13 .58C.10 .45 .10 .35 .12 .25Z" fill="#1212C8"/>
</g>
<path d="M0 0V1M0.0476 0V1M0.0952 0V1M0.1429 0V1M0.1905 0V1M0.2381 0V1M0.2857 0V1M0.3333 0V1M0.381 0V1M0.4286 0V1M0.4762 0V1M0.5238 0V1M0.5714 0V1M0.619 0V1M0.6667 0V1M0.7143 0V1M0.7619 0V1M0.8095 0V1M0.8571 0V1M0.9048 0V1M0.9524 0V1M1 0V1M0 0H1M0 0.1111H1M0 0.2222H1M0 0.3333H1M0 0.4444H1M0 0.5556H1M0 0.6667H1M0 0.7778H1M0 0.8889H1M0 1H1" fill="none" stroke="#7C7840" stroke-width="0.9" stroke-opacity="0.62" vector-effect="non-scaling-stroke"/>
</g>
<g transform="matrix(84.3 19.6 0 47.9 1059.9 644.3)">
<clipPath id="cx7"><rect width="1" height="1"/></clipPath>
<g clip-path="url(#cx7)">
<rect width="1" height="1" fill="url(#gMx)"/><rect width="1" height="1" fill="url(#gEdgeL)"/><rect width="1" height="1" fill="url(#gEdgeR)"/><ellipse cx="0" cy="1" rx="0.22" ry="0.5" fill="url(#gCorner)"/><ellipse cx="1" cy="1" rx="0.22" ry="0.5" fill="url(#gCorner)"/><rect x="0.8" y="0" width="0.2" height="0.6" fill="#25EAD2"/><path d="M.16 0L.80 0L.91 .55L.89 .76L.6 .77L.31 .70C.2 .65 .16 .5 .15 .3Z" fill="#1212C8"/>
</g>
<path d="M0 0V1M0.0476 0V1M0.0952 0V1M0.1429 0V1M0.1905 0V1M0.2381 0V1M0.2857 0V1M0.3333 0V1M0.381 0V1M0.4286 0V1M0.4762 0V1M0.5238 0V1M0.5714 0V1M0.619 0V1M0.6667 0V1M0.7143 0V1M0.7619 0V1M0.8095 0V1M0.8571 0V1M0.9048 0V1M0.9524 0V1M1 0V1M0 0H1M0 0.1111H1M0 0.2222H1M0 0.3333H1M0 0.4444H1M0 0.5556H1M0 0.6667H1M0 0.7778H1M0 0.8889H1M0 1H1" fill="none" stroke="#7C7840" stroke-width="0.9" stroke-opacity="0.62" vector-effect="non-scaling-stroke"/>
</g>
<g transform="matrix(57 -43.2 0 44.6 1090.6 712.3)">
<clipPath id="cx8"><rect width="1" height="1"/></clipPath>
<g clip-path="url(#cx8)">
<rect width="1" height="1" fill="#38B070"/><rect width="1" height="1" fill="url(#gMxYb)"/><path d="M.1 0L.85 0C.9 .2 .9 .4 .89 .52L.665 .76L.3 .76C.15 .7 .1 .6 .1 .5Z" fill="#1A1C8E"/>
</g>
<path d="M0 0V1M0.0588 0V1M0.1176 0V1M0.1765 0V1M0.2353 0V1M0.2941 0V1M0.3529 0V1M0.4118 0V1M0.4706 0V1M0.5294 0V1M0.5882 0V1M0.6471 0V1M0.7059 0V1M0.7647 0V1M0.8235 0V1M0.8824 0V1M0.9412 0V1M1 0V1M0 0H1M0 0.1H1M0 0.2H1M0 0.3H1M0 0.4H1M0 0.5H1M0 0.6H1M0 0.7H1M0 0.8H1M0 0.9H1M0 1H1" fill="none" stroke="#7C7840" stroke-width="0.9" stroke-opacity="0.62" vector-effect="non-scaling-stroke"/>
</g>
<polygon points="1068.3,733.3 1074.8,725.4 1083.5,719.7 1083.5,764.7 1073.5,772.6 1068.3,792.2" fill="url(#gSl)"/>
<polygon points="1078.5,722.5 1083.5,719.7 1083.5,732 1078.5,735" fill="#1A1C8E"/>
<polygon points="1073,757 1076,755 1076,769 1073,772" fill="#1A1C8E"/>
<g transform="matrix(68.6 15.7 0 46.6 1076.9 750.3)">
<clipPath id="cy0"><rect width="1" height="1"/></clipPath>
<g clip-path="url(#cy0)">
<rect width="1" height="1" fill="url(#gMx)"/><rect width="1" height="1" fill="url(#gEdgeL)"/><rect width="1" height="1" fill="url(#gEdgeR)"/><ellipse cx="0" cy="1" rx="0.22" ry="0.5" fill="url(#gCorner)"/><ellipse cx="1" cy="1" rx="0.22" ry="0.5" fill="url(#gCorner)"/><path d="M.29 0L1 0L1 .2C.9 .4 .8 .5 .675 .54L.29 .64C.18 .62 .12 .6 .12 .52L.18 .3Z" fill="#1212C8"/>
</g>
<path d="M0 0V1M0.0588 0V1M0.1176 0V1M0.1765 0V1M0.2353 0V1M0.2941 0V1M0.3529 0V1M0.4118 0V1M0.4706 0V1M0.5294 0V1M0.5882 0V1M0.6471 0V1M0.7059 0V1M0.7647 0V1M0.8235 0V1M0.8824 0V1M0.9412 0V1M1 0V1M0 0H1M0 0.1111H1M0 0.2222H1M0 0.3333H1M0 0.4444H1M0 0.5556H1M0 0.6667H1M0 0.7778H1M0 0.8889H1M0 1H1" fill="none" stroke="#7C7840" stroke-width="0.9" stroke-opacity="0.62" vector-effect="non-scaling-stroke"/>
</g>
<g transform="matrix(69.1 14.4 0 46.7 1154.2 768.6)">
<clipPath id="cy1"><rect width="1" height="1"/></clipPath>
<g clip-path="url(#cy1)">
<rect width="1" height="1" fill="url(#gMx)"/><rect width="1" height="1" fill="url(#gEdgeL)"/><rect width="1" height="1" fill="url(#gEdgeR)"/><ellipse cx="0" cy="1" rx="0.22" ry="0.5" fill="url(#gCorner)"/><ellipse cx="1" cy="1" rx="0.22" ry="0.5" fill="url(#gCorner)"/><rect x="0.8" y="0" width="0.2" height="0.6" fill="#25EAD2"/><path d="M0 0L.73 0L.88 .66L.8 .74L.5 .66C.3 .58 .15 .42 0 .22Z" fill="#1212C8"/>
</g>
<path d="M0 0V1M0.0588 0V1M0.1176 0V1M0.1765 0V1M0.2353 0V1M0.2941 0V1M0.3529 0V1M0.4118 0V1M0.4706 0V1M0.5294 0V1M0.5882 0V1M0.6471 0V1M0.7059 0V1M0.7647 0V1M0.8235 0V1M0.8824 0V1M0.9412 0V1M1 0V1M0 0H1M0 0.1111H1M0 0.2222H1M0 0.3333H1M0 0.4444H1M0 0.5556H1M0 0.6667H1M0 0.7778H1M0 0.8889H1M0 1H1" fill="none" stroke="#7C7840" stroke-width="0.9" stroke-opacity="0.62" vector-effect="non-scaling-stroke"/>
</g>
<polygon points="1233.8,784.4 1267.3,774.7 1279.6,765.2 1279.6,811.8 1267.3,819.7 1233.8,831.5" fill="#3AB89A"/>
<polygon points="1250.3,780.4 1267.3,774.7 1279.6,766 1279.6,809.2 1267.3,817.1 1243.7,822.3 1241.1,814.5 1245,796.1" fill="#1A1C8E"/>
<path d="M1233.8 784.4L1233.8 831.5M1238 783.2L1238 830M1242.2 782L1242.2 828.5M1246.4 780.8L1246.4 827.1M1250.5 779.5L1250.5 825.6M1254.7 778.3L1254.7 824.1M1258.9 777.1L1258.9 822.7M1263.1 775.9L1263.1 821.2M1267.3 774.7L1267.3 819.7M1233.8 784.4L1267.3 774.7M1233.8 789.1L1267.3 779.2M1233.8 793.8L1267.3 783.7M1233.8 798.5L1267.3 788.2M1233.8 803.2L1267.3 792.7M1233.8 808L1267.3 797.2M1233.8 812.7L1267.3 801.7M1233.8 817.4L1267.3 806.2M1233.8 822.1L1267.3 810.7M1233.8 826.8L1267.3 815.2M1233.8 831.5L1267.3 819.7" fill="none" stroke="#7C7840" stroke-width="0.8"/>
<path d="M1267.3 774.7L1267.3 819.7M1270.4 772.3L1270.4 817.7M1273.4 770L1273.4 815.8M1276.5 767.6L1276.5 813.8M1279.6 765.2L1279.6 811.8M1267.3 774.7L1279.6 765.2M1267.3 779.2L1279.6 769.9M1267.3 783.7L1279.6 774.5M1267.3 788.2L1279.6 779.2M1267.3 792.7L1279.6 783.8M1267.3 797.2L1279.6 788.5M1267.3 801.7L1279.6 793.2M1267.3 806.2L1279.6 797.8M1267.3 810.7L1279.6 802.5M1267.3 815.2L1279.6 807.1M1267.3 819.7L1279.6 811.8" fill="none" stroke="#7C7840" stroke-width="0.8"/>
<circle cx="1118.5" cy="709" r="1.6" fill="#E02020"/>
<g transform="matrix(86.3 19.9 0 47 1018.5 836.4)">
<clipPath id="dx0"><rect width="1" height="1"/></clipPath>
<g clip-path="url(#dx0)">
<rect width="1" height="1" fill="#1FE838"/><ellipse cx="0.45" cy="0.2" rx="0.4" ry="0.78" fill="url(#gCy)"/><rect width="1" height="1" fill="url(#gYL)"/><rect width="1" height="1" fill="url(#gYR)"/><path d="M0.285 0C0.285 0.5852 0.615 0.5852 0.615 0Z" fill="#1212C8"/>
</g>
<path d="M0 0V1M0.0476 0V1M0.0952 0V1M0.1429 0V1M0.1905 0V1M0.2381 0V1M0.2857 0V1M0.3333 0V1M0.381 0V1M0.4286 0V1M0.4762 0V1M0.5238 0V1M0.5714 0V1M0.619 0V1M0.6667 0V1M0.7143 0V1M0.7619 0V1M0.8095 0V1M0.8571 0V1M0.9048 0V1M0.9524 0V1M1 0V1M0 0H1M0 0.1111H1M0 0.2222H1M0 0.3333H1M0 0.4444H1M0 0.5556H1M0 0.6667H1M0 0.7778H1M0 0.8889H1M0 1H1" fill="none" stroke="#7C7840" stroke-width="0.9" stroke-opacity="0.62" vector-effect="non-scaling-stroke"/>
</g>
<g transform="matrix(86.9 19.7 0 47.9 1118.8 859.7)">
<clipPath id="dx1"><rect width="1" height="1"/></clipPath>
<g clip-path="url(#dx1)">
<rect width="1" height="1" fill="#1FE838"/><ellipse cx="0.5" cy="0.2" rx="0.4" ry="0.78" fill="url(#gCy)"/><rect width="1" height="1" fill="url(#gYL)"/><rect width="1" height="1" fill="url(#gYR)"/><path d="M0.335 0C0.335 0.5852 0.665 0.5852 0.665 0Z" fill="#1212C8"/>
</g>
<path d="M0 0V1M0.0476 0V1M0.0952 0V1M0.1429 0V1M0.1905 0V1M0.2381 0V1M0.2857 0V1M0.3333 0V1M0.381 0V1M0.4286 0V1M0.4762 0V1M0.5238 0V1M0.5714 0V1M0.619 0V1M0.6667 0V1M0.7143 0V1M0.7619 0V1M0.8095 0V1M0.8571 0V1M0.9048 0V1M0.9524 0V1M1 0V1M0 0H1M0 0.1111H1M0 0.2222H1M0 0.3333H1M0 0.4444H1M0 0.5556H1M0 0.6667H1M0 0.7778H1M0 0.8889H1M0 1H1" fill="none" stroke="#7C7840" stroke-width="0.9" stroke-opacity="0.62" vector-effect="non-scaling-stroke"/>
</g>
<g transform="matrix(29.6 -21.5 0 47.6 1216.4 876.7)">
<clipPath id="dx2"><rect width="1" height="1"/></clipPath>
<g clip-path="url(#dx2)">
<rect width="1" height="1" fill="#2FA23E"/><ellipse cx="0.5" cy="0.45" rx="0.22" ry="0.4" fill="url(#gTe)"/>
</g>
<path d="M0 0V1M0.1111 0V1M0.2222 0V1M0.3333 0V1M0.4444 0V1M0.5556 0V1M0.6667 0V1M0.7778 0V1M0.8889 0V1M1 0V1M0 0H1M0 0.1H1M0 0.2H1M0 0.3H1M0 0.4H1M0 0.5H1M0 0.6H1M0 0.7H1M0 0.8H1M0 0.9H1M0 1H1" fill="none" stroke="#7C7840" stroke-width="0.9" stroke-opacity="0.62" vector-effect="non-scaling-stroke"/>
</g>
<g transform="matrix(92 20.1 0 47.8 1252.4 854.4)">
<clipPath id="dx3"><rect width="1" height="1"/></clipPath>
<g clip-path="url(#dx3)">
<rect width="1" height="1" fill="#1FE838"/><ellipse cx="0.54" cy="0.2" rx="0.4" ry="0.78" fill="url(#gCy)"/><rect width="1" height="1" fill="url(#gYL)"/><rect width="1" height="1" fill="url(#gYR)"/><path d="M0.375 0C0.375 0.5852 0.705 0.5852 0.705 0Z" fill="#1212C8"/>
</g>
<path d="M0 0V1M0.0455 0V1M0.0909 0V1M0.1364 0V1M0.1818 0V1M0.2273 0V1M0.2727 0V1M0.3182 0V1M0.3636 0V1M0.4091 0V1M0.4545 0V1M0.5 0V1M0.5455 0V1M0.5909 0V1M0.6364 0V1M0.6818 0V1M0.7273 0V1M0.7727 0V1M0.8182 0V1M0.8636 0V1M0.9091 0V1M0.9545 0V1M1 0V1M0 0H1M0 0.1111H1M0 0.2222H1M0 0.3333H1M0 0.4444H1M0 0.5556H1M0 0.6667H1M0 0.7778H1M0 0.8889H1M0 1H1" fill="none" stroke="#7C7840" stroke-width="0.9" stroke-opacity="0.62" vector-effect="non-scaling-stroke"/>
</g>
<g transform="matrix(93.3 20.9 0 47.3 1352.7 877.8)">
<clipPath id="dx4"><rect width="1" height="1"/></clipPath>
<g clip-path="url(#dx4)">
<rect width="1" height="1" fill="#1FE838"/><ellipse cx="0.5" cy="0.2" rx="0.4" ry="0.78" fill="url(#gCy)"/><rect width="1" height="1" fill="url(#gYL)"/><rect width="1" height="1" fill="url(#gYR)"/><path d="M0.335 0C0.335 0.5852 0.665 0.5852 0.665 0Z" fill="#1212C8"/>
</g>
<path d="M0 0V1M0.0455 0V1M0.0909 0V1M0.1364 0V1M0.1818 0V1M0.2273 0V1M0.2727 0V1M0.3182 0V1M0.3636 0V1M0.4091 0V1M0.4545 0V1M0.5 0V1M0.5455 0V1M0.5909 0V1M0.6364 0V1M0.6818 0V1M0.7273 0V1M0.7727 0V1M0.8182 0V1M0.8636 0V1M0.9091 0V1M0.9545 0V1M1 0V1M0 0H1M0 0.1111H1M0 0.2222H1M0 0.3333H1M0 0.4444H1M0 0.5556H1M0 0.6667H1M0 0.7778H1M0 0.8889H1M0 1H1" fill="none" stroke="#7C7840" stroke-width="0.9" stroke-opacity="0.62" vector-effect="non-scaling-stroke"/>
</g>
<g transform="matrix(30.1 -21.5 0 48.4 1416.5 922.9)">
<clipPath id="dx5"><rect width="1" height="1"/></clipPath>
<g clip-path="url(#dx5)">
<rect width="1" height="1" fill="#2FA23E"/><ellipse cx="0.5" cy="0.45" rx="0.22" ry="0.4" fill="url(#gTe)"/>
</g>
<path d="M0 0V1M0.1111 0V1M0.2222 0V1M0.3333 0V1M0.4444 0V1M0.5556 0V1M0.6667 0V1M0.7778 0V1M0.8889 0V1M1 0V1M0 0H1M0 0.1H1M0 0.2H1M0 0.3H1M0 0.4H1M0 0.5H1M0 0.6H1M0 0.7H1M0 0.8H1M0 0.9H1M0 1H1" fill="none" stroke="#7C7840" stroke-width="0.9" stroke-opacity="0.62" vector-effect="non-scaling-stroke"/>
</g>
<g transform="matrix(87.1 19.3 0 47.8 952.9 888)">
<clipPath id="dx6"><rect width="1" height="1"/></clipPath>
<g clip-path="url(#dx6)">
<rect width="1" height="1" fill="#1FE838"/><ellipse cx="0.47" cy="0.2" rx="0.4" ry="0.78" fill="url(#gCy)"/><rect width="1" height="1" fill="url(#gYL)"/><rect width="1" height="1" fill="url(#gYR)"/><path d="M0.305 0C0.305 0.5852 0.635 0.5852 0.635 0Z" fill="#1212C8"/>
</g>
<path d="M0 0V1M0.0476 0V1M0.0952 0V1M0.1429 0V1M0.1905 0V1M0.2381 0V1M0.2857 0V1M0.3333 0V1M0.381 0V1M0.4286 0V1M0.4762 0V1M0.5238 0V1M0.5714 0V1M0.619 0V1M0.6667 0V1M0.7143 0V1M0.7619 0V1M0.8095 0V1M0.8571 0V1M0.9048 0V1M0.9524 0V1M1 0V1M0 0H1M0 0.1111H1M0 0.2222H1M0 0.3333H1M0 0.4444H1M0 0.5556H1M0 0.6667H1M0 0.7778H1M0 0.8889H1M0 1H1" fill="none" stroke="#7C7840" stroke-width="0.9" stroke-opacity="0.62" vector-effect="non-scaling-stroke"/>
</g>
<g transform="matrix(86.8 20.2 0 48.4 1053.5 910.8)">
<clipPath id="dx7"><rect width="1" height="1"/></clipPath>
<g clip-path="url(#dx7)">
<rect width="1" height="1" fill="#1FE838"/><ellipse cx="0.48" cy="0.2" rx="0.4" ry="0.78" fill="url(#gCy)"/><rect width="1" height="1" fill="url(#gYL)"/><rect width="1" height="1" fill="url(#gYR)"/><path d="M0.315 0C0.315 0.5852 0.645 0.5852 0.645 0Z" fill="#1212C8"/>
</g>
<path d="M0 0V1M0.0476 0V1M0.0952 0V1M0.1429 0V1M0.1905 0V1M0.2381 0V1M0.2857 0V1M0.3333 0V1M0.381 0V1M0.4286 0V1M0.4762 0V1M0.5238 0V1M0.5714 0V1M0.619 0V1M0.6667 0V1M0.7143 0V1M0.7619 0V1M0.8095 0V1M0.8571 0V1M0.9048 0V1M0.9524 0V1M1 0V1M0 0H1M0 0.1111H1M0 0.2222H1M0 0.3333H1M0 0.4444H1M0 0.5556H1M0 0.6667H1M0 0.7778H1M0 0.8889H1M0 1H1" fill="none" stroke="#7C7840" stroke-width="0.9" stroke-opacity="0.62" vector-effect="non-scaling-stroke"/>
</g>
<g transform="matrix(57.8 -44.4 0 45.7 1085.2 979.4)">
<clipPath id="dx8"><rect width="1" height="1"/></clipPath>
<g clip-path="url(#dx8)">
<rect width="1" height="1" fill="#2FA23E"/><ellipse cx="0.5" cy="0.45" rx="0.22" ry="0.4" fill="url(#gTe)"/><rect width="1" height="1" fill="url(#gOrR)"/><path d="M.28 .0L.68 0C.66 .3 .58 .5 .46 .52C.36 .5 .3 .3 .28 0Z" fill="#1A1C8E"/>
</g>
<path d="M0 0V1M0.0588 0V1M0.1176 0V1M0.1765 0V1M0.2353 0V1M0.2941 0V1M0.3529 0V1M0.4118 0V1M0.4706 0V1M0.5294 0V1M0.5882 0V1M0.6471 0V1M0.7059 0V1M0.7647 0V1M0.8235 0V1M0.8824 0V1M0.9412 0V1M1 0V1M0 0H1M0 0.1H1M0 0.2H1M0 0.3H1M0 0.4H1M0 0.5H1M0 0.6H1M0 0.7H1M0 0.8H1M0 0.9H1M0 1H1" fill="none" stroke="#7C7840" stroke-width="0.9" stroke-opacity="0.62" vector-effect="non-scaling-stroke"/>
</g>
<polygon points="1063.2,1007.6 1077.7,986.9 1077.7,1033.2 1069.1,1041.2 1063.2,1060.1" fill="url(#gSl)"/>
<g transform="matrix(70.5 15.3 0 46.5 1071.2 1018.4)">
<clipPath id="dy0"><rect width="1" height="1"/></clipPath>
<g clip-path="url(#dy0)">
<rect width="1" height="1" fill="#1FE838"/><ellipse cx="0.62" cy="0.2" rx="0.4" ry="0.78" fill="url(#gCy)"/><rect width="1" height="1" fill="url(#gYL)"/><rect width="1" height="1" fill="url(#gYR)"/><path d="M0.51 0C0.51 0.2926 0.73 0.2926 0.73 0Z" fill="#1212C8"/>
</g>
<path d="M0 0V1M0.0588 0V1M0.1176 0V1M0.1765 0V1M0.2353 0V1M0.2941 0V1M0.3529 0V1M0.4118 0V1M0.4706 0V1M0.5294 0V1M0.5882 0V1M0.6471 0V1M0.7059 0V1M0.7647 0V1M0.8235 0V1M0.8824 0V1M0.9412 0V1M1 0V1M0 0H1M0 0.1111H1M0 0.2222H1M0 0.3333H1M0 0.4444H1M0 0.5556H1M0 0.6667H1M0 0.7778H1M0 0.8889H1M0 1H1" fill="none" stroke="#7C7840" stroke-width="0.9" stroke-opacity="0.62" vector-effect="non-scaling-stroke"/>
</g>
<g transform="matrix(70.7 15.6 0 47.8 1150.3 1035.9)">
<clipPath id="dy1"><rect width="1" height="1"/></clipPath>
<g clip-path="url(#dy1)">
<rect width="1" height="1" fill="#1FE838"/><ellipse cx="0.4" cy="0.2" rx="0.4" ry="0.78" fill="url(#gCy)"/><rect width="1" height="1" fill="url(#gYL)"/><rect width="1" height="1" fill="url(#gYR)"/><path d="M0.29 0C0.29 0.266 0.51 0.266 0.51 0Z" fill="#1212C8"/>
</g>
<path d="M0 0V1M0.0588 0V1M0.1176 0V1M0.1765 0V1M0.2353 0V1M0.2941 0V1M0.3529 0V1M0.4118 0V1M0.4706 0V1M0.5294 0V1M0.5882 0V1M0.6471 0V1M0.7059 0V1M0.7647 0V1M0.8235 0V1M0.8824 0V1M0.9412 0V1M1 0V1M0 0H1M0 0.1111H1M0 0.2222H1M0 0.3333H1M0 0.4444H1M0 0.5556H1M0 0.6667H1M0 0.7778H1M0 0.8889H1M0 1H1" fill="none" stroke="#7C7840" stroke-width="0.9" stroke-opacity="0.62" vector-effect="non-scaling-stroke"/>
</g>
<linearGradient id="gMm" x1="0" y1="0" x2="1" y2="0"><stop offset="0" stop-color="#B8E020"/><stop offset="0.12" stop-color="#38D838"/><stop offset="0.6" stop-color="#30B890"/><stop offset="1" stop-color="#30A848"/></linearGradient>
<polygon points="1231.8,1052 1266.7,1042.6 1278.3,1033.2 1278.3,1080.2 1266.7,1088.3 1231.8,1100.4" fill="url(#gMm)"/>
<path d="M1231.8 1052L1231.8 1100.4M1236.2 1050.8L1236.2 1098.9M1240.5 1049.7L1240.5 1097.4M1244.9 1048.5L1244.9 1095.9M1249.2 1047.3L1249.2 1094.3M1253.6 1046.1L1253.6 1092.8M1258 1044.9L1258 1091.3M1262.3 1043.8L1262.3 1089.8M1266.7 1042.6L1266.7 1088.3M1231.8 1052L1266.7 1042.6M1231.8 1056.8L1266.7 1047.2M1231.8 1061.7L1266.7 1051.7M1231.8 1066.5L1266.7 1056.3M1231.8 1071.4L1266.7 1060.9M1231.8 1076.2L1266.7 1065.4M1231.8 1081L1266.7 1070M1231.8 1085.9L1266.7 1074.6M1231.8 1090.7L1266.7 1079.2M1231.8 1095.6L1266.7 1083.7M1231.8 1100.4L1266.7 1088.3" fill="none" stroke="#7C7840" stroke-width="0.8"/>
<path d="M1266.7 1042.6L1266.7 1088.3M1269.6 1040.2L1269.6 1086.3M1272.5 1037.9L1272.5 1084.2M1275.4 1035.5L1275.4 1082.2M1278.3 1033.2L1278.3 1080.2M1266.7 1042.6L1278.3 1033.2M1266.7 1047.2L1278.3 1037.9M1266.7 1051.7L1278.3 1042.6M1266.7 1056.3L1278.3 1047.3M1266.7 1060.9L1278.3 1052M1266.7 1065.4L1278.3 1056.7M1266.7 1070L1278.3 1061.4M1266.7 1074.6L1278.3 1066.1M1266.7 1079.2L1278.3 1070.8M1266.7 1083.7L1278.3 1075.5M1266.7 1088.3L1278.3 1080.2" fill="none" stroke="#7C7840" stroke-width="0.8"/>
<rect x="1301.6" y="599.7" width="24.6" height="50.6" fill="none" stroke="#E8202A" stroke-width="1.3"/>
<path d="M1323 650.3L1352 674" fill="none" stroke="#E8202A" stroke-width="1.4"/>
<polygon points="1354,676 1344.5,672.8 1349.6,666.7" fill="#E8202A"/>
<rect x="1335.6" y="675.7" width="57.4" height="151.3" fill="#fff" stroke="#E8202A" stroke-width="1.5"/>
<path d="M1342.7 683L1342.7 807.9M1349.7 685L1349.7 809.9M1356.7 687.1L1356.7 811.8M1363.7 689.1L1363.7 813.8M1370.6 691.2L1370.6 815.7M1377.6 693.2L1377.6 817.6M1384.6 695.3L1384.6 819.6M1342.7 683L1384.6 695.3M1342.7 694.4L1384.6 706.6M1342.7 705.7L1384.6 717.9M1342.7 717.1L1384.6 729.2M1342.7 728.4L1384.6 740.5M1342.7 739.8L1384.6 751.8M1342.7 751.1L1384.6 763.1M1342.7 762.5L1384.6 774.4M1342.7 773.8L1384.6 785.7M1342.7 785.2L1384.6 797M1342.7 796.5L1384.6 808.3M1342.7 807.9L1384.6 819.6" fill="none" stroke="#8A8A30" stroke-width="0.9"/>
<path d="M1358.9 687.4V811.8M1360.4 750L1361.2 790L1364.5 806L1362.5 811.5L1358.9 811.8" fill="none" stroke="#E8202A" stroke-width="1.4"/>
<text x="1347.6" y="719.5" font-size="10.5" font-weight="bold" fill="#33333B" text-anchor="start">1.02</text>
<text x="1345.6" y="808.5" font-size="10.5" font-weight="bold" fill="#33333B" text-anchor="start">−11.79</text>
<rect x="1126.3" y="934.2" width="25.3" height="61.9" fill="none" stroke="#E8202A" stroke-width="1.3"/>
<path d="M1151.6 959.2H1303" fill="none" stroke="#E8202A" stroke-width="1.4"/>
<polygon points="1308.9,959.2 1300,955.2 1300,963.2" fill="#E8202A"/>
<rect x="1308.9" y="939.1" width="74.8" height="152.4" fill="#fff" stroke="#E8202A" stroke-width="1.5"/>
<path d="M1325.6 974L1325.6 1086.4M1333.1 971.2L1333.1 1083.6M1340.6 968.4L1340.6 1080.7M1348.2 965.6L1348.2 1077.9M1355.7 962.8L1355.7 1075M1363.2 960L1363.2 1072.2M1325.6 974L1363.2 960M1325.6 984.2L1363.2 970.2M1325.6 994.4L1363.2 980.4M1325.6 1004.7L1363.2 990.6M1325.6 1014.9L1363.2 1000.8M1325.6 1025.1L1363.2 1011M1325.6 1035.3L1363.2 1021.2M1325.6 1045.5L1363.2 1031.4M1325.6 1055.7L1363.2 1041.6M1325.6 1066L1363.2 1051.8M1325.6 1076.2L1363.2 1062M1325.6 1086.4L1363.2 1072.2" fill="none" stroke="#8A8A30" stroke-width="0.9"/>
<polygon points="1325.6,974 1353,958.5 1361.5,957.5 1363.2,960" fill="none" stroke="#E8202A" stroke-width="1.3"/>
<text x="1334" y="956.8" font-size="13.2" font-weight="normal" fill="#3A4250" text-anchor="start">−20.55</text>
<text x="1311.3" y="973.3" font-size="13.2" font-weight="normal" fill="#3A4250" text-anchor="start">0.02</text>
<path d="M945 681l20 -15l13 3l-20 17zM958 686l27 6l10 -4l-5 -4l-15 -3" fill="none" stroke="#B0504A" stroke-width="0.8"/>
<ellipse cx="971" cy="667" rx="5.5" ry="3.2" fill="none" stroke="#222" stroke-width="0.8"/>
<ellipse cx="960" cy="677" rx="3" ry="2" fill="none" stroke="#B0504A" stroke-width="0.8"/>
<path d="M934.5 949l20 -15l13 3l-20 17zM947.5 954l27 6l10 -4l-5 -4l-15 -3" fill="none" stroke="#B0504A" stroke-width="0.8"/>
<ellipse cx="960.5" cy="935" rx="5.5" ry="3.2" fill="none" stroke="#222" stroke-width="0.8"/>
<ellipse cx="949.5" cy="945" rx="3" ry="2" fill="none" stroke="#B0504A" stroke-width="0.8"/>
<text x="903.5" y="576" font-size="16" font-weight="bold" fill="#1a1a1a" text-anchor="start">《Mxx最大》</text>
<text x="906.6" y="603.5" font-size="15.8" font-weight="bold" fill="#E8141C" text-anchor="start">《たて筋》</text>
<text x="899.4" y="837" font-size="16" font-weight="bold" fill="#1a1a1a" text-anchor="start">《Myy最大》</text>
<text x="904.6" y="864" font-size="15.8" font-weight="bold" fill="#E8141C" text-anchor="start">《よこ筋》</text>
<text x="14" y="27.5" font-size="21.7" font-weight="500" fill="#000" class="j">●解析モデル</text>
<text x="412.5" y="60.5" font-size="16" font-weight="bold" fill="#111" text-anchor="middle">《レンダリング表示》補強前</text>
<text x="849.5" y="33.5" font-size="21.7" font-weight="500" fill="#000" class="j">●変形図</text>
<text x="914.5" y="81" font-size="18.4" font-weight="500" fill="#111" text-anchor="start">《補強後》</text>
<text x="14" y="589" font-size="21.7" font-weight="500" fill="#000" class="j">●荷重載荷図</text>
<text x="210" y="606.5" font-size="14" font-weight="bold" fill="#111" text-anchor="start">面荷重、分布荷重載荷図（平面図）</text>
<text x="849.5" y="539.5" font-size="21.7" font-weight="500" fill="#000" class="j">●応力度図</text>
</svg>
</body></html>
